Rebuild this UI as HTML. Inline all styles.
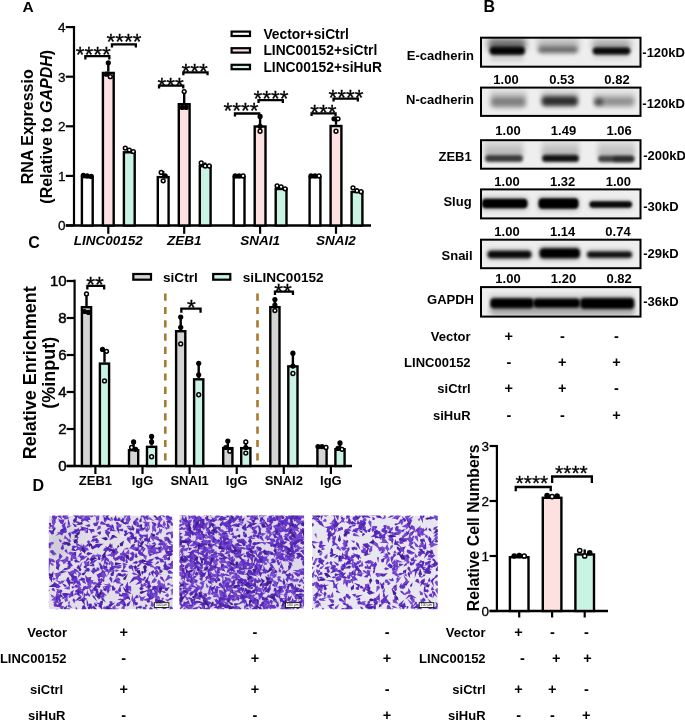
<!DOCTYPE html>
<html><head><meta charset="utf-8"><style>
html,body{margin:0;padding:0;background:#fff;}
body{width:685px;height:721px;overflow:hidden;}
svg{display:block;font-family:"Liberation Sans", sans-serif;will-change:transform;}
</style></head><body>
<svg width="685" height="721" viewBox="0 0 685 721">
<defs><linearGradient id="hzg" x1="0" y1="0" x2="0" y2="1"><stop offset="0" stop-color="#000" stop-opacity="0.25"/><stop offset="1" stop-color="#000" stop-opacity="1"/></linearGradient><clipPath id="cb0"><rect x="480" y="36.70" width="161.5" height="31.00"/></clipPath><filter id="fb3_0" x="-30%" y="-150%" width="160%" height="400%"><feGaussianBlur stdDeviation="3.0"/></filter><filter id="fb1_8" x="-30%" y="-150%" width="160%" height="400%"><feGaussianBlur stdDeviation="1.8"/></filter><filter id="fb2_5" x="-30%" y="-150%" width="160%" height="400%"><feGaussianBlur stdDeviation="2.5"/></filter><filter id="fb2_0" x="-30%" y="-150%" width="160%" height="400%"><feGaussianBlur stdDeviation="2.0"/></filter><filter id="fb1_7" x="-30%" y="-150%" width="160%" height="400%"><feGaussianBlur stdDeviation="1.7"/></filter><clipPath id="cb1"><rect x="480" y="86.60" width="161.5" height="30.30"/></clipPath><filter id="fb2_8" x="-30%" y="-150%" width="160%" height="400%"><feGaussianBlur stdDeviation="2.8"/></filter><filter id="fb2_6" x="-30%" y="-150%" width="160%" height="400%"><feGaussianBlur stdDeviation="2.6"/></filter><filter id="fb2_3" x="-30%" y="-150%" width="160%" height="400%"><feGaussianBlur stdDeviation="2.3"/></filter><clipPath id="cb2"><rect x="480" y="139.20" width="161.5" height="30.50"/></clipPath><clipPath id="cb3"><rect x="480" y="188.40" width="161.5" height="31.00"/></clipPath><filter id="fb1_3" x="-30%" y="-150%" width="160%" height="400%"><feGaussianBlur stdDeviation="1.3"/></filter><clipPath id="cb4"><rect x="480" y="238.70" width="161.5" height="30.50"/></clipPath><filter id="fb1_6" x="-30%" y="-150%" width="160%" height="400%"><feGaussianBlur stdDeviation="1.6"/></filter><clipPath id="cb5"><rect x="480" y="286.10" width="161.5" height="31.50"/></clipPath><filter id="fb1_5" x="-30%" y="-150%" width="160%" height="400%"><feGaussianBlur stdDeviation="1.5"/></filter><filter id="mblur" x="-5%" y="-5%" width="110%" height="110%"><feGaussianBlur stdDeviation="0.55"/></filter><filter id="mblur2" x="-20%" y="-20%" width="140%" height="140%"><feGaussianBlur stdDeviation="4"/></filter><clipPath id="cm0"><rect x="48.8" y="515.5" width="124.1" height="93.7"/></clipPath><clipPath id="cm1"><rect x="179.4" y="515.5" width="124.7" height="93.7"/></clipPath><clipPath id="cm2"><rect x="312.1" y="515.5" width="125.7" height="93.7"/></clipPath></defs>
<text x="22.40" y="12.00" font-size="15.5" font-weight="bold" font-style="normal" text-anchor="start" >A</text>
<line x1="74.00" y1="26.00" x2="74.00" y2="225.50" stroke="#000" stroke-width="2.2" />
<line x1="65.80" y1="225.50" x2="74.00" y2="225.50" stroke="#000" stroke-width="2.2" />
<text x="65.60" y="230.30" font-size="13.5" font-weight="normal" font-style="normal" text-anchor="end" stroke="#000" stroke-width="0.3">0</text>
<line x1="65.80" y1="175.90" x2="74.00" y2="175.90" stroke="#000" stroke-width="2.2" />
<text x="65.60" y="180.70" font-size="13.5" font-weight="normal" font-style="normal" text-anchor="end" stroke="#000" stroke-width="0.3">1</text>
<line x1="65.80" y1="126.30" x2="74.00" y2="126.30" stroke="#000" stroke-width="2.2" />
<text x="65.60" y="131.10" font-size="13.5" font-weight="normal" font-style="normal" text-anchor="end" stroke="#000" stroke-width="0.3">2</text>
<line x1="65.80" y1="76.70" x2="74.00" y2="76.70" stroke="#000" stroke-width="2.2" />
<text x="65.60" y="81.50" font-size="13.5" font-weight="normal" font-style="normal" text-anchor="end" stroke="#000" stroke-width="0.3">3</text>
<line x1="65.80" y1="27.10" x2="74.00" y2="27.10" stroke="#000" stroke-width="2.2" />
<text x="65.60" y="31.90" font-size="13.5" font-weight="normal" font-style="normal" text-anchor="end" stroke="#000" stroke-width="0.3">4</text>
<line x1="65.80" y1="225.50" x2="371.00" y2="225.50" stroke="#000" stroke-width="2.5" />
<rect x="81.90" y="177.10" width="10.80" height="48.40" fill="#fff" stroke="#000" stroke-width="2.4"/>
<line x1="87.30" y1="175.90" x2="87.30" y2="174.91" stroke="#000" stroke-width="2.4" />
<circle cx="87.30" cy="175.90" r="2.6" fill="#000"/>
<circle cx="83.30" cy="175.40" r="2.6" fill="#000"/>
<circle cx="91.30" cy="176.40" r="2.6" fill="#000"/>
<rect x="102.90" y="72.94" width="10.80" height="152.56" fill="#fde0e0" stroke="#000" stroke-width="2.4"/>
<line x1="108.30" y1="71.74" x2="108.30" y2="62.81" stroke="#000" stroke-width="2.4" />
<circle cx="108.30" cy="62.81" r="2.6" fill="#000"/>
<circle cx="110.30" cy="76.70" r="1.90" fill="#fff" stroke="#000" stroke-width="1.5"/>
<circle cx="106.30" cy="74.22" r="2.6" fill="#000"/>
<rect x="123.90" y="152.30" width="10.80" height="73.20" fill="#c9f4e3" stroke="#000" stroke-width="2.4"/>
<line x1="129.30" y1="151.10" x2="129.30" y2="148.62" stroke="#000" stroke-width="2.4" />
<circle cx="129.30" cy="150.11" r="1.90" fill="#fff" stroke="#000" stroke-width="1.5"/>
<circle cx="125.30" cy="148.12" r="1.90" fill="#fff" stroke="#000" stroke-width="1.5"/>
<circle cx="133.30" cy="151.60" r="1.90" fill="#fff" stroke="#000" stroke-width="1.5"/>
<line x1="108.30" y1="225.50" x2="108.30" y2="233.80" stroke="#000" stroke-width="2.2" />
<rect x="157.80" y="177.10" width="10.80" height="48.40" fill="#fff" stroke="#000" stroke-width="2.4"/>
<line x1="163.20" y1="175.90" x2="163.20" y2="170.94" stroke="#000" stroke-width="2.4" />
<circle cx="161.20" cy="172.43" r="1.90" fill="#fff" stroke="#000" stroke-width="1.5"/>
<circle cx="163.20" cy="180.86" r="1.90" fill="#fff" stroke="#000" stroke-width="1.5"/>
<circle cx="165.20" cy="175.90" r="2.6" fill="#000"/>
<rect x="178.80" y="104.19" width="10.80" height="121.31" fill="#fde0e0" stroke="#000" stroke-width="2.4"/>
<line x1="184.20" y1="102.99" x2="184.20" y2="91.58" stroke="#000" stroke-width="2.4" />
<circle cx="184.20" cy="91.58" r="1.90" fill="#fff" stroke="#000" stroke-width="1.5"/>
<circle cx="182.20" cy="107.45" r="2.6" fill="#000"/>
<circle cx="186.20" cy="107.45" r="2.6" fill="#000"/>
<rect x="199.80" y="166.19" width="10.80" height="59.31" fill="#c9f4e3" stroke="#000" stroke-width="2.4"/>
<line x1="205.20" y1="164.99" x2="205.20" y2="162.51" stroke="#000" stroke-width="2.4" />
<circle cx="201.20" cy="163.00" r="1.90" fill="#fff" stroke="#000" stroke-width="1.5"/>
<circle cx="205.20" cy="165.98" r="1.90" fill="#fff" stroke="#000" stroke-width="1.5"/>
<circle cx="209.20" cy="165.98" r="1.90" fill="#fff" stroke="#000" stroke-width="1.5"/>
<line x1="184.20" y1="225.50" x2="184.20" y2="233.80" stroke="#000" stroke-width="2.2" />
<rect x="233.70" y="177.10" width="10.80" height="48.40" fill="#fff" stroke="#000" stroke-width="2.4"/>
<circle cx="235.10" cy="175.90" r="2.6" fill="#000"/>
<circle cx="239.10" cy="175.90" r="2.6" fill="#000"/>
<circle cx="243.10" cy="175.90" r="1.90" fill="#fff" stroke="#000" stroke-width="1.5"/>
<rect x="254.70" y="126.51" width="10.80" height="98.99" fill="#fde0e0" stroke="#000" stroke-width="2.4"/>
<line x1="260.10" y1="125.31" x2="260.10" y2="116.38" stroke="#000" stroke-width="2.4" />
<circle cx="260.10" cy="116.38" r="2.6" fill="#000"/>
<circle cx="260.10" cy="126.30" r="2.6" fill="#000"/>
<circle cx="260.10" cy="131.26" r="1.90" fill="#fff" stroke="#000" stroke-width="1.5"/>
<rect x="275.70" y="189.00" width="10.80" height="36.50" fill="#c9f4e3" stroke="#000" stroke-width="2.4"/>
<line x1="281.10" y1="187.80" x2="281.10" y2="185.82" stroke="#000" stroke-width="2.4" />
<circle cx="277.10" cy="185.82" r="1.90" fill="#fff" stroke="#000" stroke-width="1.5"/>
<circle cx="281.10" cy="186.81" r="1.90" fill="#fff" stroke="#000" stroke-width="1.5"/>
<circle cx="285.10" cy="188.80" r="1.90" fill="#fff" stroke="#000" stroke-width="1.5"/>
<line x1="260.10" y1="225.50" x2="260.10" y2="233.80" stroke="#000" stroke-width="2.2" />
<rect x="309.60" y="177.10" width="10.80" height="48.40" fill="#fff" stroke="#000" stroke-width="2.4"/>
<circle cx="311.00" cy="175.90" r="2.6" fill="#000"/>
<circle cx="315.00" cy="175.90" r="2.6" fill="#000"/>
<circle cx="319.00" cy="175.90" r="1.90" fill="#fff" stroke="#000" stroke-width="1.5"/>
<rect x="330.60" y="126.01" width="10.80" height="99.49" fill="#fde0e0" stroke="#000" stroke-width="2.4"/>
<line x1="336.00" y1="124.81" x2="336.00" y2="116.38" stroke="#000" stroke-width="2.4" />
<circle cx="334.00" cy="118.86" r="2.6" fill="#000"/>
<circle cx="338.00" cy="118.86" r="1.90" fill="#fff" stroke="#000" stroke-width="1.5"/>
<circle cx="336.00" cy="131.26" r="1.90" fill="#fff" stroke="#000" stroke-width="1.5"/>
<rect x="351.60" y="191.98" width="10.80" height="33.52" fill="#c9f4e3" stroke="#000" stroke-width="2.4"/>
<line x1="357.00" y1="190.78" x2="357.00" y2="188.30" stroke="#000" stroke-width="2.4" />
<circle cx="353.00" cy="187.80" r="1.90" fill="#fff" stroke="#000" stroke-width="1.5"/>
<circle cx="357.00" cy="190.78" r="1.90" fill="#fff" stroke="#000" stroke-width="1.5"/>
<circle cx="361.00" cy="191.77" r="1.90" fill="#fff" stroke="#000" stroke-width="1.5"/>
<line x1="336.00" y1="225.50" x2="336.00" y2="233.80" stroke="#000" stroke-width="2.2" />
<text x="108.30" y="245.00" font-size="13.5" font-weight="bold" font-style="italic" text-anchor="middle" >LINC00152</text>
<text x="184.20" y="245.00" font-size="13.5" font-weight="bold" font-style="italic" text-anchor="middle" >ZEB1</text>
<text x="260.10" y="245.00" font-size="13.5" font-weight="bold" font-style="italic" text-anchor="middle" >SNAI1</text>
<text x="336.00" y="245.00" font-size="13.5" font-weight="bold" font-style="italic" text-anchor="middle" >SNAI2</text>
<text transform="translate(33.0,126.8) rotate(-90)" font-size="16" font-weight="bold" text-anchor="middle">RNA Expressio</text>
<text transform="translate(52.2,126.8) rotate(-90)" font-size="16" font-weight="bold" text-anchor="middle">(Relative to <tspan font-style="italic">GAPDH</tspan>)</text>
<rect x="231.6" y="31.60" width="18.4" height="4.4" fill="#fff" stroke="#000" stroke-width="2.2"/>
<text x="263.40" y="38.70" font-size="13.8" font-weight="bold" font-style="normal" text-anchor="start" >Vector+siCtrl</text>
<rect x="231.6" y="48.20" width="18.4" height="4.4" fill="#fde0e0" stroke="#000" stroke-width="2.2"/>
<text x="263.40" y="55.30" font-size="13.8" font-weight="bold" font-style="normal" text-anchor="start" >LINC00152+siCtrl</text>
<rect x="231.6" y="64.80" width="18.4" height="4.4" fill="#c9f4e3" stroke="#000" stroke-width="2.2"/>
<text x="263.40" y="71.90" font-size="13.8" font-weight="bold" font-style="normal" text-anchor="start" >LINC00152+siHuR</text>
<path d="M85.35,59.40 V56.10 H109.35 V59.40" fill="none" stroke="#000" stroke-width="2.3" stroke-linejoin="miter"/>
<text x="75.85" y="61.82" font-size="22.5" font-weight="normal" font-style="normal" text-anchor="start" stroke="#000" stroke-width="0.3">****</text>
<path d="M111.95,47.50 V44.30 H135.85 V47.50" fill="none" stroke="#000" stroke-width="2.3" stroke-linejoin="miter"/>
<text x="106.55" y="49.32" font-size="22.5" font-weight="normal" font-style="normal" text-anchor="start" stroke="#000" stroke-width="0.3">****</text>
<path d="M159.05,88.40 V85.60 H183.25 V88.40" fill="none" stroke="#000" stroke-width="2.3" stroke-linejoin="miter"/>
<text x="157.45" y="92.72" font-size="22.5" font-weight="normal" font-style="normal" text-anchor="start" stroke="#000" stroke-width="0.3">***</text>
<path d="M183.35,75.20 V72.40 H207.55 V75.20" fill="none" stroke="#000" stroke-width="2.3" stroke-linejoin="miter"/>
<text x="181.55" y="78.82" font-size="22.5" font-weight="normal" font-style="normal" text-anchor="start" stroke="#000" stroke-width="0.3">***</text>
<path d="M234.95,116.40 V113.50 H259.15 V116.40" fill="none" stroke="#000" stroke-width="2.3" stroke-linejoin="miter"/>
<text x="223.55" y="118.32" font-size="22.5" font-weight="normal" font-style="normal" text-anchor="start" stroke="#000" stroke-width="0.3">****</text>
<path d="M258.55,103.00 V100.20 H282.85 V103.00" fill="none" stroke="#000" stroke-width="2.3" stroke-linejoin="miter"/>
<text x="253.45" y="106.03" font-size="22.5" font-weight="normal" font-style="normal" text-anchor="start" stroke="#000" stroke-width="0.3">****</text>
<path d="M311.55,115.90 V113.40 H335.55 V115.90" fill="none" stroke="#000" stroke-width="2.3" stroke-linejoin="miter"/>
<text x="310.35" y="120.03" font-size="22.5" font-weight="normal" font-style="normal" text-anchor="start" stroke="#000" stroke-width="0.3">***</text>
<path d="M333.55,101.60 V98.70 H357.85 V101.60" fill="none" stroke="#000" stroke-width="2.3" stroke-linejoin="miter"/>
<text x="328.45" y="105.43" font-size="22.5" font-weight="normal" font-style="normal" text-anchor="start" stroke="#000" stroke-width="0.3">****</text>
<text x="483.60" y="11.90" font-size="16" font-weight="bold" font-style="normal" text-anchor="start" >B</text>
<g clip-path="url(#cb0)">
<rect x="480" y="36.70" width="161.5" height="31.00" fill="#eeeeee"/>
<rect x="488.00" y="38.50" width="38.00" height="12.00" rx="4.00" fill="#000" opacity="0.550" filter="url(#fb3_0)"/>
<rect x="489.50" y="46.55" width="35.50" height="8.50" rx="4.00" fill="#000" opacity="0.970" filter="url(#fb1_8)"/>
<rect x="490.00" y="55.00" width="34.00" height="5.00" rx="2.50" fill="#000" opacity="0.180" filter="url(#fb2_5)"/>
<rect x="537.00" y="38.50" width="42.00" height="11.00" rx="4.00" fill="#000" opacity="0.220" filter="url(#fb3_0)"/>
<rect x="538.00" y="46.40" width="40.00" height="6.80" rx="3.40" fill="#000" opacity="0.500" filter="url(#fb2_0)"/>
<rect x="592.00" y="40.00" width="39.00" height="10.00" rx="4.00" fill="#000" opacity="0.300" filter="url(#fb3_0)"/>
<rect x="592.50" y="47.30" width="38.00" height="7.40" rx="3.70" fill="#000" opacity="0.950" filter="url(#fb1_7)"/>
<rect x="593.00" y="54.50" width="37.00" height="4.00" rx="2.00" fill="#000" opacity="0.140" filter="url(#fb2_5)"/>
</g>
<rect x="481" y="37.70" width="159.5" height="29.00" fill="none" stroke="#000" stroke-width="2"/>
<text x="474.00" y="60.20" font-size="13" font-weight="bold" font-style="normal" text-anchor="end" >E-cadherin</text>
<text x="642.30" y="57.20" font-size="13" font-weight="bold" font-style="normal" text-anchor="start" >-120kD</text>
<g clip-path="url(#cb1)">
<rect x="480" y="86.60" width="161.5" height="30.30" fill="#eeeeee"/>
<rect x="490.00" y="90.50" width="37.00" height="9.00" rx="4.00" fill="#000" opacity="0.140" filter="url(#fb2_8)"/>
<rect x="490.50" y="97.30" width="35.50" height="10.00" rx="4.00" fill="#000" opacity="0.460" filter="url(#fb2_6)"/>
<rect x="541.00" y="90.50" width="38.00" height="9.00" rx="4.00" fill="#000" opacity="0.150" filter="url(#fb2_8)"/>
<rect x="541.50" y="96.30" width="36.50" height="10.00" rx="4.00" fill="#000" opacity="0.800" filter="url(#fb2_3)"/>
<rect x="593.00" y="91.50" width="43.00" height="9.00" rx="4.00" fill="#000" opacity="0.100" filter="url(#fb2_8)"/>
<rect x="594.50" y="97.50" width="40.00" height="9.00" rx="4.00" fill="#000" opacity="0.380" filter="url(#fb2_5)"/>
<rect x="594.00" y="98.50" width="9.00" height="7.00" rx="3.50" fill="#000" opacity="0.500" filter="url(#fb2_0)"/>
</g>
<rect x="481" y="87.60" width="159.5" height="28.30" fill="none" stroke="#000" stroke-width="2"/>
<text x="474.00" y="103.90" font-size="13" font-weight="bold" font-style="normal" text-anchor="end" >N-cadherin</text>
<text x="642.30" y="108.40" font-size="13" font-weight="bold" font-style="normal" text-anchor="start" >-120kD</text>
<g clip-path="url(#cb2)">
<rect x="480" y="139.20" width="161.5" height="30.50" fill="#eeeeee"/>
<rect x="484.70" y="141.00" width="38.50" height="15.00" fill="url(#hzg)" opacity="0.280" filter="url(#fb2_5)"/>
<rect x="485.00" y="154.90" width="38.00" height="7.00" rx="3.50" fill="#000" opacity="0.740" filter="url(#fb1_8)"/>
<rect x="541.80" y="141.00" width="37.20" height="15.00" fill="url(#hzg)" opacity="0.280" filter="url(#fb2_5)"/>
<rect x="542.00" y="154.70" width="37.00" height="7.40" rx="3.70" fill="#000" opacity="0.920" filter="url(#fb1_8)"/>
<rect x="597.60" y="141.00" width="37.30" height="15.00" fill="url(#hzg)" opacity="0.250" filter="url(#fb2_5)"/>
<rect x="598.00" y="155.40" width="36.50" height="6.80" rx="3.40" fill="#000" opacity="0.720" filter="url(#fb1_8)"/>
<rect x="613.00" y="156.30" width="21.00" height="6.00" rx="3.00" fill="#000" opacity="0.350" filter="url(#fb1_8)"/>
</g>
<rect x="481" y="140.20" width="159.5" height="28.50" fill="none" stroke="#000" stroke-width="2"/>
<text x="471.70" y="160.60" font-size="13" font-weight="bold" font-style="normal" text-anchor="end" >ZEB1</text>
<text x="643.20" y="159.90" font-size="13" font-weight="bold" font-style="normal" text-anchor="start" >-200kD</text>
<g clip-path="url(#cb3)">
<rect x="480" y="188.40" width="161.5" height="31.00" fill="#eeeeee"/>
<rect x="481.00" y="197.00" width="47.00" height="13.00" rx="4.00" fill="#000" opacity="0.250" filter="url(#fb2_5)"/>
<rect x="482.00" y="198.65" width="45.50" height="9.50" rx="4.00" fill="#000" opacity="1.000" filter="url(#fb1_3)"/>
<rect x="538.00" y="196.50" width="41.00" height="14.00" rx="4.00" fill="#000" opacity="0.250" filter="url(#fb2_5)"/>
<rect x="538.50" y="198.15" width="40.00" height="10.50" rx="4.00" fill="#000" opacity="1.000" filter="url(#fb1_3)"/>
<rect x="589.00" y="200.00" width="43.40" height="9.00" rx="4.00" fill="#000" opacity="0.200" filter="url(#fb2_5)"/>
<rect x="589.50" y="201.15" width="42.50" height="6.50" rx="3.25" fill="#000" opacity="0.950" filter="url(#fb1_3)"/>
</g>
<rect x="481" y="189.40" width="159.5" height="29.00" fill="none" stroke="#000" stroke-width="2"/>
<text x="471.60" y="206.20" font-size="13" font-weight="bold" font-style="normal" text-anchor="end" >Slug</text>
<text x="643.20" y="210.60" font-size="13" font-weight="bold" font-style="normal" text-anchor="start" >-30kD</text>
<g clip-path="url(#cb4)">
<rect x="480" y="238.70" width="161.5" height="30.50" fill="#eeeeee"/>
<rect x="487.00" y="249.00" width="44.80" height="11.00" rx="4.00" fill="#000" opacity="0.220" filter="url(#fb2_5)"/>
<rect x="487.50" y="250.80" width="44.00" height="7.40" rx="3.70" fill="#000" opacity="0.950" filter="url(#fb1_6)"/>
<rect x="539.30" y="246.30" width="40.90" height="14.00" rx="4.00" fill="#000" opacity="0.250" filter="url(#fb2_5)"/>
<rect x="539.50" y="248.30" width="40.50" height="10.00" rx="4.00" fill="#000" opacity="1.000" filter="url(#fb1_6)"/>
<rect x="586.40" y="249.60" width="46.00" height="10.00" rx="4.00" fill="#000" opacity="0.200" filter="url(#fb2_5)"/>
<rect x="587.00" y="251.40" width="45.00" height="6.40" rx="3.20" fill="#000" opacity="0.920" filter="url(#fb1_6)"/>
</g>
<rect x="481" y="239.70" width="159.5" height="28.50" fill="none" stroke="#000" stroke-width="2"/>
<text x="472.60" y="259.90" font-size="13" font-weight="bold" font-style="normal" text-anchor="end" >Snail</text>
<text x="643.20" y="257.60" font-size="13" font-weight="bold" font-style="normal" text-anchor="start" >-29kD</text>
<g clip-path="url(#cb5)">
<rect x="480" y="286.10" width="161.5" height="31.50" fill="#eeeeee"/>
<rect x="489.60" y="306.00" width="145.20" height="9.00" rx="4.00" fill="#000" opacity="0.300" filter="url(#fb2_6)"/>
<rect x="489.60" y="294.00" width="145.20" height="6.00" rx="3.00" fill="#000" opacity="0.120" filter="url(#fb2_5)"/>
<rect x="490.00" y="298.00" width="44.00" height="10.40" rx="4.00" fill="#000" opacity="1.000" filter="url(#fb1_5)"/>
<rect x="533.00" y="298.30" width="47.50" height="9.80" rx="4.00" fill="#000" opacity="1.000" filter="url(#fb1_5)"/>
<rect x="580.00" y="297.70" width="54.50" height="11.40" rx="4.00" fill="#000" opacity="1.000" filter="url(#fb1_5)"/>
</g>
<rect x="481" y="287.10" width="159.5" height="29.50" fill="none" stroke="#000" stroke-width="2"/>
<text x="474.00" y="304.40" font-size="13" font-weight="bold" font-style="normal" text-anchor="end" >GAPDH</text>
<text x="643.20" y="305.60" font-size="13" font-weight="bold" font-style="normal" text-anchor="start" >-36kD</text>
<text x="506.00" y="83.90" font-size="13" font-weight="bold" font-style="normal" text-anchor="middle" >1.00</text>
<text x="561.90" y="83.90" font-size="13" font-weight="bold" font-style="normal" text-anchor="middle" >0.53</text>
<text x="617.00" y="83.90" font-size="13" font-weight="bold" font-style="normal" text-anchor="middle" >0.82</text>
<text x="508.00" y="134.50" font-size="13" font-weight="bold" font-style="normal" text-anchor="middle" >1.00</text>
<text x="563.50" y="134.50" font-size="13" font-weight="bold" font-style="normal" text-anchor="middle" >1.49</text>
<text x="619.10" y="134.50" font-size="13" font-weight="bold" font-style="normal" text-anchor="middle" >1.06</text>
<text x="507.00" y="185.90" font-size="13" font-weight="bold" font-style="normal" text-anchor="middle" >1.00</text>
<text x="562.70" y="185.90" font-size="13" font-weight="bold" font-style="normal" text-anchor="middle" >1.32</text>
<text x="618.40" y="185.90" font-size="13" font-weight="bold" font-style="normal" text-anchor="middle" >1.00</text>
<text x="507.00" y="235.50" font-size="13" font-weight="bold" font-style="normal" text-anchor="middle" >1.00</text>
<text x="562.70" y="235.50" font-size="13" font-weight="bold" font-style="normal" text-anchor="middle" >1.14</text>
<text x="618.00" y="235.50" font-size="13" font-weight="bold" font-style="normal" text-anchor="middle" >0.74</text>
<text x="508.00" y="282.80" font-size="13" font-weight="bold" font-style="normal" text-anchor="middle" >1.00</text>
<text x="563.50" y="282.80" font-size="13" font-weight="bold" font-style="normal" text-anchor="middle" >1.20</text>
<text x="619.10" y="282.80" font-size="13" font-weight="bold" font-style="normal" text-anchor="middle" >0.82</text>
<text x="470.60" y="341.00" font-size="13" font-weight="bold" font-style="normal" text-anchor="end" >Vector</text>
<text x="508.80" y="341.00" font-size="14.5" font-weight="bold" font-style="normal" text-anchor="middle" >+</text>
<text x="562.30" y="341.00" font-size="14.5" font-weight="bold" font-style="normal" text-anchor="middle" >-</text>
<text x="616.50" y="341.00" font-size="14.5" font-weight="bold" font-style="normal" text-anchor="middle" >-</text>
<text x="470.60" y="367.40" font-size="13" font-weight="bold" font-style="normal" text-anchor="end" >LINC00152</text>
<text x="508.80" y="367.40" font-size="14.5" font-weight="bold" font-style="normal" text-anchor="middle" >-</text>
<text x="562.30" y="367.40" font-size="14.5" font-weight="bold" font-style="normal" text-anchor="middle" >+</text>
<text x="616.50" y="367.40" font-size="14.5" font-weight="bold" font-style="normal" text-anchor="middle" >+</text>
<text x="470.60" y="392.80" font-size="13" font-weight="bold" font-style="normal" text-anchor="end" >siCtrl</text>
<text x="508.80" y="392.80" font-size="14.5" font-weight="bold" font-style="normal" text-anchor="middle" >+</text>
<text x="562.30" y="392.80" font-size="14.5" font-weight="bold" font-style="normal" text-anchor="middle" >+</text>
<text x="616.50" y="392.80" font-size="14.5" font-weight="bold" font-style="normal" text-anchor="middle" >-</text>
<text x="470.60" y="420.40" font-size="13" font-weight="bold" font-style="normal" text-anchor="end" >siHuR</text>
<text x="508.80" y="420.40" font-size="14.5" font-weight="bold" font-style="normal" text-anchor="middle" >-</text>
<text x="562.30" y="420.40" font-size="14.5" font-weight="bold" font-style="normal" text-anchor="middle" >-</text>
<text x="616.50" y="420.40" font-size="14.5" font-weight="bold" font-style="normal" text-anchor="middle" >+</text>
<text x="28.20" y="248.00" font-size="16" font-weight="bold" font-style="normal" text-anchor="start" >C</text>
<line x1="74.60" y1="279.60" x2="74.60" y2="466.00" stroke="#000" stroke-width="2.2" />
<line x1="66.60" y1="466.00" x2="74.60" y2="466.00" stroke="#000" stroke-width="2.2" />
<text x="66.60" y="471.40" font-size="15" font-weight="normal" font-style="normal" text-anchor="end" stroke="#000" stroke-width="0.45">0</text>
<line x1="66.60" y1="429.00" x2="74.60" y2="429.00" stroke="#000" stroke-width="2.2" />
<text x="66.60" y="434.40" font-size="15" font-weight="normal" font-style="normal" text-anchor="end" stroke="#000" stroke-width="0.45">2</text>
<line x1="66.60" y1="392.00" x2="74.60" y2="392.00" stroke="#000" stroke-width="2.2" />
<text x="66.60" y="397.40" font-size="15" font-weight="normal" font-style="normal" text-anchor="end" stroke="#000" stroke-width="0.45">4</text>
<line x1="66.60" y1="355.00" x2="74.60" y2="355.00" stroke="#000" stroke-width="2.2" />
<text x="66.60" y="360.40" font-size="15" font-weight="normal" font-style="normal" text-anchor="end" stroke="#000" stroke-width="0.45">6</text>
<line x1="66.60" y1="318.00" x2="74.60" y2="318.00" stroke="#000" stroke-width="2.2" />
<text x="66.60" y="323.40" font-size="15" font-weight="normal" font-style="normal" text-anchor="end" stroke="#000" stroke-width="0.45">8</text>
<line x1="66.60" y1="281.00" x2="74.60" y2="281.00" stroke="#000" stroke-width="2.2" />
<text x="66.60" y="286.40" font-size="15" font-weight="normal" font-style="normal" text-anchor="end" stroke="#000" stroke-width="0.45">10</text>
<line x1="66.60" y1="466.00" x2="352.00" y2="466.00" stroke="#000" stroke-width="2.5" />
<rect x="81.90" y="307.18" width="9.20" height="158.82" fill="#d4d4d4" stroke="#000" stroke-width="2.4"/>
<line x1="86.50" y1="305.98" x2="86.50" y2="293.95" stroke="#000" stroke-width="2.4" />
<circle cx="86.50" cy="293.95" r="1.90" fill="#fff" stroke="#000" stroke-width="1.5"/>
<circle cx="88.50" cy="312.45" r="2.6" fill="#000"/>
<circle cx="84.50" cy="311.52" r="2.6" fill="#000"/>
<rect x="99.90" y="363.60" width="9.20" height="102.40" fill="#c9f4e3" stroke="#000" stroke-width="2.4"/>
<line x1="104.50" y1="362.40" x2="104.50" y2="349.45" stroke="#000" stroke-width="2.4" />
<circle cx="102.50" cy="349.45" r="2.6" fill="#000"/>
<circle cx="106.50" cy="351.30" r="1.90" fill="#fff" stroke="#000" stroke-width="1.5"/>
<circle cx="104.50" cy="380.90" r="1.90" fill="#fff" stroke="#000" stroke-width="1.5"/>
<line x1="95.40" y1="466.00" x2="95.40" y2="474.00" stroke="#000" stroke-width="2.2" />
<rect x="129.00" y="450.18" width="9.20" height="15.82" fill="#d4d4d4" stroke="#000" stroke-width="2.4"/>
<line x1="133.60" y1="448.98" x2="133.60" y2="441.95" stroke="#000" stroke-width="2.4" />
<circle cx="133.60" cy="441.95" r="2.6" fill="#000"/>
<circle cx="135.60" cy="449.35" r="2.6" fill="#000"/>
<circle cx="131.60" cy="447.50" r="1.90" fill="#fff" stroke="#000" stroke-width="1.5"/>
<rect x="147.00" y="446.85" width="9.20" height="19.15" fill="#c9f4e3" stroke="#000" stroke-width="2.4"/>
<line x1="151.60" y1="445.65" x2="151.60" y2="436.40" stroke="#000" stroke-width="2.4" />
<circle cx="151.60" cy="436.40" r="2.6" fill="#000"/>
<circle cx="151.60" cy="441.95" r="2.6" fill="#000"/>
<circle cx="151.60" cy="456.75" r="1.90" fill="#fff" stroke="#000" stroke-width="1.5"/>
<line x1="142.50" y1="466.00" x2="142.50" y2="474.00" stroke="#000" stroke-width="2.2" />
<rect x="176.10" y="331.22" width="9.20" height="134.78" fill="#d4d4d4" stroke="#000" stroke-width="2.4"/>
<line x1="180.70" y1="330.02" x2="180.70" y2="317.07" stroke="#000" stroke-width="2.4" />
<circle cx="180.70" cy="317.07" r="2.6" fill="#000"/>
<circle cx="180.70" cy="327.25" r="2.6" fill="#000"/>
<circle cx="180.70" cy="343.90" r="1.90" fill="#fff" stroke="#000" stroke-width="1.5"/>
<rect x="194.10" y="379.32" width="9.20" height="86.68" fill="#c9f4e3" stroke="#000" stroke-width="2.4"/>
<line x1="198.70" y1="378.12" x2="198.70" y2="363.32" stroke="#000" stroke-width="2.4" />
<circle cx="198.70" cy="363.32" r="2.6" fill="#000"/>
<circle cx="198.70" cy="374.80" r="2.6" fill="#000"/>
<circle cx="198.70" cy="394.77" r="1.90" fill="#fff" stroke="#000" stroke-width="1.5"/>
<line x1="189.60" y1="466.00" x2="189.60" y2="474.00" stroke="#000" stroke-width="2.2" />
<rect x="223.20" y="448.14" width="9.20" height="17.86" fill="#d4d4d4" stroke="#000" stroke-width="2.4"/>
<line x1="227.80" y1="446.94" x2="227.80" y2="441.02" stroke="#000" stroke-width="2.4" />
<circle cx="227.80" cy="441.02" r="2.6" fill="#000"/>
<circle cx="225.80" cy="447.50" r="2.6" fill="#000"/>
<circle cx="229.80" cy="451.20" r="1.90" fill="#fff" stroke="#000" stroke-width="1.5"/>
<rect x="241.20" y="448.14" width="9.20" height="17.86" fill="#c9f4e3" stroke="#000" stroke-width="2.4"/>
<line x1="245.80" y1="446.94" x2="245.80" y2="441.95" stroke="#000" stroke-width="2.4" />
<circle cx="245.80" cy="441.95" r="1.90" fill="#fff" stroke="#000" stroke-width="1.5"/>
<circle cx="245.80" cy="447.50" r="2.6" fill="#000"/>
<circle cx="245.80" cy="453.05" r="1.90" fill="#fff" stroke="#000" stroke-width="1.5"/>
<line x1="236.70" y1="466.00" x2="236.70" y2="474.00" stroke="#000" stroke-width="2.2" />
<rect x="270.30" y="307.18" width="9.20" height="158.82" fill="#d4d4d4" stroke="#000" stroke-width="2.4"/>
<line x1="274.90" y1="305.98" x2="274.90" y2="299.50" stroke="#000" stroke-width="2.4" />
<circle cx="274.90" cy="299.50" r="2.6" fill="#000"/>
<circle cx="274.90" cy="310.60" r="1.90" fill="#fff" stroke="#000" stroke-width="1.5"/>
<circle cx="274.90" cy="305.05" r="2.6" fill="#000"/>
<rect x="288.30" y="366.38" width="9.20" height="99.62" fill="#c9f4e3" stroke="#000" stroke-width="2.4"/>
<line x1="292.90" y1="365.18" x2="292.90" y2="353.15" stroke="#000" stroke-width="2.4" />
<circle cx="292.90" cy="353.15" r="2.6" fill="#000"/>
<circle cx="292.90" cy="366.10" r="2.6" fill="#000"/>
<circle cx="292.90" cy="373.50" r="1.90" fill="#fff" stroke="#000" stroke-width="1.5"/>
<line x1="283.80" y1="466.00" x2="283.80" y2="474.00" stroke="#000" stroke-width="2.2" />
<rect x="317.40" y="447.59" width="9.20" height="18.41" fill="#d4d4d4" stroke="#000" stroke-width="2.4"/>
<circle cx="318.00" cy="446.57" r="2.6" fill="#000"/>
<circle cx="322.00" cy="446.57" r="2.6" fill="#000"/>
<circle cx="326.00" cy="447.50" r="1.90" fill="#fff" stroke="#000" stroke-width="1.5"/>
<rect x="335.40" y="449.25" width="9.20" height="16.75" fill="#c9f4e3" stroke="#000" stroke-width="2.4"/>
<line x1="340.00" y1="448.06" x2="340.00" y2="441.95" stroke="#000" stroke-width="2.4" />
<circle cx="340.00" cy="442.88" r="2.6" fill="#000"/>
<circle cx="338.00" cy="448.43" r="2.6" fill="#000"/>
<circle cx="342.00" cy="449.35" r="1.90" fill="#fff" stroke="#000" stroke-width="1.5"/>
<line x1="330.90" y1="466.00" x2="330.90" y2="474.00" stroke="#000" stroke-width="2.2" />
<text x="95.40" y="484.80" font-size="13" font-weight="bold" font-style="normal" text-anchor="middle" >ZEB1</text>
<text x="142.50" y="484.80" font-size="13" font-weight="bold" font-style="normal" text-anchor="middle" >IgG</text>
<text x="189.60" y="484.80" font-size="13" font-weight="bold" font-style="normal" text-anchor="middle" >SNAI1</text>
<text x="236.70" y="484.80" font-size="13" font-weight="bold" font-style="normal" text-anchor="middle" >IgG</text>
<text x="283.80" y="484.80" font-size="13" font-weight="bold" font-style="normal" text-anchor="middle" >SNAI2</text>
<text x="330.90" y="484.80" font-size="13" font-weight="bold" font-style="normal" text-anchor="middle" >IgG</text>
<text transform="translate(35.6,372.8) rotate(-90)" font-size="18" font-weight="bold" text-anchor="middle">Relative Enrichment</text>
<text transform="translate(54.6,372.8) rotate(-90)" font-size="18" font-weight="bold" text-anchor="middle">(%input)</text>
<line x1="165.3" y1="293.6" x2="165.3" y2="466" stroke="#a87a2e" stroke-width="2.6" stroke-dasharray="7.2,6.1"/>
<line x1="257.5" y1="293.6" x2="257.5" y2="466" stroke="#a87a2e" stroke-width="2.6" stroke-dasharray="7.2,6.1"/>
<rect x="133.3" y="274.0" width="17.7" height="5.7" fill="#d4d4d4" stroke="#000" stroke-width="2.2"/>
<text x="163.00" y="281.60" font-size="13.6" font-weight="bold" font-style="normal" text-anchor="start" >siCtrl</text>
<rect x="213.2" y="274.0" width="17.1" height="5.7" fill="#c9f4e3" stroke="#000" stroke-width="2.2"/>
<text x="242.80" y="281.60" font-size="13.6" font-weight="bold" font-style="normal" text-anchor="start" >siLINC00152</text>
<path d="M87.35,289.50 V285.80 H104.15 V289.50" fill="none" stroke="#000" stroke-width="2.3" stroke-linejoin="miter"/>
<text x="86.25" y="292.32" font-size="22.5" font-weight="normal" font-style="normal" text-anchor="start" stroke="#000" stroke-width="0.3">**</text>
<path d="M181.35,312.80 V308.70 H200.55 V312.80" fill="none" stroke="#000" stroke-width="2.3" stroke-linejoin="miter"/>
<text x="186.95" y="314.82" font-size="22.5" font-weight="normal" font-style="normal" text-anchor="start" stroke="#000" stroke-width="0.3">*</text>
<path d="M274.95,295.00 V291.60 H292.95 V295.00" fill="none" stroke="#000" stroke-width="2.3" stroke-linejoin="miter"/>
<text x="274.35" y="298.82" font-size="22.5" font-weight="normal" font-style="normal" text-anchor="start" stroke="#000" stroke-width="0.3">**</text>
<text x="32.40" y="490.60" font-size="16" font-weight="bold" font-style="normal" text-anchor="start" >D</text>
<g clip-path="url(#cm0)">
<rect x="48.8" y="515.5" width="124.1" height="93.7" fill="#e2dfe9"/>
<circle cx="58" cy="545" r="13" fill="#b8b8c0" opacity="0.45" filter="url(#mblur2)"/>
<circle cx="75" cy="532" r="8" fill="#c4c4cc" opacity="0.35" filter="url(#mblur2)"/>
<g filter="url(#mblur)">
<path d="M104.2,560.8L108.0,562.5L107.9,564.8L105.7,564.7ZM168.3,577.1L172.1,576.8L172.3,577.9L171.7,578.8ZM73.3,515.0L78.3,513.7L79.7,515.8L77.8,517.5ZM135.1,553.2L133.1,560.2L130.0,561.3L129.6,557.9ZM161.5,511.9L155.1,514.2L153.3,512.9L154.8,511.2ZM130.5,589.5L127.4,591.6L125.8,590.6L126.8,588.9ZM73.1,520.7L79.2,521.8L80.4,523.6L78.4,524.1ZM88.7,544.9L86.9,541.5L88.5,540.3L90.2,541.4ZM124.5,557.2L122.2,554.1L124.2,552.7L126.3,553.8ZM162.2,574.3L155.5,574.8L154.3,573.5L155.7,572.4ZM155.7,586.9L160.6,583.2L163.6,583.8L161.8,586.3ZM91.8,576.8L88.6,580.9L85.8,580.4L86.7,577.7ZM78.8,531.2L81.8,527.9L83.6,528.3L83.0,530.1ZM103.3,514.7L106.0,520.7L105.5,523.0L103.9,521.3ZM150.7,510.8L149.3,515.6L148.0,515.9L147.5,514.6ZM71.1,557.3L73.3,560.0L72.0,560.9L70.4,560.7ZM55.0,603.3L58.6,604.9L58.8,607.1L56.5,607.0ZM175.2,563.2L174.1,567.8L171.9,567.4L170.9,565.4ZM62.3,522.8L66.2,527.5L65.5,530.8L62.7,529.0ZM168.6,564.7L172.5,563.2L173.7,564.8L172.4,566.4ZM166.8,564.2L172.9,562.3L175.2,563.8L173.0,565.5ZM167.1,536.6L167.0,540.5L165.0,541.4L164.3,539.3ZM88.1,526.1L88.0,532.9L86.8,533.3L85.7,532.5ZM78.3,583.3L73.7,581.9L73.4,579.5L75.8,579.2ZM129.5,595.1L125.7,600.0L123.5,599.2L123.5,596.9ZM165.3,528.7L159.7,526.3L158.4,523.8L161.2,524.2ZM169.8,519.4L173.6,524.3L172.6,525.8L170.8,525.5ZM62.2,519.6L57.8,516.5L58.6,514.9L60.4,514.6ZM102.2,590.5L106.0,587.0L108.1,587.7L107.3,589.8ZM133.6,598.9L136.7,594.7L138.3,595.8L138.7,597.7ZM52.0,574.9L47.7,575.0L47.5,573.4L48.6,572.3ZM115.4,608.7L121.2,611.4L122.6,613.7L119.9,613.2ZM98.4,561.9L102.0,564.9L101.8,566.8L99.9,566.4ZM140.9,544.8L137.8,542.0L137.8,540.1L139.5,540.9ZM167.7,589.7L160.6,588.4L158.7,585.2L162.4,584.8ZM137.5,532.4L143.4,535.7L143.2,538.1L140.8,538.4ZM131.1,585.9L128.6,589.7L126.0,588.9L126.5,586.2ZM170.0,547.1L174.5,542.7L176.7,543.9L176.3,546.3ZM153.2,554.4L149.7,556.4L148.7,554.6L149.5,552.8ZM150.2,528.2L147.0,532.2L145.7,531.1L145.2,529.4ZM70.6,539.0L68.0,533.5L69.5,532.3L71.3,532.9ZM154.3,550.6L149.3,552.2L147.4,551.0L149.1,549.6ZM43.2,556.4L49.1,558.9L48.7,560.8L46.9,561.7ZM95.0,602.5L101.4,603.0L102.9,604.7L100.7,605.4ZM151.3,544.1L154.3,542.1L155.9,543.2L154.9,544.7ZM137.1,519.5L136.6,524.7L134.0,525.3L133.0,522.8ZM71.6,577.6L71.4,572.7L73.2,572.2L74.4,573.7ZM87.6,592.2L90.2,595.0L89.8,596.7L88.2,596.0ZM99.7,598.4L96.8,596.1L97.6,595.1L98.9,594.8ZM55.7,600.1L56.9,605.3L54.9,607.3L53.5,604.9ZM150.9,593.0L148.9,596.6L146.9,595.8L146.8,593.6ZM179.1,562.2L173.6,565.5L171.1,565.0L172.8,563.2ZM174.2,596.9L173.2,593.0L175.4,591.8L176.9,593.9ZM124.1,554.8L125.6,560.4L123.7,562.5L122.1,560.2ZM83.0,514.8L89.5,517.1L90.6,520.1L87.4,520.1ZM62.9,591.5L57.8,593.5L56.8,591.5L57.8,589.4ZM156.3,553.0L150.8,553.0L148.6,551.5L151.2,550.9ZM109.2,538.3L105.0,532.7L106.0,529.3L108.8,531.4ZM143.5,528.6L136.9,526.7L136.6,524.8L138.3,524.1ZM61.6,611.7L56.2,611.8L55.0,609.8L57.1,608.7ZM142.4,563.3L148.9,562.4L151.7,564.5L148.5,565.9ZM117.2,599.6L120.9,598.5L121.9,599.5L120.9,600.5ZM74.7,590.6L81.5,590.8L83.7,593.1L80.6,594.0ZM174.4,531.9L173.0,526.0L173.9,523.2L175.1,525.9ZM119.8,603.5L121.9,598.9L124.6,599.1L124.5,601.8ZM91.7,533.9L89.7,530.5L90.6,529.2L92.1,529.9ZM50.7,550.2L54.1,551.1L53.7,552.3L52.7,553.0ZM100.2,561.9L102.4,567.5L101.4,569.8L99.8,567.9ZM165.9,601.1L170.4,597.7L172.1,598.1L171.4,599.7ZM92.8,547.2L95.6,543.9L97.2,544.1L96.9,545.8ZM121.3,583.8L116.5,583.3L116.0,581.6L117.6,580.7ZM166.1,544.6L172.1,548.2L172.4,551.1L169.5,550.7ZM54.3,525.5L50.3,527.5L49.4,526.2L49.9,524.8ZM73.5,581.9L74.9,578.7L76.4,579.6L76.9,581.2ZM134.7,566.3L129.9,569.2L128.4,567.5L129.2,565.4ZM165.8,542.7L160.6,545.7L157.8,544.5L159.8,542.2ZM126.6,557.6L128.0,562.2L126.7,563.6L125.4,562.2ZM82.1,546.5L77.0,545.6L76.9,544.4L77.9,543.5ZM105.7,577.1L98.7,577.1L96.9,574.4L99.9,573.1ZM172.4,524.8L175.4,522.8L176.4,524.3L175.8,526.0ZM150.3,592.3L151.5,597.0L149.6,599.1L148.2,596.7ZM59.3,530.4L65.9,528.6L66.9,529.8L66.1,531.1ZM49.0,573.5L46.9,568.2L48.0,566.5L49.5,567.8ZM84.4,520.2L78.0,518.3L77.7,516.6L79.2,515.9ZM149.5,580.7L150.7,587.1L148.4,589.9L146.9,586.6ZM172.8,553.1L168.5,554.5L167.5,552.3L169.1,550.5ZM154.4,546.8L151.4,550.4L149.9,549.8L149.9,548.2ZM87.2,581.9L91.2,586.7L90.2,588.2L88.3,588.0ZM93.2,586.3L86.8,589.4L85.3,588.2L86.1,586.5ZM135.6,534.5L136.2,528.5L138.5,528.5L139.9,530.3ZM159.5,571.4L157.7,576.5L155.7,577.6L155.8,575.3ZM129.4,552.8L133.7,553.1L134.0,555.1L132.2,556.1ZM160.2,593.8L154.9,589.5L155.5,587.2L157.9,587.4ZM151.4,521.6L156.2,523.3L156.4,526.1L153.6,526.2ZM176.1,538.2L172.3,532.7L173.2,529.9L175.7,531.5ZM44.1,543.6L49.3,545.9L50.2,548.2L47.7,548.0ZM65.3,580.6L62.3,582.9L60.8,582.3L61.5,580.8ZM69.5,616.3L70.4,610.2L72.2,609.4L73.0,611.3ZM77.7,601.0L83.4,597.5L86.8,598.4L84.4,600.9ZM86.2,584.3L82.4,582.3L82.2,579.9L84.5,580.3ZM158.9,572.9L154.9,572.8L155.2,570.7L157.0,569.4ZM145.3,580.0L138.5,581.1L136.5,578.7L139.1,577.0ZM101.6,597.1L95.5,596.6L94.9,594.1L97.2,592.8ZM127.7,581.4L128.5,587.8L126.5,588.3L124.9,587.2ZM165.6,517.7L160.7,515.6L160.1,513.0L162.7,513.1ZM62.7,524.8L60.8,520.6L62.6,519.5L64.5,520.6ZM77.3,560.0L72.3,558.6L71.8,555.7L74.6,555.5ZM176.5,563.8L171.6,566.9L169.8,565.4L170.7,563.1ZM61.0,593.2L67.0,593.1L67.3,594.4L66.5,595.4ZM80.3,611.5L85.3,607.4L86.5,607.9L86.4,609.2ZM110.8,606.2L109.2,601.8L111.1,600.9L112.8,602.0ZM115.9,555.0L116.0,551.3L117.7,550.9L118.6,552.4ZM90.4,570.2L94.9,571.1L94.7,573.0L93.1,573.9ZM112.6,590.5L111.8,586.9L113.2,585.6L114.3,587.2ZM162.4,552.1L156.9,553.8L154.3,552.9L156.6,551.6ZM117.7,602.3L119.6,605.5L117.6,606.5L115.6,605.5ZM146.8,556.8L139.7,555.5L138.1,552.4L141.6,551.9ZM141.9,553.8L142.9,549.0L144.7,547.8L144.9,549.9ZM92.0,587.6L97.7,589.6L98.0,591.1L96.5,591.7ZM85.4,580.5L89.9,580.7L89.8,582.7L88.3,584.0ZM103.4,565.7L104.4,559.7L106.4,557.6L106.5,560.5ZM140.3,541.6L138.8,538.3L140.4,537.7L142.0,538.4ZM59.4,560.6L63.7,559.6L65.5,561.0L63.5,562.2ZM148.0,533.0L147.8,539.8L146.1,540.7L145.0,539.2ZM143.7,563.7L149.0,563.4L149.9,564.8L148.5,565.8ZM44.8,558.2L50.2,560.7L51.2,563.7L48.1,563.2ZM116.2,607.4L113.3,610.2L112.5,608.4L112.3,606.4ZM155.3,577.0L155.1,582.6L153.3,582.4L151.7,581.3ZM90.9,582.8L87.4,580.1L88.9,578.7L90.9,578.3ZM107.9,594.0L106.4,589.8L108.2,588.7L109.9,590.1ZM144.4,544.1L148.9,545.5L149.7,547.6L147.5,547.7ZM155.5,511.9L152.2,515.2L151.0,514.6L151.1,513.3ZM108.0,551.1L103.3,551.1L103.6,549.0L105.1,547.5ZM112.5,524.2L112.4,529.7L110.4,531.8L109.8,529.0ZM98.7,520.7L96.0,517.5L97.7,516.7L99.5,516.6ZM153.8,562.7L148.8,563.4L147.9,562.1L149.1,561.0ZM81.0,573.9L74.7,571.1L73.4,568.6L76.2,569.0ZM109.0,548.4L114.0,549.5L115.0,551.4L112.9,551.8ZM56.6,566.7L55.6,560.8L58.0,559.7L59.7,561.6ZM151.3,597.6L149.8,591.4L151.0,588.4L152.4,591.3ZM142.4,599.9L149.0,597.8L150.7,599.5L149.2,601.2ZM73.6,582.1L74.5,576.2L76.4,575.7L77.4,577.4ZM112.5,558.0L116.6,558.9L116.7,560.4L115.5,561.1ZM52.2,514.4L57.0,517.1L56.3,519.4L53.9,519.7ZM107.4,525.1L100.3,524.6L100.3,522.5L101.7,520.9ZM139.0,575.5L133.1,574.6L132.0,573.0L133.9,572.5ZM113.4,548.2L113.0,554.8L111.1,556.9L110.5,554.1ZM111.7,612.7L116.3,608.8L118.8,608.5L117.3,610.6ZM81.4,586.1L76.4,583.5L76.6,580.5L79.5,580.8ZM165.2,582.7L160.3,578.7L160.1,576.2L162.6,576.9ZM115.0,605.7L116.1,612.5L114.6,613.2L113.3,612.4ZM92.2,542.8L95.1,538.4L97.2,537.9L96.6,539.9ZM78.1,527.4L80.2,530.7L78.4,531.5L76.5,530.9ZM161.1,530.2L157.9,535.2L156.2,534.9L156.0,533.2ZM74.4,603.8L72.4,600.0L73.6,598.3L75.2,599.7ZM84.9,562.5L87.2,557.5L88.9,557.7L89.4,559.3ZM83.2,517.0L78.2,514.5L77.3,512.0L79.9,512.5ZM43.2,525.5L48.8,526.6L50.8,528.6L48.0,528.7ZM147.5,569.7L145.4,573.1L143.4,572.7L143.6,570.7ZM146.0,523.1L143.1,517.6L144.0,516.7L145.3,516.9ZM167.4,520.7L165.6,516.1L167.5,514.3L169.4,516.1ZM108.6,605.9L112.3,608.7L110.7,610.1L108.7,610.6ZM136.0,605.7L138.5,610.8L137.5,612.6L135.7,611.4ZM112.6,550.5L109.4,551.9L108.5,550.9L109.2,549.8ZM147.6,589.0L143.3,584.2L143.9,583.1L145.3,583.0ZM157.7,548.8L161.5,549.3L161.6,551.7L159.2,552.4ZM58.6,538.8L61.8,540.8L61.2,542.0L59.9,542.3ZM112.1,552.8L115.1,548.2L117.3,548.4L117.2,550.6ZM166.8,521.0L169.7,526.2L169.1,529.2L167.0,527.0ZM171.1,599.4L176.0,594.6L178.5,594.3L177.4,596.5ZM144.6,516.5L148.8,518.1L148.5,519.6L147.1,520.2ZM158.7,614.4L155.4,610.8L156.3,608.4L158.7,609.5ZM155.9,609.1L156.2,604.5L158.2,603.5L158.9,605.6ZM96.9,524.3L93.5,524.9L93.2,523.6L93.9,522.4ZM88.1,555.5L83.3,559.7L81.1,559.3L81.9,557.2ZM113.6,527.8L106.9,526.9L105.4,524.3L108.3,523.6ZM107.3,577.2L102.0,572.8L101.4,569.8L104.2,571.1ZM78.4,564.4L79.9,568.3L78.1,569.0L76.3,568.0ZM58.0,517.9L63.0,521.9L62.7,524.0L60.6,523.8ZM96.4,574.0L100.3,576.9L99.8,578.6L98.1,578.6ZM152.7,588.1L157.7,592.2L157.4,594.0L155.5,594.0ZM87.6,548.3L85.8,551.9L84.4,550.9L83.6,549.3ZM91.1,563.2L90.4,558.7L92.1,557.4L93.3,559.3ZM150.1,597.4L147.2,594.8L147.2,592.8L149.0,593.7ZM132.4,556.9L131.1,553.0L132.7,551.6L134.1,553.1ZM170.3,531.5L168.0,534.7L165.8,534.7L166.5,532.7ZM63.2,543.0L64.0,548.9L62.0,550.0L60.5,548.3ZM104.5,553.7L105.5,547.7L108.0,546.9L108.7,549.4ZM46.7,542.1L51.0,543.5L51.9,545.5L49.7,545.4ZM67.9,518.0L70.1,523.8L69.3,526.5L67.7,524.2ZM73.8,589.7L72.8,594.1L70.7,594.7L70.3,592.5ZM121.4,597.1L122.1,592.7L124.0,593.0L125.1,594.6ZM96.5,571.1L96.6,567.5L98.6,567.6L99.6,569.3ZM84.4,518.3L80.0,518.6L79.0,517.3L80.4,516.4ZM52.8,559.1L50.4,562.4L49.2,560.7L48.8,558.7ZM88.2,511.7L87.6,516.0L85.9,515.3L84.6,514.0ZM103.1,586.3L108.3,585.8L109.9,587.4L107.9,588.4ZM157.7,591.9L157.5,595.8L155.2,596.1L154.4,593.9ZM135.6,546.4L138.1,549.4L136.4,551.1L134.2,550.0ZM117.7,527.2L115.7,522.8L116.9,521.8L118.3,522.4ZM69.8,514.3L76.2,512.5L78.3,513.7L76.4,515.2ZM70.8,568.2L65.7,570.3L63.9,569.5L65.2,568.1ZM82.4,597.3L77.4,595.0L75.9,592.6L78.6,593.3ZM143.0,561.7L139.0,566.5L136.3,567.4L137.6,564.9ZM106.3,514.0L104.1,516.9L102.3,516.1L102.7,514.1ZM135.3,585.1L139.6,580.5L142.1,581.0L141.3,583.3ZM173.4,542.6L169.3,543.0L168.3,541.7L169.7,540.8ZM161.2,514.6L160.7,519.0L158.4,519.4L157.7,517.2ZM169.4,568.0L164.4,568.0L164.4,565.8L166.1,564.3ZM58.0,569.8L56.5,564.8L58.6,562.9L60.3,565.1ZM77.8,534.2L73.4,533.3L73.0,531.1L75.2,530.6ZM155.4,594.7L157.6,601.3L156.9,604.7L155.3,601.7ZM65.8,521.7L64.8,527.5L62.8,527.3L61.5,525.8ZM78.9,546.5L73.0,548.5L71.7,547.1L72.8,545.5ZM154.3,556.9L158.1,556.6L158.1,558.7L156.5,560.0ZM47.6,529.5L54.0,531.3L54.0,533.7L51.8,534.7ZM74.5,531.0L73.7,534.6L72.0,533.7L70.9,532.0ZM133.8,607.1L132.5,600.2L134.2,597.9L135.7,600.4ZM121.1,608.8L124.0,604.1L126.2,603.9L125.9,606.1ZM170.8,545.6L167.2,541.6L167.7,539.1L169.9,540.3ZM119.4,575.8L124.5,573.3L126.7,574.1L125.1,575.9ZM51.9,600.0L57.8,595.9L60.7,597.0L59.1,599.7ZM160.0,519.9L160.3,525.1L158.3,526.3L157.2,524.2ZM174.2,573.5L168.6,573.8L167.4,571.4L169.7,570.1ZM85.8,516.0L80.6,517.2L80.1,515.2L81.1,513.4ZM104.2,529.8L110.2,531.9L110.1,533.4L108.8,534.1ZM72.9,585.5L74.1,579.3L77.4,577.7L77.7,581.4ZM177.5,570.8L176.3,576.2L173.6,577.1L173.3,574.3ZM109.1,590.7L107.0,585.5L107.9,584.5L109.2,585.1ZM140.5,535.0L146.9,534.4L147.6,536.2L146.4,537.6ZM66.5,563.2L71.7,563.5L72.6,565.8L70.3,566.7ZM127.5,552.9L125.4,557.1L123.6,556.4L123.1,554.4ZM68.0,554.0L64.5,551.0L65.1,549.4L66.8,549.6ZM48.9,584.4L47.6,589.2L45.4,589.7L45.1,587.5ZM128.8,537.2L132.6,533.7L134.1,535.4L133.9,537.6ZM174.4,545.7L170.2,549.2L169.0,547.8L168.9,545.9ZM144.4,563.4L138.6,562.6L138.1,561.3L139.3,560.5ZM69.6,538.4L71.1,541.7L69.5,542.1L67.9,541.6ZM103.7,576.6L104.5,581.0L103.3,582.1L102.3,580.8ZM112.6,582.6L115.7,578.6L118.1,579.1L117.6,581.4ZM110.5,560.4L110.6,564.4L109.1,565.1L108.2,563.7ZM127.1,598.2L123.7,595.6L125.1,593.7L127.4,593.9ZM65.5,536.6L68.6,539.0L68.6,540.7L66.9,540.2ZM89.6,522.8L84.0,520.0L83.4,517.2L86.3,517.6ZM149.3,571.7L151.0,574.9L149.7,575.5L148.3,575.2ZM75.8,586.5L72.5,588.8L71.7,587.6L71.7,586.2ZM51.6,586.2L57.9,584.5L61.0,586.4L57.9,588.1ZM123.0,570.7L123.2,565.2L125.0,564.9L126.2,566.3ZM89.6,590.7L96.2,588.5L98.8,589.1L96.6,590.6ZM76.8,574.8L72.8,572.1L72.8,569.9L75.0,570.3ZM127.6,592.5L123.8,595.7L121.8,595.1L122.7,593.2ZM102.6,513.8L106.1,512.8L107.1,514.0L105.9,515.1ZM63.2,610.8L64.1,607.5L65.6,607.9L66.3,609.3ZM81.1,512.3L77.3,515.7L74.7,515.6L76.2,513.5ZM149.8,542.7L151.5,548.7L150.2,550.1L148.8,548.8ZM133.8,572.5L130.1,566.8L130.6,564.5L132.6,565.8ZM136.1,577.9L138.2,574.2L140.4,574.6L140.2,576.9ZM107.0,595.8L100.5,595.0L100.5,592.7L102.3,591.2ZM56.9,580.5L56.4,573.5L58.4,573.0L60.0,574.2ZM78.3,566.6L80.7,569.5L80.4,571.4L78.7,570.4ZM62.4,527.0L67.1,531.3L66.1,532.7L64.4,533.0ZM119.5,586.2L121.8,583.3L123.2,584.1L123.2,585.6ZM55.3,591.6L51.6,590.2L52.1,588.3L54.0,587.9ZM80.1,561.4L81.2,555.6L83.6,555.5L84.7,557.6ZM110.5,572.5L105.6,571.6L105.4,569.4L107.4,568.5ZM84.0,550.6L82.5,545.4L83.5,544.3L84.6,545.2ZM65.2,527.6L64.3,532.9L61.5,533.9L61.0,531.0ZM51.2,547.9L48.0,546.6L48.0,544.7L50.0,544.7ZM59.7,553.0L62.6,556.5L60.9,558.5L58.6,557.5ZM153.1,554.7L153.5,550.7L154.9,550.9L156.0,551.8ZM137.7,540.5L139.8,546.5L139.1,549.0L137.7,546.9ZM98.4,535.4L93.9,538.3L91.8,537.6L93.0,535.7ZM81.9,591.9L83.3,586.5L85.9,585.8L86.3,588.5ZM42.2,533.8L46.2,530.9L48.5,532.5L47.0,534.8ZM89.1,588.0L93.8,592.0L92.8,593.4L91.1,593.9ZM50.7,527.7L48.4,523.6L49.7,522.8L51.3,523.0ZM144.2,580.6L149.8,581.1L149.4,583.1L148.1,584.7ZM44.4,610.7L46.2,604.5L47.7,603.7L48.0,605.4ZM86.6,598.0L88.6,604.2L88.2,607.5L86.6,604.6ZM124.4,548.7L123.8,555.3L122.2,555.4L120.9,554.3ZM81.6,588.6L75.3,587.6L74.6,585.3L76.8,584.5ZM107.4,564.4L106.6,569.3L104.4,570.1L103.8,567.8ZM101.4,583.6L100.1,579.6L101.6,577.8L103.0,579.7ZM154.5,564.9L157.5,561.3L159.2,561.5L158.8,563.1ZM169.9,565.3L173.9,563.9L174.7,565.8L173.5,567.4ZM99.1,582.8L97.6,579.5L99.1,578.4L100.7,579.5ZM148.3,611.6L143.1,609.2L142.5,606.7L145.1,606.9ZM100.5,569.8L94.4,572.5L93.5,571.0L93.9,569.3ZM165.7,563.1L159.9,561.3L159.4,558.9L161.8,558.4ZM65.1,519.4L59.9,522.1L58.4,521.2L59.2,519.7ZM104.6,611.9L105.9,607.7L107.8,608.1L108.5,609.9ZM167.8,558.7L163.3,557.8L163.4,555.2L165.8,554.6ZM100.6,598.6L101.8,594.2L103.6,595.4L104.9,597.1ZM154.1,609.1L156.3,604.4L159.1,603.9L158.7,606.8ZM101.2,580.7L100.9,584.7L98.3,585.0L97.6,582.5ZM144.2,518.7L146.4,514.7L148.4,515.0L148.5,517.0ZM148.9,610.6L144.5,612.0L143.1,610.3L144.7,608.8ZM128.8,571.6L121.8,572.2L121.0,570.8L122.1,569.6ZM155.8,517.6L161.6,517.4L162.5,519.8L160.3,521.2ZM128.2,523.5L127.6,518.5L129.6,516.7L130.8,519.2ZM111.4,565.7L118.3,565.5L119.5,567.5L117.6,568.7ZM83.8,557.3L80.1,558.1L79.2,556.5L80.6,555.4ZM59.4,597.0L61.1,600.5L60.0,601.9L58.6,600.8ZM117.5,512.1L116.4,515.7L114.2,514.9L113.8,512.6ZM67.3,569.5L67.6,565.4L70.0,565.5L71.0,567.6ZM166.5,610.8L169.7,608.4L171.1,609.9L170.4,611.8ZM61.5,599.6L65.3,594.7L67.9,595.1L67.4,597.6ZM86.5,550.8L83.1,551.7L82.4,550.4L83.3,549.3ZM56.1,597.9L57.3,593.7L58.8,594.5L59.9,595.8ZM75.1,591.4L78.8,587.6L81.5,587.5L80.1,589.9ZM147.2,524.9L143.9,530.3L142.1,530.8L142.3,529.0ZM49.2,570.1L46.5,563.8L48.1,562.8L49.9,563.3ZM118.9,556.6L118.6,560.3L117.0,560.2L116.1,558.9ZM65.8,607.6L59.7,607.6L58.0,605.7L60.4,604.9ZM113.3,547.4L116.4,553.6L114.7,556.0L112.3,554.2ZM84.3,547.3L87.5,543.7L88.6,544.6L88.9,546.1ZM112.9,521.1L110.3,518.5L111.0,517.3L112.4,517.5ZM151.4,548.3L157.5,547.2L158.1,548.4L157.5,549.5ZM74.7,582.2L70.9,579.9L71.8,578.0L73.9,577.8ZM115.8,530.0L122.7,528.5L123.4,530.0L122.7,531.5ZM59.4,571.1L60.8,574.9L59.7,576.3L58.5,575.0ZM117.6,521.7L121.5,525.9L120.8,527.3L119.2,527.2ZM60.6,604.3L58.4,600.4L59.2,598.8L60.7,599.7ZM113.9,558.6L119.5,555.6L122.9,556.5L120.3,558.9ZM130.3,600.5L127.1,598.0L127.9,596.7L129.6,596.5ZM170.7,610.5L169.6,606.8L171.3,606.4L172.7,607.2ZM132.6,576.9L137.0,576.2L137.8,578.7L135.7,580.1ZM55.3,535.8L60.7,531.4L63.1,531.4L61.8,533.4ZM115.7,520.9L118.9,517.3L120.6,518.9L120.5,521.1ZM172.8,580.7L175.5,582.8L175.2,584.8L173.4,584.1ZM55.6,522.4L52.4,516.1L53.7,515.1L55.3,515.3ZM157.1,528.2L157.8,524.5L160.0,524.7L160.6,526.7ZM130.5,543.9L126.6,539.6L127.7,536.8L130.4,538.1ZM177.6,559.1L172.7,563.6L170.8,563.2L171.4,561.3ZM137.9,554.2L138.3,550.1L140.5,549.5L141.2,551.7ZM156.1,547.6L152.4,549.3L150.6,548.3L152.0,546.9ZM104.9,562.7L104.5,558.5L105.9,557.5L106.8,558.9ZM134.1,520.9L137.0,517.5L138.2,518.6L138.5,520.2ZM55.5,523.3L51.8,517.4L52.6,514.7L54.9,516.4ZM82.8,596.2L81.6,592.0L82.5,589.9L83.7,591.9ZM139.3,564.8L139.5,560.1L141.4,559.4L142.4,561.2ZM99.2,520.9L97.1,526.0L94.0,526.3L94.2,523.2ZM168.6,546.0L167.3,551.0L165.0,550.7L164.1,548.5ZM84.9,574.7L88.9,578.8L87.7,580.0L86.1,580.3ZM123.4,593.7L127.4,593.3L128.9,594.8L126.9,595.7ZM87.4,529.1L94.0,529.1L94.7,530.9L93.2,532.2ZM73.8,541.4L77.3,541.4L77.6,542.7L76.6,543.5ZM154.7,558.3L150.6,562.6L147.3,562.3L148.9,559.4ZM152.6,564.8L146.5,563.5L145.8,561.3L148.0,560.6ZM105.1,606.9L108.8,609.7L107.9,611.4L106.1,611.5ZM116.2,581.5L117.8,577.2L119.5,578.5L120.6,580.3ZM53.6,581.6L59.5,585.2L59.3,588.2L56.3,587.9ZM105.9,602.6L101.6,599.8L101.4,597.8L103.5,598.1ZM45.1,612.2L44.9,607.9L46.9,606.8L47.8,608.9ZM59.1,603.5L55.2,601.9L55.7,599.8L57.8,599.5ZM115.7,561.8L112.1,555.8L112.0,552.6L114.2,555.0ZM69.7,561.9L72.9,565.4L72.2,566.4L71.1,566.4ZM50.2,561.4L54.4,560.2L54.9,561.4L54.5,562.6ZM169.3,564.7L167.5,569.8L165.8,570.6L165.7,568.7ZM122.3,567.1L118.3,568.8L117.7,567.6L118.0,566.3ZM150.5,548.9L156.0,551.6L155.4,554.0L153.0,554.5ZM104.0,513.2L98.7,516.1L96.4,514.5L98.0,512.2ZM165.9,521.6L169.1,519.7L170.3,521.4L169.3,523.2ZM144.8,590.6L150.3,588.9L152.2,590.4L150.4,592.0ZM98.3,558.9L93.0,563.7L89.3,564.0L91.5,561.0ZM142.1,521.5L147.5,523.1L148.8,525.1L146.5,525.0ZM158.6,589.6L153.3,588.8L151.6,586.6L154.4,586.3ZM141.2,512.6L143.3,516.2L142.1,517.1L140.7,516.7ZM62.4,559.4L67.8,559.6L68.4,561.1L67.1,562.1ZM60.4,595.4L58.9,590.2L60.6,589.5L62.3,590.3ZM93.2,574.5L92.1,569.1L94.2,567.2L95.8,569.6ZM82.7,507.3L83.8,514.3L82.1,516.5L80.7,514.1ZM124.2,561.7L119.8,560.0L119.7,557.1L122.6,557.3ZM84.9,525.7L89.1,524.1L90.5,525.5L89.2,527.1ZM42.1,598.2L48.1,599.8L48.9,602.8L45.9,603.1ZM171.5,539.1L170.9,534.6L172.7,532.8L173.7,535.2ZM54.9,597.8L56.5,594.0L58.5,593.1L58.2,595.2ZM77.2,557.6L79.7,553.2L82.0,552.2L81.3,554.7ZM110.8,564.4L115.1,566.7L114.3,568.9L111.9,569.2ZM129.5,520.1L127.4,516.5L128.7,515.6L130.2,516.0ZM56.7,599.2L58.2,595.1L60.2,595.8L60.8,597.7ZM163.1,558.8L162.4,562.6L160.6,562.5L159.8,560.8ZM152.3,533.1L152.4,526.8L154.4,525.3L155.4,527.6ZM150.2,521.9L146.8,526.8L144.5,526.4L144.7,524.1ZM58.5,515.4L55.4,518.6L54.4,518.0L54.2,516.9ZM166.6,515.7L172.1,517.3L171.7,519.5L169.7,520.6ZM167.4,543.2L164.3,547.4L162.6,545.9L162.3,543.7ZM104.6,555.5L109.0,559.5L109.5,562.2L107.1,560.9ZM56.8,532.3L62.9,532.1L63.2,534.1L61.9,535.6ZM52.8,617.1L52.6,610.6L54.0,609.9L55.1,611.0ZM152.2,524.8L156.2,529.8L156.2,531.9L154.4,530.8ZM69.8,517.7L65.8,519.4L63.6,518.7L65.5,517.3ZM112.0,583.1L109.1,579.1L110.1,576.5L112.4,578.2ZM120.4,585.3L121.2,591.4L119.2,592.3L117.6,590.8ZM124.4,560.5L119.7,557.5L120.6,555.7L122.6,555.2ZM87.2,518.8L82.2,522.1L80.9,521.1L81.2,519.5ZM160.0,545.9L162.4,542.0L164.9,541.5L164.2,544.0Z" fill="#6230c4"/>
<path d="M155.8,573.3L151.6,573.3L151.8,571.4L153.1,570.1ZM69.4,514.7L63.4,518.0L62.4,516.4L62.6,514.5ZM142.1,511.5L144.9,515.9L144.1,517.6L142.5,516.7ZM53.5,570.9L53.2,576.7L50.6,578.6L50.0,575.5ZM170.0,555.8L170.0,560.1L167.8,560.6L166.7,558.6ZM168.7,516.8L170.7,521.8L169.6,523.7L168.1,522.1ZM109.2,540.5L111.8,535.8L113.8,535.9L113.9,537.9ZM102.3,584.8L97.7,586.0L96.8,584.4L98.0,583.0ZM129.1,549.0L132.1,544.4L135.2,543.9L134.2,546.8ZM153.4,577.1L150.4,572.2L151.6,571.2L153.2,571.4ZM128.4,585.5L127.9,590.4L126.2,590.9L125.5,589.4ZM133.6,543.5L135.2,538.9L137.0,539.7L137.9,541.4ZM75.2,551.0L77.7,547.0L79.2,547.6L79.6,549.2ZM156.5,538.8L161.8,539.5L163.4,541.9L160.5,542.4ZM111.9,585.5L115.8,588.4L114.6,590.5L112.2,590.4ZM70.3,560.2L71.8,553.4L73.1,553.0L73.8,554.2ZM137.2,536.4L132.1,539.7L129.8,539.0L131.1,537.1ZM92.8,553.2L88.3,555.4L86.2,553.9L87.9,551.9ZM127.9,516.6L123.3,515.2L123.6,513.2L125.5,512.5ZM97.5,555.4L92.5,560.3L90.1,560.5L91.2,558.4ZM45.2,531.1L49.1,531.4L49.0,532.9L47.9,533.9ZM119.8,521.9L122.7,517.7L124.1,518.7L124.6,520.2ZM178.4,533.6L174.1,534.3L174.2,532.3L175.3,530.6ZM139.1,528.8L139.7,533.2L137.8,533.7L136.4,532.3ZM159.1,568.2L163.0,570.9L161.6,572.7L159.5,572.9ZM78.5,596.1L76.6,591.9L78.4,591.0L80.3,591.8ZM93.9,602.6L97.5,604.7L96.8,606.4L95.0,606.6ZM80.8,562.2L75.3,562.6L73.9,560.7L76.0,559.6ZM61.3,542.9L65.8,542.0L66.4,543.8L65.3,545.3ZM99.8,542.1L96.4,543.3L95.0,542.3L96.3,541.2ZM100.0,615.1L103.9,609.9L105.3,610.3L105.6,611.7ZM90.5,541.9L92.7,538.5L94.9,538.4L94.3,540.5ZM47.1,547.2L47.0,543.2L49.3,542.9L50.5,545.0ZM78.5,542.1L74.4,542.6L73.2,541.3L74.7,540.5ZM152.0,614.4L148.9,609.3L150.4,606.8L152.8,608.4ZM134.5,539.4L130.7,536.7L131.1,534.6L133.1,535.0ZM80.3,530.1L75.4,533.1L74.2,531.2L74.6,529.1ZM97.4,552.7L100.7,558.7L99.7,560.3L98.0,559.5ZM76.4,551.3L71.5,550.6L71.8,548.6L73.3,547.4ZM63.5,601.4L60.8,606.0L57.9,606.2L58.6,603.3ZM109.9,544.8L108.3,549.5L107.2,549.4L106.5,548.4ZM87.5,589.6L88.1,595.2L87.0,595.7L86.0,595.0ZM110.7,514.0L107.3,517.5L105.4,516.5L105.8,514.4ZM114.2,571.1L109.8,570.1L109.6,567.3L112.4,566.9ZM98.6,548.6L97.0,545.3L99.0,544.4L100.7,545.6ZM92.0,609.9L88.0,605.1L89.6,603.6L91.8,603.7ZM155.8,604.5L155.0,599.1L157.2,598.9L159.0,600.1ZM80.8,612.3L82.6,605.5L84.8,605.3L85.8,607.4ZM136.0,552.2L137.8,556.9L136.2,558.1L134.6,557.0ZM130.6,531.5L125.3,536.2L124.0,535.5L124.0,534.1ZM153.0,591.5L154.4,597.0L152.4,599.0L150.8,596.7ZM135.9,607.4L141.2,605.6L142.0,607.2L141.3,608.8ZM67.2,605.1L66.3,610.0L63.9,611.3L63.7,608.7ZM53.3,527.4L52.9,521.5L54.4,519.6L55.3,521.9ZM132.1,563.2L136.3,560.7L138.0,562.0L136.9,563.8ZM151.0,602.0L147.6,602.7L146.6,601.1L148.1,600.1ZM108.4,567.2L102.9,568.3L102.1,566.5L103.3,564.9ZM89.0,610.9L87.6,607.3L89.4,605.9L91.0,607.5ZM108.8,611.2L105.4,608.2L106.6,606.1L108.9,606.6ZM69.6,567.4L67.6,561.5L69.1,560.4L70.8,561.3ZM57.7,596.0L56.9,600.1L54.9,600.3L54.3,598.4ZM123.6,530.4L127.3,530.4L126.9,532.5L125.2,533.7ZM168.9,534.3L171.6,531.5L172.6,532.1L172.6,533.3ZM156.6,543.7L153.5,548.8L151.0,548.7L151.1,546.1ZM79.1,590.3L83.8,588.6L84.9,589.4L84.1,590.6ZM54.7,556.2L50.3,552.3L50.4,550.4L52.2,550.9ZM52.1,582.8L48.5,577.0L50.2,575.8L52.1,575.9ZM68.8,572.9L75.1,575.9L74.8,578.4L72.4,578.9ZM131.7,594.0L127.8,593.2L126.9,591.5L128.9,591.2ZM59.1,570.5L56.0,568.4L56.2,566.1L58.4,566.8ZM132.0,524.4L134.6,528.7L133.5,530.7L131.5,529.4ZM45.4,572.5L45.0,565.9L46.3,563.4L47.1,566.1ZM163.6,551.0L158.9,548.7L157.8,546.7L160.1,547.1ZM151.4,541.7L145.3,541.2L143.5,538.5L146.7,537.9ZM77.8,580.2L81.8,578.0L83.2,579.2L82.3,580.8ZM80.7,590.2L76.9,592.1L74.7,591.5L76.4,590.0ZM48.6,587.1L54.1,583.0L57.1,584.2L55.5,587.0ZM134.2,601.8L137.9,602.4L137.6,604.7L135.4,605.4ZM89.9,542.0L93.2,546.7L93.4,549.6L91.3,547.6ZM149.8,609.2L153.1,610.5L152.8,612.7L150.6,612.7ZM94.5,515.9L96.7,511.5L98.7,512.6L99.3,514.8ZM67.1,571.4L61.1,573.6L59.9,572.4L60.8,570.9ZM115.8,515.5L117.2,520.0L115.1,521.3L113.4,519.5ZM174.4,555.5L172.0,550.2L173.0,548.8L174.5,549.7ZM146.3,611.2L142.7,611.3L142.0,609.9L143.4,609.1ZM97.9,610.5L91.9,608.0L92.4,606.3L93.8,605.4ZM156.9,549.3L160.5,546.3L162.4,546.8L161.5,548.6ZM96.0,587.2L98.7,592.0L97.7,594.8L95.6,592.7ZM41.2,525.9L47.1,523.3L48.2,524.8L47.6,526.6ZM158.6,600.5L162.0,604.9L162.2,607.8L160.1,605.9ZM61.2,571.3L64.9,567.9L67.3,567.8L66.0,569.8ZM107.3,520.9L104.0,519.3L104.1,517.2L106.2,517.4ZM155.6,565.9L160.2,566.4L160.5,568.8L158.2,569.7ZM71.3,514.1L76.4,513.6L77.2,515.9L75.3,517.3ZM72.3,539.8L76.3,539.3L76.7,540.5L75.9,541.5ZM114.1,612.2L109.4,612.8L108.0,611.5L109.6,610.6ZM122.6,586.8L127.8,590.2L127.8,592.7L125.3,592.4ZM111.2,526.7L108.6,530.5L107.3,530.0L107.0,528.7ZM80.1,526.0L84.8,527.7L84.7,529.4L83.0,530.0ZM75.8,606.3L78.1,610.3L77.1,611.7L75.6,610.9ZM74.7,601.4L79.1,596.4L81.7,596.4L80.8,598.8ZM116.7,531.2L111.0,531.1L110.5,529.9L111.4,528.9ZM102.6,585.9L106.1,589.2L106.3,591.6L104.1,590.4ZM90.9,565.0L86.2,566.7L85.0,564.8L86.3,563.0ZM61.8,583.3L66.3,584.9L66.6,586.6L64.8,587.0ZM135.6,570.5L133.8,567.0L135.6,565.8L137.3,567.0ZM101.0,558.8L103.9,555.0L106.0,556.0L105.7,558.3ZM147.1,545.5L148.0,539.0L150.0,536.4L150.1,539.7ZM80.4,577.3L84.5,578.3L85.2,579.9L83.5,580.2ZM102.3,609.9L98.3,605.9L99.6,604.1L101.8,604.3ZM124.2,598.4L127.9,596.1L129.1,597.4L128.5,599.0ZM161.7,608.6L164.4,603.9L166.0,603.7L166.1,605.3ZM141.5,516.3L141.7,521.5L140.0,522.7L139.1,520.9ZM163.0,612.9L168.6,610.4L169.8,611.9L169.1,613.7ZM134.7,534.6L129.7,534.5L129.4,532.7L130.8,531.5ZM166.9,552.1L172.6,549.9L173.9,550.7L173.0,552.0ZM138.5,594.3L142.5,598.6L143.1,601.5L140.7,599.7ZM164.2,555.9L170.3,552.8L173.3,553.9L171.1,556.1ZM101.3,594.7L100.2,598.6L98.3,599.6L98.3,597.5ZM144.1,588.0L141.1,590.5L139.2,588.9L140.4,586.7ZM65.6,581.5L67.2,577.6L69.2,577.3L69.1,579.3ZM87.0,595.5L83.5,595.9L83.7,594.4L84.4,593.1ZM104.9,546.1L110.2,548.6L110.3,550.3L108.6,550.7ZM66.6,527.9L62.4,531.8L59.6,531.7L61.0,529.3ZM166.0,560.4L166.3,566.7L164.3,568.5L163.2,566.1ZM76.1,557.2L72.4,553.5L74.0,552.0L76.1,551.9ZM148.0,595.4L152.3,597.0L152.3,599.2L150.1,599.5ZM121.9,598.6L125.7,603.3L125.0,606.5L122.3,604.7ZM130.9,600.4L128.9,605.7L126.7,606.4L126.6,604.1ZM161.1,606.3L165.9,607.1L166.3,608.4L165.1,609.1ZM148.5,588.9L147.5,585.2L149.9,584.6L151.4,586.4ZM112.4,521.5L106.6,519.2L106.0,517.2L108.1,517.0ZM122.5,523.7L127.3,520.9L128.2,522.4L128.0,524.1ZM162.1,542.3L156.9,540.0L157.1,538.7L158.4,538.0ZM166.7,579.6L167.8,575.2L169.2,575.0L169.7,576.3ZM172.0,544.5L175.8,550.5L174.9,552.9L172.7,551.6ZM99.3,541.6L95.0,541.1L95.5,539.3L96.9,538.1ZM169.6,590.1L175.7,589.2L176.1,590.5L175.5,591.7ZM132.5,549.2L137.6,547.2L139.3,549.3L137.6,551.3ZM83.6,571.5L87.9,567.6L89.8,569.0L89.4,571.4ZM77.4,514.9L76.5,521.8L73.8,523.0L72.9,520.2ZM88.9,528.3L82.8,530.7L80.0,529.4L82.4,527.5ZM127.0,527.8L131.3,528.2L132.4,530.2L130.2,530.6ZM72.0,523.1L76.3,525.0L76.6,526.8L74.8,526.9ZM114.6,569.6L113.5,575.7L111.1,576.3L110.3,574.0ZM89.5,565.8L93.4,563.5L94.4,564.8L94.0,566.4ZM87.2,569.3L83.7,567.6L84.0,565.8L85.9,565.6ZM143.0,581.0L143.7,576.9L145.3,576.6L146.0,578.1ZM142.5,591.6L140.5,585.3L141.4,583.1L142.8,585.0ZM45.7,542.7L49.6,544.9L48.5,546.4L46.7,547.1ZM123.2,600.1L119.8,605.3L117.0,605.7L117.8,603.0ZM134.8,542.5L133.9,537.8L135.7,536.7L137.0,538.3ZM171.6,542.2L166.0,539.4L166.2,537.4L168.2,536.9ZM98.0,607.3L100.3,601.3L103.0,600.3L102.9,603.2ZM94.0,606.8L97.3,612.6L96.0,614.8L93.8,613.5ZM94.7,586.7L99.6,584.4L100.4,586.2L99.9,588.1ZM139.1,567.7L137.2,571.2L134.8,571.3L135.3,569.0ZM103.7,543.8L98.1,547.6L94.7,546.5L96.9,543.8ZM43.0,566.9L46.9,564.6L49.2,565.4L47.5,567.2ZM102.1,608.0L103.3,612.0L101.4,613.3L99.9,611.6ZM89.6,560.4L88.2,565.8L86.1,565.4L85.1,563.6ZM165.6,568.2L170.3,566.3L171.1,567.7L170.5,569.1ZM161.9,569.1L167.5,567.4L169.4,569.0L167.5,570.6ZM65.7,593.0L72.0,594.0L73.5,596.2L70.9,596.6ZM146.9,528.7L141.4,530.1L138.6,528.9L141.3,527.6ZM162.3,559.6L156.5,559.2L156.0,557.7L157.2,556.8ZM136.7,526.7L133.1,523.0L133.7,520.7L135.9,521.6ZM128.9,583.7L132.6,578.1L135.4,577.1L134.5,580.0ZM69.8,594.0L64.5,596.5L61.9,595.1L64.0,593.1ZM98.3,546.6L92.2,549.5L90.8,547.6L91.6,545.4ZM69.8,587.2L66.7,581.3L68.2,578.6L70.6,580.6ZM150.7,590.7L154.0,585.7L156.7,586.3L156.5,589.1ZM44.1,591.7L47.7,589.0L49.7,590.1L48.6,592.0ZM165.0,550.6L168.7,551.1L168.6,553.7L166.1,554.2ZM115.4,602.5L110.5,607.1L108.3,606.6L108.9,604.3ZM96.9,532.7L100.6,531.1L101.0,533.2L100.0,535.1ZM171.4,590.6L174.4,593.7L174.6,595.8L172.7,594.7ZM98.3,574.6L103.4,570.6L105.7,571.4L104.6,573.6ZM157.0,596.1L153.4,594.0L153.7,593.0L154.8,592.6ZM174.8,528.7L174.4,535.7L171.8,538.5L171.2,534.8ZM79.2,547.1L84.7,549.6L85.3,552.0L82.8,551.9ZM169.7,586.9L167.0,591.2L164.9,590.6L164.8,588.3ZM70.6,590.7L73.6,594.0L73.4,596.0L71.6,595.0ZM67.5,571.4L71.8,572.4L71.7,574.6L69.6,575.3ZM96.8,583.1L96.6,590.3L94.4,590.5L92.8,589.0ZM97.5,601.9L92.7,597.1L92.5,595.1L94.4,595.9ZM114.9,531.8L111.5,526.2L111.7,523.9L113.4,525.4ZM149.1,575.6L147.4,582.4L145.3,583.3L144.8,581.1ZM119.4,534.4L116.4,528.2L116.8,525.5L118.7,527.5ZM106.0,566.7L102.0,569.9L100.6,568.2L100.9,566.0Z" fill="#5226b2"/>
<path d="M106.6,612.2L102.6,608.1L104.1,606.6L106.2,606.5ZM153.8,542.1L149.9,537.1L150.9,533.7L153.8,535.8ZM103.0,583.7L110.0,584.6L112.3,586.4L109.3,586.7ZM160.1,550.3L164.8,545.3L168.1,545.7L166.8,548.7ZM166.6,541.4L163.7,537.8L165.1,536.7L167.0,536.8ZM87.2,584.9L90.4,580.0L93.3,580.1L92.6,582.9ZM104.7,563.5L103.8,568.5L102.7,568.7L101.9,567.8ZM158.7,566.1L156.1,570.3L154.3,569.2L153.8,567.2ZM150.0,529.6L147.3,524.5L147.6,522.1L149.3,523.8ZM129.1,548.9L129.4,554.3L127.1,554.5L125.4,552.9ZM164.4,526.4L168.3,527.7L167.6,529.1L166.3,530.0ZM115.1,578.9L116.9,574.1L119.0,573.1L118.9,575.4ZM157.9,516.3L161.4,520.5L160.4,522.1L158.6,521.7ZM161.7,558.3L164.4,554.7L166.8,554.5L166.0,556.8ZM154.9,521.4L149.0,519.3L147.5,517.2L150.1,517.4ZM57.0,580.7L55.1,574.8L56.8,573.7L58.5,574.7ZM63.9,588.6L68.9,586.0L70.1,587.8L69.4,589.8ZM165.8,552.2L163.0,545.8L164.4,544.8L166.0,545.2ZM82.7,561.2L80.9,567.1L78.9,569.1L79.1,566.3ZM62.0,555.9L59.0,562.3L56.8,562.4L56.4,560.2ZM99.3,583.6L93.9,584.7L91.4,583.1L94.1,581.7ZM164.5,581.4L167.5,576.2L170.1,576.2L169.9,578.8ZM93.6,554.9L100.3,554.4L101.8,556.2L99.9,557.5ZM132.3,593.7L133.7,599.9L132.5,601.9L131.2,600.0ZM147.7,525.6L148.6,529.8L146.9,531.3L145.7,529.4ZM56.1,591.1L58.7,594.5L58.2,596.6L56.5,595.4ZM56.9,554.3L52.6,555.3L52.0,553.0L53.7,551.3ZM122.7,520.4L124.9,515.1L127.0,513.9L126.7,516.3ZM81.3,542.9L82.0,549.8L80.4,552.2L79.2,549.5ZM113.9,571.4L109.4,572.1L108.6,570.7L109.7,569.5ZM140.1,528.1L135.7,523.7L135.6,520.6L138.3,522.1ZM147.8,554.6L148.2,550.2L150.2,550.2L151.3,551.8ZM152.6,592.4L157.2,594.4L157.5,597.1L154.8,596.9ZM96.5,522.9L95.8,517.0L97.9,514.7L99.1,517.6ZM142.9,531.5L139.0,530.8L138.8,529.4L140.1,528.7ZM89.4,564.0L85.3,565.8L84.3,563.6L85.6,561.7ZM50.5,561.5L46.8,564.3L45.6,563.0L45.9,561.3ZM175.4,531.0L172.7,526.9L174.0,525.0L176.0,526.1ZM51.0,600.2L54.3,597.2L56.1,598.7L55.4,600.9ZM120.8,601.1L119.6,606.0L117.9,605.7L116.9,604.3ZM149.4,548.7L154.5,548.9L156.0,551.3L153.2,552.0ZM140.2,568.0L136.3,570.5L134.3,569.9L135.6,568.2ZM56.0,588.6L60.0,589.9L59.4,591.4L58.0,592.3ZM153.4,596.8L158.9,596.1L160.3,598.3L158.1,599.7ZM59.5,602.1L54.3,603.6L53.1,602.5L54.2,601.3ZM56.5,578.6L53.4,580.6L52.1,579.1L53.1,577.4ZM122.3,524.6L118.8,527.9L116.2,527.0L117.5,524.6ZM159.4,527.4L161.4,531.4L160.2,533.1L158.7,531.8ZM49.3,542.4L53.2,541.7L53.9,543.5L52.4,544.8ZM113.1,610.0L113.6,605.9L115.2,604.8L115.6,606.7ZM127.4,596.4L123.9,599.0L123.3,597.0L123.3,594.9ZM78.0,577.9L78.5,572.7L80.5,572.4L81.6,574.1ZM124.9,552.0L121.4,555.7L119.9,554.9L120.0,553.3ZM105.8,555.6L112.3,553.3L113.9,554.7L112.7,556.4ZM112.3,543.5L112.8,547.9L110.4,549.1L109.2,546.6ZM147.2,611.8L143.2,612.2L142.4,609.9L144.5,608.8ZM52.7,524.1L55.1,527.9L53.4,529.1L51.5,528.4ZM107.2,576.5L108.4,569.6L109.9,568.9L110.6,570.4ZM90.3,558.0L93.1,554.2L94.8,555.2L94.9,557.1ZM171.5,595.4L171.4,589.4L173.7,587.8L174.8,590.4ZM119.2,570.4L116.1,572.1L114.8,570.8L115.8,569.3ZM150.6,583.7L154.5,578.9L156.9,578.9L156.3,581.3ZM145.8,596.1L142.6,601.0L140.0,600.4L140.2,597.7ZM51.7,518.6L55.5,522.3L54.3,524.4L52.0,523.8ZM110.8,560.6L113.8,563.2L113.1,565.6L110.8,564.6ZM146.0,560.5L143.0,556.5L144.9,555.7L146.9,555.6ZM159.3,590.5L164.5,590.9L166.5,592.7L163.8,593.1ZM66.2,607.9L70.2,608.6L70.2,610.7L68.2,611.5ZM85.0,518.9L86.2,514.1L89.2,513.8L89.4,516.7ZM101.2,561.9L101.6,557.4L104.2,556.7L104.9,559.2ZM156.8,555.1L152.2,550.3L152.9,547.2L155.9,548.5ZM49.3,552.3L51.7,549.9L53.5,550.1L52.7,551.8ZM142.7,539.1L142.9,543.8L141.2,544.2L140.0,543.0ZM161.9,601.4L161.5,597.9L163.0,597.4L164.0,598.6ZM158.5,582.9L163.6,583.9L164.1,586.0L162.1,586.7ZM47.1,557.7L53.7,559.2L54.2,560.7L52.8,561.4ZM110.3,591.2L108.3,584.9L108.9,582.2L110.3,584.6ZM132.4,610.4L126.1,612.6L124.2,610.9L125.9,609.0ZM160.1,583.8L159.7,587.9L157.2,588.4L156.7,585.9ZM66.5,556.5L65.8,563.1L63.5,564.2L62.5,561.8ZM164.7,582.5L165.7,588.0L164.3,588.9L163.1,587.8ZM61.1,513.1L61.5,517.3L60.3,517.7L59.3,516.9ZM120.9,583.2L116.2,580.4L116.1,578.5L118.0,578.6ZM119.3,603.7L123.1,601.8L123.8,603.1L123.5,604.6ZM143.4,521.3L148.5,522.0L149.0,523.5L147.6,524.3ZM101.1,593.6L99.6,590.0L101.1,589.3L102.7,590.1ZM162.5,606.4L165.7,608.2L164.3,609.4L162.6,610.1ZM149.9,598.5L152.8,594.2L154.6,594.0L154.3,595.8ZM121.1,608.3L123.9,605.6L124.9,607.5L124.7,609.6ZM65.0,535.1L66.8,538.1L65.3,539.1L63.7,538.4ZM152.2,545.0L150.2,549.8L147.4,549.6L147.3,546.8ZM98.7,598.2L94.7,595.2L95.7,593.8L97.3,593.4ZM103.2,580.5L101.9,574.9L104.3,572.7L106.0,575.4ZM86.6,513.7L92.4,513.8L93.7,516.4L91.0,517.6ZM76.7,569.1L72.3,573.6L68.9,573.9L70.6,571.0ZM167.6,547.7L164.1,546.9L163.5,545.2L165.2,545.0ZM71.9,525.6L67.6,528.2L66.8,527.1L66.9,525.7ZM50.4,594.1L54.0,595.9L53.4,597.2L52.1,597.8ZM133.5,527.5L128.0,527.8L126.2,526.2L128.4,525.4ZM53.2,573.7L58.7,572.4L61.4,574.1L58.6,575.5ZM151.6,600.5L154.4,605.1L152.7,607.1L150.5,605.8ZM116.9,610.9L111.5,612.0L109.5,609.8L112.1,608.2ZM143.4,546.4L142.7,550.4L140.9,550.5L140.2,548.9ZM169.8,607.8L173.9,607.9L174.7,609.2L173.3,609.9ZM81.6,592.2L77.1,587.0L77.3,583.8L80.0,585.6ZM90.4,595.4L91.1,589.9L93.3,588.4L93.7,591.0ZM173.6,519.9L167.7,520.4L165.2,518.8L168.0,517.9ZM75.3,553.0L70.3,555.1L67.9,553.4L70.1,551.4ZM169.8,585.8L173.2,584.2L173.7,585.6L173.4,587.0ZM61.7,517.2L67.3,515.9L68.6,517.5L67.1,519.0ZM160.0,588.7L157.1,582.4L158.5,579.6L160.8,581.8ZM163.9,520.0L166.1,524.5L164.4,526.9L162.4,524.8ZM155.8,532.7L151.9,528.0L152.7,524.9L155.4,526.6ZM56.8,585.3L61.7,580.5L63.5,581.2L63.2,583.1ZM73.7,595.6L75.2,592.5L77.2,592.6L77.1,594.6ZM130.0,548.3L134.7,546.7L136.3,548.5L134.6,550.2ZM131.0,592.3L128.0,588.1L129.2,585.8L131.4,587.2ZM154.1,519.3L159.8,517.2L162.4,519.1L159.9,521.1ZM162.8,539.8L165.0,544.7L163.9,546.0L162.4,545.2ZM151.5,538.6L156.5,536.0L159.1,537.6L157.0,539.9ZM127.9,564.4L123.7,565.5L122.2,564.0L123.8,562.7ZM96.5,530.5L98.1,525.9L100.8,525.7L100.9,528.4ZM160.5,534.4L160.4,529.5L161.7,528.7L162.5,529.9ZM144.8,608.7L145.2,604.6L146.7,604.6L147.7,605.8ZM156.1,568.3L150.3,566.9L149.6,564.9L151.6,564.4ZM49.2,561.9L53.3,563.8L53.7,565.8L51.6,565.6ZM53.1,596.0L56.3,597.4L55.6,598.8L54.2,599.3ZM43.4,564.0L47.7,563.1L47.6,565.3L46.5,567.1ZM128.2,520.0L127.1,513.5L129.4,510.8L130.9,514.0ZM168.0,532.1L172.9,531.9L173.3,534.2L171.4,535.6ZM171.3,584.6L167.6,585.5L167.2,584.0L168.0,582.6ZM85.5,533.4L83.3,527.9L84.6,527.1L86.1,527.5ZM177.1,568.0L170.6,569.1L169.6,567.1L171.0,565.5ZM67.8,562.1L65.2,558.2L66.7,556.1L68.8,557.5ZM128.0,525.3L125.5,519.2L127.4,516.8L129.6,518.9ZM85.6,593.5L84.9,598.1L83.2,599.4L82.9,597.3ZM71.5,591.8L71.1,597.2L69.2,598.1L68.3,596.2ZM164.5,595.3L167.8,593.2L169.1,595.3L167.8,597.4ZM77.5,548.4L75.3,541.9L76.3,539.1L77.9,541.5ZM144.1,517.8L140.8,515.1L141.3,513.8L142.7,513.8ZM120.7,593.9L115.5,593.4L114.8,591.2L116.9,590.3ZM59.9,605.5L63.5,606.9L62.8,609.3L60.4,609.4ZM55.0,580.1L60.3,581.3L60.9,582.7L59.4,583.2ZM67.5,596.8L67.9,601.1L65.3,602.0L64.2,599.6ZM165.2,599.1L168.5,599.7L168.8,601.1L167.4,601.7ZM170.3,543.3L174.4,545.9L174.4,548.1L172.2,547.7ZM113.7,549.4L117.9,551.2L117.2,553.5L114.8,553.9ZM44.1,546.2L46.4,543.3L47.4,544.0L47.7,545.1ZM84.0,551.5L77.9,549.7L77.1,548.0L79.0,547.6ZM165.3,556.2L167.2,559.6L165.2,560.2L163.2,559.5ZM147.9,584.0L143.1,587.0L140.9,586.4L142.3,584.6ZM115.5,607.9L119.3,610.7L118.5,613.4L115.8,612.6ZM106.1,569.9L103.2,574.6L101.9,574.4L101.6,573.1ZM160.4,592.2L156.3,592.2L155.5,590.1L157.5,589.2ZM77.6,558.4L71.7,557.9L70.5,555.6L73.0,554.6ZM69.1,600.3L70.1,603.6L69.0,604.0L67.9,603.5ZM92.1,582.7L90.0,588.7L88.0,587.9L86.7,586.2ZM145.9,590.3L149.8,590.5L149.9,592.5L148.1,593.5ZM81.6,545.7L87.9,547.9L88.9,550.5L86.2,550.6ZM72.4,608.1L67.5,606.9L67.7,605.2L69.2,604.1ZM114.2,568.4L119.3,564.8L121.9,565.1L120.4,567.1ZM82.1,546.6L78.8,549.6L77.6,548.4L77.7,546.7ZM173.1,534.2L173.6,530.8L175.3,530.0L175.6,531.9ZM123.3,549.2L127.2,547.4L128.7,548.3L127.6,549.6ZM86.3,566.9L83.5,562.1L84.7,560.9L86.4,561.3Z" fill="#7646cc"/>
<path d="M78.6,537.2L76.3,543.0L74.3,543.4L73.9,541.3ZM141.7,528.4L139.5,525.3L140.7,524.3L142.3,524.6ZM50.8,533.4L53.4,528.7L55.8,527.6L55.1,530.1ZM124.2,577.0L118.7,575.8L117.9,573.5L120.3,572.9ZM124.1,540.6L122.7,545.9L120.1,546.3L119.6,543.6ZM107.2,605.3L110.1,610.0L108.3,611.8L106.1,610.7ZM101.2,537.9L106.2,537.0L108.2,539.2L105.5,540.6ZM101.9,590.3L100.3,596.7L97.2,598.3L97.1,594.8ZM124.7,596.2L119.4,596.2L118.8,595.0L119.8,594.1ZM77.9,565.0L81.5,569.5L80.9,570.7L79.6,570.4ZM117.8,538.0L113.0,537.2L111.6,535.1L114.1,534.9ZM130.0,560.7L125.2,557.5L126.0,555.1L128.5,555.1ZM145.7,539.4L142.1,545.5L140.4,545.3L140.0,543.6ZM142.0,575.2L141.2,571.6L142.8,571.0L144.0,572.2ZM97.5,558.0L92.2,560.7L89.2,559.5L91.6,557.4ZM147.2,561.3L142.4,563.1L141.0,561.0L142.6,559.0ZM64.1,598.6L59.5,595.9L59.4,594.3L61.0,594.2ZM108.9,548.6L115.1,550.6L115.9,552.7L113.7,553.0ZM67.4,583.1L72.2,581.6L73.9,582.6L72.4,583.8ZM74.0,538.7L77.2,532.4L80.3,530.8L79.4,534.2ZM144.9,573.4L143.0,566.7L145.0,564.6L147.0,566.7ZM121.9,563.5L115.5,565.5L114.7,563.9L115.3,562.3ZM117.0,548.6L117.6,545.4L118.8,545.3L119.4,546.4ZM150.4,532.7L155.3,534.4L155.2,536.5L153.2,537.1ZM85.0,605.8L81.5,600.7L82.6,599.7L84.1,599.7ZM85.3,554.2L81.3,549.4L81.8,546.1L84.6,548.0ZM105.9,550.6L105.4,556.9L102.9,558.4L102.0,555.6ZM95.9,516.7L91.1,514.3L91.2,511.2L94.2,511.6ZM128.0,573.6L125.5,579.8L123.7,580.1L123.2,578.3ZM151.0,565.8L146.4,565.1L146.3,564.0L147.1,563.2ZM89.2,547.3L88.4,543.3L90.4,543.6L92.2,544.5ZM78.6,537.7L74.9,537.4L74.5,535.2L76.6,534.6ZM86.6,571.8L83.9,575.3L81.7,575.1L82.4,573.0ZM146.5,549.5L140.1,547.1L138.6,545.0L141.1,545.2ZM181.3,595.3L174.2,595.3L173.4,593.4L175.0,592.0ZM159.9,594.8L158.7,588.1L160.8,586.8L162.6,588.6ZM147.4,590.7L141.5,594.1L139.4,593.2L140.6,591.2ZM49.2,564.5L48.1,570.0L46.1,569.6L44.8,568.0ZM75.6,525.2L81.4,521.8L82.8,522.9L82.3,524.6ZM63.3,541.5L69.8,542.5L70.9,545.3L68.0,546.1ZM141.3,576.6L136.6,572.2L137.5,569.9L140.0,570.3ZM126.7,525.2L121.4,522.3L120.6,519.9L123.0,520.4ZM44.8,575.3L50.7,573.7L53.2,574.6L50.9,575.9ZM74.0,612.0L68.9,612.6L68.3,611.1L69.3,609.9ZM165.7,601.7L159.0,603.4L156.9,601.2L159.2,599.2ZM135.4,564.5L136.2,568.3L134.9,568.7L133.6,567.9ZM158.4,520.4L153.6,516.2L152.9,513.3L155.5,514.7ZM110.1,542.9L111.7,546.4L110.1,547.2L108.6,546.4Z" fill="#421f90"/>
</g>
</g>
<rect x="154.3" y="602.7" width="14.6" height="4.8" fill="#fff" stroke="#111" stroke-width="0.9"/>
<text x="161.6" y="606.3" font-size="3.4" text-anchor="middle" fill="#222">100 µm</text>
<g clip-path="url(#cm1)">
<rect x="179.4" y="515.5" width="124.7" height="93.7" fill="#dcd7e9"/>
<g filter="url(#mblur)">
<path d="M217.5,603.2L222.9,602.0L224.8,604.4L222.2,606.1ZM284.5,586.1L279.5,588.1L277.5,587.4L279.2,586.1ZM192.5,547.9L196.2,546.2L196.9,547.3L196.5,548.5ZM199.4,536.7L195.3,533.9L195.9,532.5L197.4,532.2ZM234.0,600.0L232.1,596.0L233.3,593.9L235.0,595.7ZM230.8,557.5L227.2,556.0L228.0,554.4L229.8,553.7ZM255.6,529.8L257.4,533.6L255.4,534.4L253.5,533.5ZM296.1,559.2L291.0,556.4L290.1,553.7L292.9,554.3ZM204.7,563.6L201.4,566.9L199.4,566.1L200.1,564.2ZM278.0,534.2L281.6,536.0L281.1,537.3L279.8,537.8ZM191.9,558.4L197.6,558.3L198.1,560.0L196.8,561.2ZM265.7,608.9L263.2,605.3L264.2,603.5L266.0,604.5ZM243.5,536.8L242.9,532.1L244.3,531.6L245.4,532.5ZM300.0,519.9L297.3,522.0L295.6,521.4L296.5,519.8ZM295.9,515.4L301.3,518.3L300.8,520.5L298.7,520.9ZM228.1,536.5L225.3,542.8L222.1,544.0L222.5,540.6ZM203.1,540.5L201.6,534.7L203.6,533.9L205.4,535.0ZM215.7,585.3L214.2,589.4L212.1,589.7L211.9,587.6ZM193.7,522.2L193.7,516.5L195.4,514.3L196.0,517.0ZM261.4,557.4L264.9,561.3L264.2,563.2L262.3,562.5ZM193.6,559.4L190.4,565.2L188.7,565.6L188.6,563.8ZM182.1,607.8L183.8,601.6L186.0,602.0L187.2,603.8ZM218.4,544.3L221.3,539.9L223.2,541.3L223.6,543.5ZM253.4,511.1L256.5,515.5L255.4,516.6L253.8,516.4ZM251.3,532.6L255.6,529.8L257.4,531.2L256.4,533.2ZM185.4,574.7L191.2,576.7L191.3,578.1L190.1,578.7ZM180.9,555.7L183.2,561.7L181.2,563.5L179.1,561.9ZM271.1,521.2L275.6,518.8L277.0,519.6L276.2,521.1ZM238.3,603.9L241.5,601.1L242.8,601.8L242.5,603.3ZM286.3,562.0L280.8,559.0L280.8,556.8L283.0,556.6ZM220.6,547.7L224.8,546.7L225.8,548.1L224.7,549.3ZM282.1,545.1L287.5,546.3L288.3,549.3L285.1,549.6ZM292.9,532.3L288.3,535.0L286.8,534.4L287.6,533.0ZM285.8,557.6L290.7,554.6L292.1,555.7L291.5,557.4ZM306.0,536.5L305.5,540.1L304.2,540.3L303.5,539.1ZM207.1,579.9L201.4,583.8L199.4,583.6L200.5,581.9ZM247.7,570.0L242.2,567.6L242.6,565.4L244.8,564.7ZM200.1,551.4L204.4,549.5L206.3,551.2L204.6,553.0ZM211.2,597.2L205.8,600.7L202.7,600.4L204.8,598.1ZM174.9,576.0L177.7,572.1L179.8,573.2L179.6,575.6ZM275.6,570.1L270.2,565.9L269.5,563.1L272.2,564.2ZM284.2,559.1L279.5,555.1L280.8,553.4L282.8,553.1ZM195.9,595.4L195.5,590.8L196.7,590.0L197.7,591.2ZM265.7,559.7L260.7,558.3L261.0,556.2L262.8,555.3ZM184.3,540.9L191.0,540.2L193.6,541.5L190.8,542.5ZM288.7,585.7L288.8,591.9L286.6,592.1L285.0,590.6ZM197.0,612.6L192.4,611.2L190.9,609.2L193.3,609.4ZM244.2,581.4L243.3,586.4L241.3,586.2L240.2,584.7ZM216.0,565.1L212.2,571.1L209.8,570.9L209.8,568.5ZM274.9,528.3L281.2,529.2L282.3,531.9L279.5,532.7ZM208.6,524.6L213.7,523.4L214.5,524.4L213.8,525.5ZM277.0,613.0L281.3,609.4L284.1,609.3L282.4,611.5ZM224.3,539.3L224.7,535.2L227.2,534.6L227.7,537.1ZM189.2,611.1L183.1,611.8L181.4,610.3L183.4,609.1ZM275.9,530.6L280.5,533.6L280.4,536.1L277.9,535.6ZM295.4,595.5L293.3,592.9L294.1,591.2L295.8,592.2ZM224.9,532.1L225.1,536.3L223.2,536.3L221.8,534.9ZM219.6,512.8L226.5,512.2L228.5,514.1L226.0,515.4ZM243.7,575.0L247.3,572.4L248.1,573.4L248.1,574.6ZM248.8,597.2L242.1,599.7L238.8,598.2L241.8,596.0ZM232.4,589.9L229.9,595.7L227.6,597.6L228.2,594.7ZM236.3,558.7L234.5,555.1L235.8,554.5L237.2,554.8ZM220.9,549.7L222.6,543.3L225.7,541.6L225.6,545.1ZM295.0,526.3L291.3,531.8L288.1,533.1L289.5,530.0ZM278.5,535.8L274.9,534.1L275.6,532.3L277.5,531.9ZM300.9,574.0L304.8,572.0L306.1,573.7L305.0,575.7ZM221.0,558.2L225.0,558.1L225.4,559.3L224.5,560.2ZM193.8,561.5L189.4,561.9L189.1,559.9L190.5,558.5ZM204.3,608.3L209.4,606.9L210.0,609.1L208.9,611.0ZM305.1,598.1L304.2,594.2L306.2,594.5L308.0,595.5ZM235.5,614.7L234.0,608.3L235.0,606.0L236.3,608.2ZM188.6,561.1L182.7,562.8L180.1,560.7L182.8,558.9ZM252.4,583.1L255.9,583.8L255.6,585.2L254.5,586.0ZM229.1,522.8L232.0,527.1L230.2,528.1L228.1,527.9ZM287.1,512.9L281.1,513.7L280.0,512.3L281.3,511.1ZM259.2,517.3L264.7,519.8L265.2,521.4L263.5,521.5ZM227.6,541.4L231.7,546.8L231.4,550.1L228.8,548.1ZM297.6,527.6L291.8,527.2L291.1,525.3L292.9,524.3ZM251.9,604.4L254.8,599.8L256.5,600.4L256.8,602.1ZM236.2,560.0L231.2,561.7L230.5,560.6L231.0,559.3ZM184.4,530.9L188.1,531.6L188.2,533.7L186.1,534.3ZM256.4,593.5L254.5,587.4L256.2,586.2L258.0,587.3ZM198.4,524.9L194.5,528.4L192.4,527.2L193.2,524.9ZM234.0,603.5L237.9,606.5L237.4,607.9L235.8,608.1ZM197.7,560.5L202.4,565.0L203.1,568.1L200.4,566.4ZM208.6,593.6L209.3,586.7L211.2,584.7L211.7,587.3ZM228.4,522.3L224.6,526.0L222.2,524.8L223.1,522.2ZM237.9,570.2L241.4,572.0L240.9,574.4L238.5,574.1ZM238.1,571.9L241.8,571.1L242.8,572.8L241.2,574.0ZM201.0,597.3L204.6,596.0L205.9,598.1L204.0,599.7ZM182.2,554.9L180.0,551.1L181.5,549.5L183.4,550.7ZM281.7,574.2L282.8,570.3L285.0,570.5L285.5,572.7ZM214.3,552.9L212.0,550.1L213.1,549.2L214.5,549.3ZM230.1,563.0L231.3,557.0L233.1,556.0L233.7,558.0ZM288.9,513.3L282.1,514.3L281.3,512.3L282.6,510.6ZM188.1,609.6L183.8,611.0L183.1,609.4L183.9,607.9ZM297.4,588.7L294.6,593.9L292.5,594.4L292.7,592.3ZM216.9,608.2L219.2,604.8L221.1,606.2L221.0,608.6ZM214.2,566.0L213.2,569.3L211.2,569.1L210.9,567.1ZM290.5,519.3L286.2,517.8L285.1,515.9L287.2,516.0ZM219.6,560.1L216.3,562.1L215.7,559.9L216.5,557.9ZM308.4,543.6L306.0,548.3L303.5,548.4L303.7,545.9ZM297.2,598.6L295.4,605.0L292.2,606.4L292.1,602.8ZM222.6,596.2L223.8,590.0L226.2,589.2L227.0,591.6ZM256.6,551.2L256.6,547.2L257.8,546.9L258.6,547.7ZM221.3,582.7L225.8,579.1L227.3,579.8L226.9,581.4ZM310.5,541.0L305.5,538.5L305.4,537.1L306.8,536.8ZM196.7,615.8L190.8,612.4L190.3,609.9L192.8,610.1ZM295.1,517.6L291.2,517.1L290.3,515.2L292.3,514.7ZM305.1,544.1L306.3,548.2L305.2,549.4L304.0,548.2ZM299.8,516.4L301.6,511.4L303.4,511.7L304.1,513.3ZM305.4,556.9L305.3,563.2L302.8,564.9L301.9,562.1ZM210.9,564.9L206.5,563.5L207.4,561.6L209.3,560.6ZM211.1,520.1L206.5,521.3L206.0,519.4L207.0,517.7ZM253.2,509.6L257.6,513.6L256.9,516.3L254.2,515.5ZM215.1,592.2L214.3,588.3L216.1,588.2L217.7,589.1ZM183.5,546.6L183.5,550.8L181.5,551.0L180.4,549.3ZM254.2,607.1L249.6,606.1L249.5,604.2L251.3,603.4ZM200.3,600.8L197.7,595.3L199.2,593.8L201.0,594.7ZM287.7,560.8L292.2,562.9L292.2,564.4L290.7,564.8ZM300.7,537.5L298.7,543.0L296.9,542.7L296.0,541.1ZM201.0,531.5L197.2,526.3L198.3,523.5L200.8,525.1ZM230.4,525.4L236.6,523.3L239.5,525.0L236.7,526.9ZM216.9,583.4L213.5,579.7L214.3,578.2L216.1,578.4ZM199.7,521.2L202.1,518.3L203.1,519.5L203.5,521.1ZM231.5,572.7L229.0,567.5L230.9,565.5L233.1,567.1ZM194.5,598.9L196.2,604.3L194.5,605.2L192.8,604.3ZM198.3,594.7L200.1,591.2L202.4,591.7L202.1,594.0ZM227.3,542.5L230.3,547.7L229.2,548.8L227.6,548.5ZM284.0,559.0L285.7,554.5L287.5,554.4L287.9,556.2ZM252.9,524.7L251.3,527.9L249.8,527.4L249.6,525.9ZM300.8,524.1L304.6,521.9L305.5,523.4L305.1,525.2ZM193.2,593.7L196.2,587.1L199.9,586.0L199.3,589.8ZM253.2,602.3L256.6,601.8L257.4,603.4L255.9,604.4ZM182.7,514.3L185.2,510.6L186.8,512.1L187.2,514.2ZM237.9,536.1L233.4,538.4L231.9,537.1L232.9,535.5ZM182.8,588.1L182.4,582.3L184.6,582.1L186.4,583.5ZM185.2,606.3L180.2,605.7L180.2,604.3L181.2,603.3ZM174.4,536.6L179.8,535.0L182.0,537.1L179.5,539.0ZM188.8,547.4L186.5,543.8L187.6,542.4L189.3,543.1ZM239.3,609.4L239.3,612.9L237.7,613.8L237.1,612.1ZM288.8,550.4L295.2,551.0L295.7,553.3L293.7,554.4ZM214.1,559.8L213.6,552.9L216.1,550.4L217.3,553.7ZM199.6,600.3L197.2,596.4L198.9,594.2L201.0,595.9ZM239.7,572.0L244.5,571.1L244.6,573.2L243.6,575.0ZM277.7,608.9L277.3,613.0L275.4,612.4L274.2,610.9ZM218.1,542.2L213.1,546.3L210.3,546.7L212.1,544.5ZM229.3,588.8L234.2,586.2L235.6,586.8L234.8,588.2ZM228.1,589.1L226.0,583.1L227.7,580.9L229.6,583.0ZM234.6,521.3L233.7,517.8L235.6,517.2L237.0,518.5ZM285.7,555.5L291.4,558.3L292.6,561.4L289.4,560.7ZM294.5,532.8L288.8,533.7L287.8,531.3L289.7,529.6ZM181.6,564.4L179.3,570.0L176.6,571.1L176.8,568.2ZM258.3,597.0L261.5,593.9L263.5,594.0L262.6,595.8ZM250.7,564.0L254.2,562.4L254.8,564.4L253.8,566.3ZM198.8,555.9L196.5,550.7L197.4,549.1L198.8,550.2ZM233.9,511.3L237.9,516.6L238.0,519.0L236.0,517.6ZM208.3,520.3L211.2,524.5L210.7,527.0L208.7,525.4ZM181.8,527.2L178.5,531.7L177.1,530.9L176.7,529.3ZM213.6,588.5L210.1,588.7L210.2,587.3L211.0,586.1ZM296.7,542.5L295.7,547.6L294.0,547.6L293.0,546.2ZM213.8,550.9L215.9,554.1L214.7,555.5L213.0,554.6ZM280.7,535.8L282.5,540.7L281.6,542.0L280.4,541.0ZM296.8,532.6L291.7,536.8L289.4,537.0L290.7,535.0ZM275.1,543.7L277.8,537.6L280.4,535.6L279.6,538.8ZM294.4,553.0L290.5,548.9L291.2,546.9L293.4,547.4ZM302.6,536.3L305.1,531.6L307.8,531.1L307.3,533.8ZM175.6,547.0L178.7,542.0L181.9,542.1L181.2,545.3ZM242.9,560.6L249.5,562.7L251.0,566.2L247.2,566.1ZM199.5,606.5L194.9,611.6L191.4,611.3L192.8,608.1ZM176.6,517.9L179.1,521.9L178.0,523.4L176.3,522.6ZM228.9,577.4L230.9,580.3L229.6,581.1L228.0,580.8ZM279.8,593.8L280.6,597.3L279.2,598.5L278.1,597.0ZM180.0,592.8L176.0,594.5L175.4,592.6L176.1,590.8ZM221.5,588.1L216.3,588.3L215.6,587.1L216.7,586.1ZM229.7,534.4L233.3,532.6L233.8,534.0L233.6,535.4ZM228.7,517.1L234.3,517.8L235.8,520.1L233.1,520.5ZM268.9,593.8L267.2,599.4L265.2,601.1L265.4,598.4ZM250.9,529.1L249.5,523.9L251.1,522.7L252.6,524.0ZM224.5,576.6L227.7,578.2L227.5,580.2L225.6,580.0ZM247.1,613.8L246.2,608.5L247.7,607.6L248.9,608.8ZM302.8,594.7L306.7,593.1L307.7,595.3L306.2,597.2ZM292.1,514.6L297.3,514.6L297.9,517.1L295.7,518.4ZM213.5,539.8L208.2,538.1L207.7,535.9L209.9,535.5ZM184.6,567.1L184.7,572.7L182.5,574.4L181.6,571.8ZM203.4,543.4L206.9,549.8L205.2,551.7L202.9,550.7ZM272.9,555.6L275.4,551.6L277.0,552.0L277.1,553.6ZM286.9,512.7L290.9,516.4L291.0,518.8L288.7,517.8ZM258.8,600.7L258.5,595.3L260.8,593.5L261.9,596.3ZM300.4,595.3L299.6,599.0L297.4,598.4L296.7,596.1ZM287.1,529.7L293.1,531.6L293.5,533.0L292.2,533.5ZM243.6,582.6L237.8,584.4L236.7,582.5L237.8,580.6ZM222.1,576.2L216.4,576.6L216.2,574.8L217.2,573.3ZM229.3,518.8L234.7,520.6L234.8,522.3L233.2,523.0ZM302.6,577.2L301.0,581.8L299.1,582.9L299.3,580.7ZM206.3,608.8L204.5,613.7L201.7,613.6L201.5,610.9ZM261.4,594.4L255.7,594.5L254.9,593.0L256.3,591.9ZM199.9,559.7L202.9,557.8L204.2,558.5L203.4,559.8ZM203.0,576.7L202.3,581.0L200.2,580.3L199.1,578.6ZM299.0,570.1L304.5,571.2L306.5,573.4L303.6,573.4ZM198.2,522.5L194.6,528.4L192.8,528.5L192.7,526.7ZM263.0,564.0L261.2,569.5L259.0,569.2L258.1,567.1ZM220.0,603.1L220.2,607.7L218.5,608.8L217.5,607.0ZM193.6,595.2L190.3,593.9L190.8,592.7L192.1,592.0ZM181.0,540.4L186.0,539.4L188.0,541.5L185.5,542.9ZM233.2,608.4L237.0,608.8L237.1,610.7L235.4,611.5ZM292.0,549.3L289.3,543.4L290.7,540.9L292.8,542.9ZM195.9,552.1L201.8,552.6L203.4,554.4L201.1,554.9ZM227.8,587.1L223.7,583.3L224.3,581.8L225.9,581.9ZM272.6,515.7L270.5,519.4L268.7,518.3L268.4,516.2ZM247.3,567.5L243.1,567.7L243.4,565.9L244.5,564.4ZM257.3,554.2L261.1,555.8L260.4,557.9L258.3,558.2ZM217.6,616.6L217.0,609.5L218.7,606.9L219.7,609.8ZM187.5,552.3L192.1,551.6L192.3,553.1L191.7,554.4ZM272.0,604.9L269.4,601.6L270.8,599.6L272.9,600.9ZM179.6,546.4L184.4,545.1L185.0,546.2L184.4,547.4ZM216.6,571.2L218.9,567.6L220.4,568.7L220.8,570.5ZM306.2,557.3L302.0,553.0L301.6,549.9L304.2,551.6ZM188.3,589.4L188.5,593.4L186.5,593.9L185.4,592.1ZM286.5,541.3L284.5,534.7L285.8,533.2L287.3,534.4ZM290.7,541.5L294.4,541.7L294.2,543.8L292.4,544.8ZM212.9,585.1L208.3,582.7L207.5,580.4L210.0,580.8ZM260.7,571.6L255.3,574.3L253.6,572.9L254.7,570.9ZM240.5,559.8L245.4,563.3L245.8,565.9L243.2,565.2ZM259.9,564.4L254.9,559.6L254.3,556.4L257.2,558.1ZM288.7,521.0L286.9,526.1L285.2,526.9L285.1,525.1ZM240.9,579.0L235.9,580.7L235.0,579.2L235.7,577.7ZM284.3,591.6L278.9,592.6L276.9,590.6L279.3,589.1ZM227.1,598.5L231.3,595.7L232.8,597.4L232.0,599.6ZM201.6,520.4L195.6,521.5L193.6,520.6L195.6,519.5ZM193.1,512.4L195.8,517.5L194.1,518.8L192.1,518.2ZM179.8,540.4L180.7,536.8L182.4,536.1L182.6,537.9ZM278.1,601.1L279.1,606.0L277.2,607.6L275.8,605.5ZM189.7,584.0L186.0,585.8L184.6,584.5L185.7,582.9ZM187.7,591.3L183.8,594.5L181.1,593.2L182.7,590.6ZM182.4,514.9L184.2,519.5L183.0,521.1L181.5,519.7ZM282.1,559.6L278.0,557.7L278.5,555.1L281.2,555.1ZM256.0,606.1L252.5,601.5L253.8,598.9L256.4,600.4ZM281.4,551.1L277.9,556.0L275.7,555.8L275.9,553.5ZM231.5,576.5L226.0,575.7L224.1,573.9L226.6,573.7ZM200.3,573.5L200.3,569.8L201.9,569.7L203.0,570.9ZM294.5,593.0L295.7,588.0L297.5,587.0L297.8,589.1ZM208.2,606.4L203.4,601.0L204.5,598.4L207.2,599.2ZM274.5,520.8L272.2,517.8L273.7,517.0L275.4,517.1ZM297.1,525.6L300.9,520.8L304.1,520.4L302.7,523.3ZM294.1,596.5L298.4,595.3L299.4,596.9L298.2,598.4ZM279.8,531.9L283.0,528.9L284.9,529.7L284.2,531.6ZM305.8,569.1L301.7,574.9L299.6,574.5L299.5,572.4ZM286.3,554.4L280.6,555.3L278.2,553.9L280.8,552.8ZM258.9,549.9L255.9,547.8L257.0,546.5L258.7,546.3ZM225.5,586.8L227.9,582.6L229.8,582.0L229.4,584.0ZM251.3,576.6L251.4,580.6L249.9,581.0L248.9,579.8ZM262.4,508.7L263.9,514.8L261.9,515.8L260.0,514.5ZM223.3,543.6L223.1,549.1L221.6,550.7L221.0,548.6ZM218.9,526.6L215.5,530.4L212.8,529.6L213.8,526.9ZM257.4,513.1L261.3,513.0L261.5,515.4L259.5,516.4ZM283.2,547.8L282.0,551.7L280.4,550.6L279.2,548.9ZM192.7,567.9L187.6,565.8L188.1,564.4L189.3,563.5ZM206.1,531.5L206.2,527.4L207.9,527.6L209.1,528.8ZM260.0,569.2L267.1,569.5L268.9,572.1L265.9,573.1ZM202.7,518.7L202.4,525.1L200.3,525.7L199.1,523.9ZM177.9,573.0L183.3,575.8L183.3,577.4L181.7,577.7ZM298.4,513.4L302.5,516.8L301.9,518.8L299.9,518.5ZM267.8,604.6L274.5,605.1L276.5,607.9L273.1,608.7ZM225.1,557.4L219.6,553.6L219.8,552.4L221.0,552.1ZM219.6,550.0L220.4,545.3L222.1,544.1L222.4,546.1ZM245.9,520.6L251.4,522.3L251.8,523.7L250.4,524.2ZM191.0,571.8L192.3,577.0L191.3,578.7L190.2,577.1ZM197.3,529.0L195.8,524.5L197.1,523.2L198.5,524.4ZM261.8,552.5L264.3,549.6L265.7,549.9L265.5,551.3ZM254.0,585.5L248.6,587.4L247.6,585.4L248.6,583.4ZM192.3,532.6L196.6,532.1L197.9,534.4L195.5,535.5ZM204.5,527.4L199.8,522.3L200.1,520.1L202.2,520.9ZM234.9,572.7L237.8,577.3L236.9,579.0L235.1,578.2ZM278.0,564.4L276.4,560.9L277.7,559.2L279.2,560.7ZM231.4,585.3L233.2,579.5L235.1,579.2L235.7,580.9ZM189.6,525.1L185.6,522.5L186.0,519.8L188.7,520.4ZM280.5,603.1L280.0,598.3L281.7,597.7L282.9,598.9ZM292.0,573.0L294.1,577.1L293.0,578.6L291.5,577.5ZM278.8,589.8L280.6,586.3L282.0,586.5L282.3,587.9ZM185.6,567.7L181.5,571.5L179.5,570.0L180.0,567.7ZM265.2,542.4L270.7,541.8L272.7,543.2L270.4,544.2ZM290.6,542.5L293.6,537.2L295.9,537.5L296.1,539.8ZM264.0,610.5L261.8,605.1L263.9,604.4L266.0,605.0ZM307.0,535.8L305.0,532.0L306.5,531.3L308.2,531.6ZM248.3,550.7L251.7,545.8L255.1,545.7L254.1,548.9ZM303.2,598.4L297.6,598.7L295.5,597.1L298.0,596.3ZM232.4,544.6L237.9,547.8L238.0,550.9L234.9,550.5ZM192.0,524.2L187.4,526.5L186.1,525.3L186.9,523.7ZM192.2,530.0L187.6,535.5L184.1,535.8L185.6,532.7ZM252.2,539.4L251.0,546.3L248.4,548.7L248.2,545.1ZM309.2,522.6L305.6,524.4L303.9,522.9L305.4,521.2ZM310.3,588.2L306.0,588.6L304.7,586.6L306.8,585.6ZM221.6,515.3L222.4,520.5L220.7,521.3L219.3,520.1ZM201.5,531.6L203.2,537.3L201.8,538.1L200.4,537.4ZM248.0,606.5L243.9,600.8L244.4,599.1L246.1,599.8ZM202.2,548.4L199.6,543.7L201.4,542.4L203.4,543.2ZM225.0,584.6L229.1,589.6L228.6,590.7L227.4,590.6ZM246.1,611.2L241.5,612.9L240.0,611.4L241.4,609.9ZM268.3,521.6L273.5,516.9L276.1,517.9L275.3,520.6ZM233.9,535.9L237.0,537.3L236.7,538.7L235.3,538.9ZM205.4,580.9L206.2,576.3L208.1,576.1L208.9,577.8ZM276.9,545.4L271.0,546.0L269.5,543.8L271.8,542.3ZM256.4,589.4L252.1,593.6L250.0,593.6L250.9,591.7ZM220.7,567.2L218.0,569.8L217.1,568.5L217.0,566.9ZM246.5,600.6L242.2,600.5L242.2,599.3L242.9,598.3ZM272.0,533.3L275.9,533.7L275.6,535.7L273.9,536.7ZM223.4,554.4L228.6,550.7L230.0,551.6L229.7,553.3ZM214.8,561.9L209.3,558.3L207.8,555.2L210.9,556.6ZM189.6,519.8L187.3,513.3L187.9,510.6L189.4,512.9ZM220.9,542.2L219.4,537.5L221.0,536.1L222.6,537.5ZM307.6,548.9L301.9,552.1L299.7,551.8L301.2,550.1ZM238.6,568.9L241.4,563.5L243.6,562.5L243.2,564.8ZM224.3,586.4L218.9,585.0L218.9,583.3L220.4,582.4ZM181.9,545.6L179.0,541.2L180.2,540.3L181.8,540.3ZM175.3,542.5L179.6,545.6L180.4,547.9L178.1,547.0ZM186.0,527.9L185.4,523.9L187.5,523.0L188.7,524.9ZM281.3,526.9L275.5,527.0L274.6,525.6L275.9,524.7ZM212.9,560.9L210.7,566.3L209.2,565.9L208.4,564.6ZM265.1,526.6L270.4,530.2L271.0,533.6L267.8,532.5ZM189.8,524.6L188.5,521.3L190.0,520.2L191.5,521.4ZM250.0,510.2L254.2,514.3L253.5,517.2L250.8,516.0ZM298.1,541.4L291.5,540.8L289.0,539.1L292.0,538.8ZM248.8,561.5L249.0,565.8L247.2,565.9L245.9,564.7ZM302.6,534.1L306.7,535.6L306.6,537.1L305.1,537.7ZM256.7,555.1L261.7,557.4L261.5,559.0L259.9,559.5ZM260.2,575.8L256.8,571.3L258.1,568.8L260.6,570.2ZM202.3,556.8L202.8,551.0L204.4,549.5L204.9,551.6ZM249.9,613.5L249.3,609.7L251.3,608.9L252.4,610.6ZM222.3,578.7L225.0,582.9L223.9,584.2L222.3,583.8ZM254.0,597.9L257.9,599.0L258.3,600.9L256.3,601.2ZM248.7,598.9L245.3,595.7L246.1,593.1L248.5,594.2ZM297.2,534.4L300.3,532.1L302.2,533.3L301.0,535.2ZM291.2,613.3L293.3,609.2L295.6,609.8L295.7,612.2ZM219.7,598.3L221.1,602.5L219.7,603.3L218.3,602.6ZM235.4,557.6L233.8,562.8L231.6,563.4L231.3,561.3ZM222.4,598.5L222.0,595.0L224.0,594.5L225.1,596.2ZM256.0,576.0L249.2,575.0L248.7,573.2L250.3,572.1ZM233.2,572.0L230.7,575.4L229.1,573.9L229.0,571.7ZM234.3,544.9L229.7,546.8L229.1,545.5L229.4,544.0ZM197.4,523.9L198.5,529.6L196.4,531.8L194.9,529.1ZM270.2,589.4L268.1,592.4L267.2,591.8L266.8,590.7ZM190.9,538.4L187.4,535.5L188.4,533.0L190.9,533.9ZM267.5,538.0L274.2,538.8L275.8,541.7L272.6,542.5ZM227.7,547.4L227.1,542.6L228.7,540.9L229.7,543.0ZM283.8,604.9L289.5,608.9L291.1,612.0L287.9,610.5ZM245.9,525.7L246.8,530.6L245.0,530.8L243.4,530.0ZM264.2,541.7L259.3,538.2L259.4,535.5L262.0,536.1ZM200.9,536.0L197.6,534.5L198.2,532.8L199.9,532.6ZM198.0,565.2L191.6,567.7L190.1,566.1L191.2,564.2ZM190.3,579.2L193.0,581.9L191.8,583.5L189.9,583.0ZM227.2,596.1L220.7,594.9L219.5,592.1L222.5,591.5ZM229.2,534.7L227.3,528.2L229.2,526.4L231.2,528.2ZM240.4,612.2L236.7,611.8L236.6,610.1L238.0,609.3ZM204.8,557.2L208.0,561.6L206.5,563.9L204.1,562.6ZM226.1,517.1L221.9,520.3L219.1,518.9L220.9,516.4ZM295.1,614.9L293.7,610.1L295.2,609.4L296.7,610.2ZM220.6,600.7L226.3,597.6L228.9,598.1L227.1,600.0ZM199.3,556.0L203.2,558.6L202.5,560.7L200.3,560.5ZM273.8,563.6L271.0,559.5L272.3,558.5L274.0,558.6ZM212.6,562.1L211.8,555.4L213.8,552.9L215.1,555.8ZM266.0,592.8L260.7,595.6L259.8,594.1L260.0,592.4ZM209.2,594.4L214.3,591.5L215.9,592.1L215.0,593.5ZM207.3,601.0L210.9,602.1L211.0,604.1L208.9,604.4ZM259.1,599.8L258.7,605.1L255.9,606.4L255.2,603.4ZM282.8,606.0L282.6,610.0L281.0,610.6L280.2,609.1ZM261.6,529.9L257.6,527.1L257.9,525.7L259.3,525.5ZM186.8,528.2L192.6,531.1L192.8,533.9L190.0,533.8ZM243.3,580.4L246.5,584.3L246.2,586.4L244.4,585.3ZM192.6,520.3L198.4,516.3L201.8,517.0L199.6,519.7ZM261.5,569.8L258.3,565.4L258.7,563.5L260.5,564.5ZM243.9,572.4L237.1,572.4L236.6,570.7L237.8,569.4ZM257.7,577.5L261.1,580.5L260.6,582.4L258.6,581.9ZM202.1,545.5L200.6,548.9L199.2,548.7L198.9,547.3ZM185.2,565.3L188.3,563.3L189.5,564.8L188.7,566.5ZM228.3,539.1L232.4,541.1L231.8,542.3L230.7,543.0ZM181.8,539.6L185.5,541.0L186.5,543.0L184.4,542.7ZM214.3,549.7L209.2,553.3L206.9,552.4L208.1,550.2ZM279.2,555.0L278.5,558.9L276.7,558.9L276.0,557.3ZM301.4,509.5L301.7,515.6L300.2,516.1L299.0,515.1ZM183.2,545.9L176.9,544.8L176.1,541.9L178.9,541.2ZM213.6,595.5L210.8,589.4L211.8,588.3L213.1,588.8ZM248.3,556.3L244.0,557.2L243.6,555.9L244.2,554.7ZM212.8,551.7L209.9,547.8L210.6,546.3L212.2,546.9ZM203.4,525.9L202.1,519.5L203.5,518.6L204.8,519.5ZM258.3,539.4L257.7,533.4L259.0,532.2L260.1,533.6ZM246.1,568.5L250.9,566.4L252.5,567.7L251.2,569.4ZM184.6,523.5L179.5,526.9L177.9,526.2L178.6,524.6ZM300.2,553.2L304.4,557.2L303.6,558.8L301.8,558.8ZM202.6,532.7L196.5,530.5L196.0,528.7L197.8,528.3ZM263.0,585.9L267.5,582.9L268.8,584.1L268.4,585.9ZM177.6,531.1L181.5,526.8L183.0,527.5L183.1,529.1ZM180.4,562.9L184.6,565.6L184.0,566.9L182.7,567.3ZM265.5,606.3L265.8,612.8L264.1,614.3L263.0,612.3ZM302.5,548.5L297.3,549.2L297.1,547.5L297.9,545.9ZM245.6,548.4L249.6,547.6L250.6,549.4L248.9,550.7ZM278.6,531.3L281.2,526.9L284.1,526.7L283.4,529.4ZM230.3,547.1L223.7,546.6L223.6,544.5L225.1,543.1ZM227.8,529.9L232.5,527.4L233.2,529.3L232.9,531.2ZM190.7,555.2L192.7,550.1L195.0,549.4L195.1,551.8ZM281.0,521.7L280.7,525.4L278.7,525.3L277.7,523.5ZM227.3,517.1L224.4,519.5L222.4,518.7L223.5,516.9ZM210.7,517.3L216.3,518.7L216.9,520.6L214.9,521.2ZM249.3,556.9L249.1,561.2L247.5,562.6L247.0,560.6ZM247.5,543.5L241.6,541.9L240.3,538.7L243.8,538.7ZM292.6,525.0L288.7,524.8L288.1,523.3L289.6,522.6ZM191.9,590.1L188.5,591.5L186.7,590.2L188.4,588.9ZM273.9,551.4L274.8,544.9L276.9,542.3L277.0,545.6ZM214.6,570.4L209.3,567.4L210.2,565.3L212.4,564.7ZM214.1,565.6L210.1,571.4L207.1,572.0L208.0,569.1ZM257.2,608.1L254.2,611.9L251.6,610.9L252.4,608.2ZM266.6,610.6L260.8,612.2L258.7,610.2L261.0,608.3ZM213.2,566.4L214.0,561.3L215.7,559.8L216.0,562.0ZM270.9,604.4L264.9,602.8L263.3,600.3L266.3,600.2ZM229.0,519.5L228.7,524.2L226.7,523.8L225.2,522.3ZM266.1,599.7L270.1,601.9L269.2,604.1L266.8,604.2ZM303.2,599.7L304.3,593.1L306.5,593.3L308.0,595.0ZM270.6,585.4L270.9,580.0L272.2,579.4L273.0,580.6ZM291.2,530.4L288.0,536.6L285.5,537.7L286.0,535.0ZM283.5,539.4L285.3,543.4L283.9,545.0L282.2,543.6ZM270.6,610.4L268.8,607.0L270.3,605.7L271.9,606.7ZM291.9,551.6L293.6,555.1L292.1,556.5L290.4,555.2ZM240.8,569.2L244.8,566.3L247.3,566.3L245.6,568.2ZM306.0,559.3L301.1,560.5L300.5,559.1L301.2,557.8ZM180.4,580.1L183.3,575.0L186.3,574.6L185.8,577.6ZM274.5,531.5L275.7,524.5L278.1,524.5L279.5,526.3ZM281.8,563.7L283.6,568.0L282.9,569.9L281.6,568.4ZM289.2,592.2L286.3,594.6L285.2,593.3L285.5,591.5ZM252.5,552.3L254.3,555.9L252.9,556.7L251.3,556.1ZM274.8,594.2L274.8,590.1L277.0,590.0L278.2,591.9ZM304.4,520.8L303.8,513.7L305.9,511.0L307.1,514.2ZM239.5,593.2L243.4,595.0L243.4,596.3L242.1,596.7ZM176.0,539.1L181.3,539.9L181.0,541.8L179.5,543.1ZM183.6,600.3L180.0,604.5L177.2,604.9L178.5,602.4ZM280.8,529.1L286.7,528.9L288.6,531.4L285.6,532.5ZM292.7,515.3L289.8,517.9L287.8,517.6L288.8,515.9ZM257.4,576.8L252.6,574.7L252.4,572.7L254.4,572.5ZM253.0,564.1L249.8,558.0L251.1,556.2L253.2,557.2ZM290.2,526.1L286.6,523.6L286.6,521.7L288.4,522.1ZM219.8,573.1L217.9,578.6L216.4,578.9L215.9,577.4ZM270.3,585.5L269.3,580.3L270.5,579.5L271.7,580.4ZM302.1,555.6L298.2,558.9L296.0,558.1L297.0,556.0ZM232.6,565.8L229.4,571.9L226.7,572.9L227.2,570.1ZM197.7,568.8L202.0,566.8L202.8,568.0L202.4,569.3ZM221.4,513.6L218.0,517.9L215.1,517.3L216.0,514.4ZM276.9,545.2L271.3,547.0L269.8,545.7L271.1,544.1ZM230.3,519.9L229.9,527.1L227.7,527.4L226.1,525.8ZM309.6,532.4L303.5,533.1L301.9,530.9L304.2,529.5ZM177.8,525.9L180.9,528.8L179.4,530.0L177.5,530.2ZM288.9,604.1L293.1,603.8L293.8,605.2L292.6,606.1ZM301.5,522.7L297.7,523.6L296.2,522.1L298.0,521.0ZM207.7,517.4L204.9,514.7L205.8,513.5L207.4,513.5ZM246.2,576.1L250.7,579.3L250.6,581.4L248.5,581.1ZM183.0,582.8L177.4,584.5L175.0,583.4L177.2,581.9ZM232.9,570.0L227.5,565.9L227.3,563.6L229.5,564.1ZM246.1,608.5L248.3,611.8L246.7,613.1L244.8,612.3ZM229.0,569.0L225.0,567.8L224.4,565.5L226.7,565.5ZM195.1,529.0L199.7,528.4L200.6,530.7L198.6,532.1ZM277.9,536.4L282.0,535.1L282.0,537.0L281.4,538.8ZM180.7,569.6L186.1,572.7L186.0,574.7L184.1,574.9ZM295.8,604.9L289.8,605.1L288.0,602.8L290.8,601.7ZM200.3,572.4L196.6,568.5L197.8,565.9L200.5,567.1ZM180.2,569.6L179.3,565.7L181.2,564.5L182.5,566.4ZM244.9,604.3L241.7,601.3L242.6,598.9L245.0,599.9ZM217.5,597.0L213.7,597.3L212.7,596.0L214.2,595.1ZM192.9,588.0L189.7,590.0L187.9,588.9L189.2,587.2ZM246.1,568.4L243.2,574.8L241.7,575.0L241.3,573.5ZM207.1,560.4L205.2,553.9L206.5,550.8L208.2,553.7ZM196.4,530.0L197.4,534.7L196.0,536.4L194.8,534.6ZM193.8,600.2L188.8,599.3L187.8,597.6L189.8,597.2ZM281.8,556.3L281.9,560.5L280.1,560.1L278.5,559.0ZM271.6,516.6L273.3,522.3L271.1,524.7L269.3,522.1ZM292.4,532.7L293.3,536.8L291.5,538.2L290.2,536.3ZM216.7,530.0L221.7,534.3L222.5,537.0L220.0,535.7ZM261.6,588.9L262.9,594.3L261.8,595.4L260.7,594.4ZM178.9,515.8L184.7,514.2L186.1,515.1L184.9,516.3ZM256.2,557.5L259.5,551.5L262.8,550.9L262.2,554.2ZM297.0,592.3L291.2,588.5L290.8,585.6L293.7,586.2ZM302.8,605.7L298.9,606.5L298.4,604.7L299.6,603.3ZM207.9,603.9L201.9,605.6L199.0,604.5L201.7,603.0ZM291.6,550.0L285.6,551.3L283.0,550.3L285.5,549.1ZM197.0,523.0L197.9,527.4L196.1,527.8L194.6,526.9ZM214.0,557.9L210.3,555.9L211.2,553.9L213.5,553.8ZM209.6,536.6L206.7,530.4L207.4,528.1L209.0,529.8ZM258.9,598.6L258.0,593.7L260.0,593.7L261.9,594.6ZM245.4,583.2L249.1,583.9L248.8,585.9L247.0,586.6ZM191.4,559.0L190.5,552.3L192.6,550.2L194.1,552.8ZM232.0,613.8L228.3,613.0L228.2,610.7L230.5,610.4ZM197.4,527.5L193.6,522.5L194.6,520.1L196.9,521.2ZM207.9,556.3L206.3,561.2L204.3,561.8L204.1,559.7ZM202.4,595.8L205.9,593.1L207.0,594.9L206.7,597.0ZM280.0,539.1L282.9,543.2L281.7,545.4L279.6,544.1ZM288.4,560.8L286.4,557.0L288.1,555.3L290.0,556.7ZM198.4,557.0L193.3,557.6L191.8,555.1L194.4,553.8ZM226.3,557.5L231.4,557.3L231.7,559.4L230.1,560.8ZM287.9,534.4L291.5,537.8L291.3,539.5L289.7,539.0ZM260.1,561.4L257.3,563.8L256.2,562.1L256.6,560.0ZM244.7,543.4L238.1,542.8L236.2,539.7L239.7,539.0ZM257.1,584.5L258.5,589.8L257.6,592.2L256.4,590.0ZM268.5,550.1L268.8,555.1L266.7,555.3L265.2,553.9ZM229.6,546.0L227.0,542.4L228.1,540.1L230.2,541.6ZM241.7,593.6L236.9,592.3L236.9,590.0L239.0,589.4ZM220.6,614.9L222.4,608.4L224.0,608.0L224.7,609.5ZM269.8,534.8L269.1,539.7L267.1,540.5L266.4,538.5ZM190.8,526.4L186.6,522.9L186.5,521.1L188.3,521.6ZM251.6,600.4L248.6,598.6L249.1,597.0L250.8,597.0ZM201.9,535.9L201.7,540.1L199.8,539.9L198.6,538.5ZM296.1,589.9L291.7,586.7L291.6,584.7L293.5,585.1ZM257.5,557.6L254.2,551.4L254.9,549.9L256.4,550.7ZM288.3,615.5L287.0,609.1L288.4,608.3L289.8,609.2ZM218.4,586.2L217.9,592.8L215.7,594.3L214.9,591.8ZM188.2,544.9L186.4,538.9L188.3,536.9L190.1,539.0ZM239.8,570.8L237.5,566.6L239.3,564.5L241.4,566.3ZM193.9,548.1L197.1,543.5L200.1,543.0L199.1,545.9ZM248.6,593.8L251.8,591.3L252.8,592.2L252.7,593.5ZM287.0,590.4L292.4,589.5L294.2,591.6L291.8,592.9ZM309.7,571.2L302.9,570.5L300.9,568.8L303.4,568.3ZM228.4,516.7L231.2,513.3L232.6,514.1L232.7,515.8ZM257.0,535.2L254.2,537.7L252.3,536.2L253.4,534.1ZM183.3,541.9L185.8,538.5L187.3,539.4L187.5,541.2ZM306.4,540.3L302.8,544.5L300.3,543.7L301.0,541.2ZM227.9,591.9L224.7,585.8L226.3,582.8L228.8,585.1ZM272.9,571.8L269.5,567.6L270.8,566.4L272.6,566.4ZM227.6,598.2L230.0,594.9L231.6,595.6L231.6,597.4ZM259.4,565.6L255.4,565.9L255.6,564.3L256.5,562.8ZM295.6,584.8L297.2,590.7L295.4,591.6L293.7,590.6ZM226.2,552.9L226.0,547.4L227.5,545.4L228.2,547.8ZM192.8,580.9L187.5,582.1L186.0,579.9L188.1,578.3ZM192.4,610.2L185.8,607.9L185.3,605.6L187.5,605.2ZM252.1,574.4L254.2,569.0L255.8,569.6L256.8,571.0ZM292.0,611.0L287.9,609.8L287.2,608.2L289.0,608.0ZM242.5,585.5L238.3,581.1L238.8,579.5L240.4,579.8ZM280.2,549.3L284.5,550.2L284.3,551.9L282.9,552.8ZM243.8,583.7L249.5,580.5L251.8,581.7L250.3,583.9ZM247.1,587.0L243.7,581.2L244.7,578.5L247.0,580.3ZM298.1,534.9L302.5,536.9L303.3,538.8L301.2,538.6ZM304.2,573.0L306.8,575.2L306.1,576.6L304.6,576.4ZM205.1,532.3L209.7,532.3L210.8,533.7L209.1,534.4ZM292.0,604.8L295.6,603.7L296.1,604.7L295.7,605.8ZM238.0,546.5L244.4,547.4L246.3,549.1L243.8,549.4ZM294.9,595.6L297.5,598.0L296.3,599.1L294.7,599.1ZM214.0,598.9L219.6,601.2L220.2,604.2L217.2,604.1ZM221.9,608.3L217.4,602.9L218.1,600.0L220.7,601.4ZM196.4,529.8L193.2,528.3L192.9,526.4L194.7,526.7ZM299.8,529.0L293.4,528.2L291.8,525.1L295.2,524.5ZM249.9,590.3L250.0,595.1L248.6,596.4L247.9,594.7ZM230.2,531.4L228.5,525.6L229.6,522.8L231.1,525.4ZM190.1,596.5L190.3,591.2L192.3,591.7L194.0,592.9ZM193.3,563.3L192.9,568.4L191.0,570.1L190.4,567.6ZM218.8,590.0L222.5,590.6L222.4,593.0L220.0,593.5ZM185.8,596.6L181.0,599.9L179.5,598.4L180.0,596.3ZM225.9,600.7L230.2,594.9L233.7,594.8L232.6,598.2ZM292.5,557.8L287.9,560.0L285.6,559.1L287.4,557.5ZM233.0,532.7L228.2,530.5L228.6,528.6L230.4,528.1ZM264.8,527.3L270.0,523.5L271.8,524.4L271.2,526.3ZM221.4,523.9L227.3,525.3L228.9,527.2L226.4,527.4ZM290.2,517.1L293.2,523.2L291.6,524.7L289.6,523.9ZM295.8,583.8L296.2,588.8L295.0,589.2L293.9,588.5ZM280.9,524.0L285.6,519.3L288.3,519.8L287.4,522.5ZM291.5,580.7L286.5,577.5L287.0,575.4L289.2,575.3ZM216.1,545.3L213.3,539.8L214.9,538.6L216.9,539.2ZM258.3,583.4L253.0,580.6L254.0,578.7L256.0,577.9ZM287.9,609.0L282.2,606.3L282.0,604.1L284.1,603.9ZM181.8,541.3L188.8,540.8L191.2,542.8L188.3,543.9ZM263.4,565.2L266.8,571.3L265.6,573.9L263.2,572.2ZM203.6,566.9L207.6,568.5L207.5,570.6L205.4,570.8ZM188.7,524.1L189.0,529.7L187.0,531.6L186.1,529.0ZM217.6,605.3L215.0,601.0L216.1,598.5L218.1,600.3ZM238.6,551.0L238.3,555.2L236.2,556.1L235.6,553.9ZM240.2,519.9L237.4,517.1L237.8,515.5L239.4,516.1ZM202.6,556.0L201.1,551.9L202.8,550.0L204.4,552.0ZM302.2,583.5L300.6,580.1L302.0,579.2L303.4,579.9ZM292.6,515.5L299.1,515.8L300.0,517.5L298.4,518.5ZM280.3,512.3L285.5,512.3L285.5,514.2L284.3,515.7ZM202.4,576.9L199.4,573.6L200.9,571.3L203.4,572.6ZM292.3,554.1L295.7,548.5L299.0,548.0L298.2,551.2ZM240.1,554.2L235.9,549.4L236.7,546.0L239.6,547.9ZM202.0,544.9L195.2,544.9L194.7,542.8L196.2,541.3ZM188.4,530.5L193.1,530.7L194.3,533.0L191.8,533.7ZM209.8,607.9L212.2,603.3L214.2,603.3L214.3,605.3ZM238.0,571.2L240.7,567.0L242.7,567.9L242.9,570.2ZM219.4,552.0L223.3,548.9L224.4,550.3L224.4,552.1ZM308.3,594.8L302.5,591.4L302.1,589.8L303.7,589.8ZM282.6,606.1L281.4,612.5L279.4,613.6L278.9,611.4ZM185.5,538.5L190.2,542.5L189.6,544.6L187.4,544.4ZM262.6,556.3L261.1,561.9L258.0,562.9L257.8,559.7ZM217.7,608.4L213.6,605.4L214.7,603.8L216.7,603.4ZM198.4,522.3L193.3,522.7L193.0,521.1L194.0,519.8ZM245.5,513.9L249.6,514.4L249.6,516.8L247.4,517.6ZM192.4,517.3L198.4,516.6L199.5,518.6L197.7,520.0ZM191.5,593.8L194.9,588.4L196.7,589.0L197.2,590.9ZM282.1,521.2L286.4,517.3L288.9,518.2L287.9,520.6ZM271.5,571.0L276.0,574.7L276.7,577.1L274.5,576.0ZM179.4,609.9L181.1,606.0L182.5,606.2L182.9,607.6ZM230.0,530.5L224.3,533.5L222.4,532.9L223.7,531.4ZM212.4,577.2L207.2,579.0L204.9,577.7L207.0,576.1ZM213.2,590.5L214.0,594.0L212.2,595.1L211.0,593.5ZM246.2,572.1L242.5,573.7L240.8,572.7L242.2,571.3ZM234.0,564.0L238.3,563.8L238.2,565.5L237.2,566.9ZM270.4,583.7L270.9,589.5L268.6,591.6L267.5,588.7ZM297.4,529.6L294.7,526.6L295.5,524.4L297.5,525.6ZM282.1,528.2L278.3,529.7L277.1,528.0L278.4,526.4ZM282.3,522.7L281.0,529.0L279.6,529.9L279.1,528.3ZM203.6,541.2L210.5,539.8L211.1,541.6L210.3,543.3ZM197.9,570.0L200.8,573.4L200.4,575.0L198.8,574.4ZM209.8,559.2L203.6,557.4L202.1,554.5L205.4,554.6ZM272.9,595.2L269.2,597.6L267.0,596.8L268.4,595.0ZM305.0,539.1L299.4,541.9L298.4,540.7L298.7,539.1ZM278.0,537.1L278.9,540.9L277.2,541.4L275.7,540.3ZM224.7,562.2L219.4,559.3L218.7,557.3L220.8,557.6ZM188.5,520.3L188.6,516.9L190.2,515.8L190.7,517.7ZM217.9,531.5L214.5,533.2L213.5,531.3L214.7,529.6ZM259.3,563.4L261.8,558.2L264.5,557.1L263.9,560.0ZM205.7,575.6L200.8,577.7L199.4,576.1L200.6,574.2ZM198.2,574.8L194.3,578.8L191.4,579.1L192.9,576.5ZM280.5,520.8L287.3,522.9L286.7,525.0L285.0,526.3ZM252.6,511.7L249.5,516.8L247.7,516.3L247.3,514.4ZM286.1,527.3L283.9,530.9L282.3,529.4L281.9,527.3ZM285.2,530.4L288.1,527.7L289.9,528.0L289.1,529.7ZM202.5,593.2L207.0,593.8L206.9,595.3L205.8,596.2ZM228.0,562.9L234.6,563.9L235.2,565.5L233.7,566.3ZM264.6,592.4L267.1,588.5L268.8,589.4L269.1,591.2ZM208.7,557.4L202.5,556.8L202.3,555.0L203.7,553.8ZM262.7,564.0L263.9,557.2L266.6,556.2L267.4,559.0ZM190.1,605.0L185.8,602.7L187.0,601.1L188.9,600.2ZM289.4,600.7L291.8,605.9L290.1,607.9L288.0,606.2ZM208.6,521.3L206.8,526.1L204.5,527.2L204.7,524.7ZM251.5,521.4L250.1,516.2L251.5,515.0L252.9,516.2ZM303.0,603.5L299.3,603.6L299.3,601.3L301.3,600.2ZM278.6,557.2L281.2,554.0L282.4,554.6L282.5,555.9ZM220.7,532.3L217.2,528.5L218.5,526.7L220.6,527.2ZM217.0,568.7L220.5,572.3L219.0,573.5L217.1,573.7ZM292.6,572.0L299.4,573.4L300.1,575.9L297.6,576.7ZM284.1,548.8L288.8,549.9L288.4,551.8L286.7,552.8ZM250.5,550.7L247.9,554.2L245.8,553.9L246.2,551.8ZM173.8,538.3L178.0,537.7L179.0,539.5L177.3,540.6ZM281.4,560.9L279.3,565.4L277.9,564.8L277.1,563.4ZM293.4,559.3L292.8,555.2L294.0,554.1L294.9,555.4ZM258.6,574.3L264.5,571.0L267.4,571.0L265.3,572.9ZM244.1,591.6L239.1,589.5L240.0,587.4L242.1,586.6ZM197.8,539.4L199.2,535.1L200.6,535.3L201.3,536.6ZM204.5,512.4L209.3,512.8L211.0,514.5L208.6,514.8ZM253.1,582.1L257.7,580.0L260.0,581.4L258.0,583.2ZM225.9,557.8L222.3,563.5L220.3,563.5L220.3,561.5ZM243.7,594.7L247.9,596.0L247.8,597.3L246.6,598.0ZM307.6,534.0L302.3,530.5L302.0,528.1L304.4,528.5ZM182.3,586.3L177.5,582.5L176.9,580.1L179.2,580.9ZM287.6,582.6L285.2,579.0L286.9,577.9L288.9,578.5ZM202.2,596.9L198.3,599.2L196.1,598.7L197.7,597.1ZM207.8,578.9L214.4,577.3L214.8,579.4L214.1,581.5ZM205.1,567.1L207.2,562.3L208.8,562.8L209.6,564.3ZM283.9,582.5L278.4,581.1L276.9,578.8L279.6,578.8ZM276.0,587.5L272.3,585.7L272.3,584.0L274.0,583.9ZM189.5,563.5L187.8,568.4L185.4,568.1L184.9,565.8ZM262.2,590.5L262.1,584.0L264.0,583.1L265.3,584.7ZM248.9,564.1L241.8,563.9L239.4,561.4L242.7,560.6ZM182.3,559.5L188.0,555.7L191.4,555.8L189.0,558.1ZM234.8,522.1L236.6,515.6L239.2,513.7L239.0,516.9ZM217.3,541.5L212.9,543.1L211.3,541.0L213.3,539.2ZM287.2,558.7L283.7,561.4L282.1,559.8L282.9,557.7ZM216.5,575.5L216.7,570.6L218.3,569.3L218.9,571.2ZM213.4,519.6L210.9,523.3L208.9,523.4L209.3,521.4ZM174.2,556.7L179.5,559.8L179.2,561.9L177.1,562.1ZM281.5,546.3L276.0,544.5L275.9,541.8L278.5,541.3ZM246.7,552.5L250.3,553.2L250.5,555.0L248.7,555.6ZM274.3,603.1L271.6,596.6L272.7,593.1L274.9,596.2ZM198.0,605.7L202.3,607.7L202.0,609.1L200.7,609.6ZM233.1,516.1L232.3,521.9L230.3,521.4L228.8,520.1ZM230.3,602.8L227.2,598.8L228.1,597.3L229.7,597.8ZM183.7,552.3L183.1,557.5L181.2,559.4L180.9,556.8ZM282.0,562.6L282.1,567.6L280.7,568.0L279.7,567.0ZM257.5,564.4L256.8,568.6L254.8,568.4L253.9,566.6ZM240.0,563.2L246.4,564.6L246.5,566.6L244.9,567.7ZM214.6,560.0L211.3,556.4L212.9,555.1L214.9,555.1ZM293.3,528.5L296.6,533.4L296.4,536.4L294.2,534.3ZM263.1,513.8L258.0,513.6L257.6,512.2L258.7,511.2ZM271.1,533.1L276.4,529.3L279.4,529.9L277.6,532.3ZM185.4,554.7L182.7,558.4L180.9,558.6L181.3,556.9ZM249.8,598.9L249.6,595.3L251.0,594.1L251.7,595.9ZM301.5,540.7L308.5,541.2L311.2,543.8L307.5,544.4ZM285.4,509.5L282.2,514.5L279.8,515.0L280.3,512.6ZM198.5,588.5L191.8,587.0L189.4,584.6L192.8,584.7ZM275.3,544.2L282.0,545.5L283.2,548.4L280.2,549.0ZM226.6,589.9L231.2,589.0L231.4,590.4L230.9,591.7ZM212.6,540.3L209.1,536.6L209.8,534.4L211.9,535.3ZM246.2,544.9L248.6,548.7L247.8,550.3L246.3,549.4ZM234.6,586.7L241.4,587.4L243.1,590.1L240.0,590.9ZM292.1,595.3L290.6,599.9L288.5,600.2L288.1,598.2ZM233.0,587.6L238.6,583.8L240.5,585.1L239.8,587.3ZM247.0,560.3L241.5,561.3L240.7,559.9L241.7,558.7ZM182.0,553.8L177.0,557.4L175.2,556.9L176.0,555.2ZM226.4,530.1L225.0,524.3L226.2,523.4L227.4,524.2ZM303.1,517.0L301.7,512.5L303.7,512.3L305.7,513.1ZM270.5,560.8L275.4,559.1L275.8,561.1L275.2,563.0ZM263.0,582.9L266.9,582.7L267.6,584.4L266.1,585.3ZM199.0,554.5L194.9,552.1L194.8,549.3L197.4,550.0Z" fill="#6230c4"/>
<path d="M261.4,556.0L262.8,562.0L261.0,562.9L259.2,561.8ZM260.2,543.1L254.3,545.7L251.9,544.0L253.9,541.9ZM246.4,522.8L245.1,529.6L242.8,529.5L241.5,527.6ZM203.0,539.2L202.7,545.9L201.3,548.3L200.7,545.6ZM180.8,543.1L186.4,540.8L187.5,541.7L186.9,543.0ZM274.8,592.4L278.7,595.5L278.3,597.4L276.4,597.1ZM191.0,609.7L185.8,614.1L183.1,613.5L184.3,611.0ZM202.4,563.6L195.8,564.4L193.6,562.9L196.0,561.8ZM234.0,552.7L235.7,547.3L237.6,547.7L238.6,549.4ZM253.3,563.9L259.8,566.4L261.4,569.7L257.7,569.3ZM253.3,553.3L249.4,558.2L247.6,556.9L247.2,554.8ZM174.7,526.0L176.2,521.6L178.2,521.7L178.7,523.6ZM281.1,589.4L280.0,594.0L278.1,595.0L277.9,592.9ZM248.6,582.8L250.0,586.9L247.8,587.7L246.0,586.3ZM275.2,593.4L272.2,597.0L270.2,596.1L270.5,593.8ZM188.5,579.6L187.8,573.8L189.7,572.0L190.9,574.3ZM234.9,595.2L229.6,591.5L230.6,589.5L232.7,589.2ZM279.6,545.1L285.3,541.3L287.2,541.7L286.1,543.3ZM219.5,547.2L224.7,547.0L225.0,548.2L224.3,549.2ZM249.4,554.2L254.7,555.2L255.2,556.8L253.6,557.5ZM213.3,607.6L218.0,606.2L219.1,607.5L218.1,608.8ZM203.4,530.8L202.4,534.5L201.1,534.0L200.2,532.9ZM278.1,537.6L274.4,538.6L273.8,536.5L275.4,534.9ZM254.8,575.7L249.5,572.0L248.4,569.1L251.2,570.3ZM269.6,600.9L264.6,599.5L265.1,598.0L266.3,596.9ZM223.5,601.2L221.5,595.6L223.1,593.7L224.8,595.4ZM206.7,507.9L205.5,514.6L203.8,516.4L203.5,513.9ZM250.0,583.6L251.1,580.3L253.0,580.0L253.0,581.9ZM290.5,541.7L284.2,539.8L284.4,537.6L286.4,536.6ZM210.3,555.2L206.0,550.0L205.7,547.1L208.1,548.9ZM178.9,605.7L179.0,609.7L177.1,609.1L175.5,607.8ZM308.5,583.3L305.7,586.5L304.6,584.9L304.2,583.0ZM256.1,518.9L254.0,522.9L251.9,522.1L251.7,519.9ZM184.6,575.1L181.4,569.1L181.5,566.3L183.4,568.4ZM292.6,592.6L296.8,590.0L298.1,590.8L297.5,592.1ZM240.0,540.6L245.9,543.6L245.4,545.6L243.4,546.2ZM193.1,585.0L190.4,579.0L191.3,577.7L192.8,578.4ZM310.4,531.9L304.1,531.2L302.7,529.4L304.9,528.8ZM288.5,595.4L290.1,600.6L288.5,601.1L287.0,600.6ZM246.6,567.7L243.7,570.3L242.6,569.0L242.8,567.3ZM220.7,533.0L226.9,532.8L227.8,534.0L226.6,534.9ZM278.0,594.1L278.9,587.5L280.1,586.9L280.9,588.1ZM218.1,563.7L213.5,562.3L212.6,559.8L215.3,559.9ZM174.4,555.6L178.4,560.6L177.7,561.6L176.5,561.6ZM283.7,577.7L285.4,583.0L284.1,585.7L282.5,583.1ZM191.3,570.8L195.7,565.7L198.5,565.3L197.3,567.9ZM253.6,568.4L248.5,565.4L249.1,563.2L251.4,562.9ZM197.8,531.7L201.8,530.9L202.8,531.9L201.8,532.9ZM224.5,542.2L221.9,536.7L223.3,535.8L224.9,536.1ZM177.0,530.4L180.2,536.6L179.6,538.1L178.2,537.3ZM299.6,522.7L296.5,527.9L294.5,528.4L294.8,526.3ZM261.0,523.8L260.1,519.7L261.3,518.3L262.3,519.8ZM232.0,570.5L234.6,565.2L236.9,564.9L236.9,567.1ZM199.1,557.1L193.6,559.9L191.0,559.2L192.9,557.3ZM283.3,538.8L282.9,545.0L281.4,546.6L280.7,544.5ZM185.6,524.5L182.0,523.4L182.4,522.0L183.7,521.3ZM230.5,540.8L234.3,546.7L234.6,549.9L232.4,547.6ZM253.5,598.1L247.7,595.1L246.9,593.2L248.9,593.4ZM197.1,524.8L200.6,524.2L200.5,525.9L199.6,527.4ZM248.7,542.4L249.7,536.3L251.7,535.2L252.3,537.4ZM216.4,607.1L222.4,604.0L225.9,604.4L223.1,606.5ZM263.8,542.3L257.7,544.3L256.2,543.4L257.4,542.1ZM301.6,537.8L305.4,535.0L307.1,536.2L306.3,538.1ZM296.2,521.9L294.6,517.3L296.2,516.6L297.8,517.3ZM186.4,522.7L182.8,520.5L183.7,519.2L185.2,518.7ZM221.8,600.7L222.5,605.0L220.4,605.1L218.7,603.9ZM296.3,602.8L301.7,600.0L303.1,601.0L302.4,602.5ZM288.5,571.0L288.0,566.1L290.3,564.4L291.5,567.1ZM286.9,584.5L292.1,582.7L293.7,584.9L291.8,586.9ZM304.6,526.7L301.1,525.2L301.1,523.9L302.4,523.6ZM302.0,516.9L303.9,513.6L306.0,514.1L305.7,516.3ZM196.8,518.2L200.1,516.9L201.4,518.6L199.9,520.0ZM209.1,554.0L212.5,550.7L213.6,551.5L213.6,552.8ZM203.2,545.9L207.1,547.3L207.1,548.8L205.7,549.3ZM198.3,551.5L199.0,545.1L200.5,544.7L201.5,545.9ZM192.3,549.8L192.5,555.9L190.3,557.2L189.1,555.0ZM250.2,537.1L251.7,541.9L249.7,543.0L247.9,541.6ZM179.2,535.6L177.3,532.0L178.9,531.3L180.5,531.7ZM304.5,533.9L305.9,538.5L304.8,539.8L303.5,538.5ZM234.7,584.5L230.4,588.2L227.6,587.7L229.1,585.3ZM255.4,614.0L251.7,611.2L252.0,609.9L253.4,609.9ZM307.8,551.4L303.6,548.3L303.6,546.4L305.5,546.7ZM258.2,516.5L264.0,513.1L266.3,513.9L264.9,515.9ZM283.1,592.5L279.3,590.2L280.1,587.8L282.7,588.0ZM283.0,527.2L280.4,522.5L282.0,520.4L284.1,522.0ZM208.0,524.6L202.6,528.6L199.7,527.6L201.3,524.9ZM260.7,595.5L265.2,597.8L264.9,600.5L262.2,600.3ZM183.1,597.6L178.6,600.9L176.8,599.5L177.6,597.3ZM254.1,552.6L248.3,549.8L248.6,548.5L249.8,547.9ZM277.4,526.2L274.9,528.7L273.9,527.4L273.9,525.7ZM290.4,546.4L294.7,540.6L298.0,540.7L297.1,543.9ZM203.2,547.3L200.7,544.2L202.4,542.5L204.6,543.6ZM288.3,569.5L285.5,574.0L284.2,573.6L283.8,572.3ZM203.2,610.7L201.4,604.0L203.1,601.8L204.8,603.9ZM244.3,608.2L245.9,603.5L248.1,603.9L248.8,606.1ZM204.3,603.0L198.4,603.1L196.3,601.5L198.9,600.7ZM297.4,537.8L299.8,534.6L301.5,535.5L301.5,537.4ZM259.4,569.1L255.3,573.1L252.5,573.3L254.0,570.8ZM245.4,584.8L239.0,582.3L238.1,579.1L241.4,579.3ZM176.7,536.4L175.3,532.8L177.0,532.0L178.6,533.0ZM293.7,527.2L298.3,528.5L297.8,530.0L296.5,531.1ZM186.7,605.6L191.3,604.3L192.6,605.8L191.2,607.2ZM215.9,562.7L217.1,567.9L215.1,568.9L213.4,567.4ZM293.0,551.9L291.1,556.0L288.8,555.7L288.7,553.4ZM297.8,601.2L300.6,595.3L303.0,593.9L302.4,596.6ZM192.9,527.1L194.2,520.5L196.2,520.0L197.1,521.8ZM246.6,575.2L248.0,569.8L250.2,569.7L251.0,571.8ZM242.0,546.2L241.3,553.2L238.1,555.3L237.4,551.6ZM236.1,546.8L236.9,542.9L238.9,543.2L239.7,545.0ZM200.0,544.8L206.5,541.8L207.7,543.5L207.1,545.6ZM256.4,605.3L256.9,600.2L258.2,599.7L258.9,600.9ZM197.0,595.3L194.9,600.4L193.4,600.9L193.2,599.3ZM225.2,553.2L228.3,550.7L230.3,551.7L229.1,553.6ZM191.9,617.9L190.9,611.0L191.9,610.0L192.9,611.1ZM201.5,519.3L205.1,524.4L204.8,527.6L202.4,525.5ZM293.2,529.5L290.3,532.0L288.9,530.2L289.7,528.1ZM206.5,529.4L209.6,525.7L211.0,525.9L210.8,527.4ZM262.9,564.1L259.1,560.0L259.2,557.6L261.3,558.8ZM275.0,513.3L279.7,516.1L279.2,517.8L277.5,518.1ZM219.8,592.1L222.7,594.3L221.8,596.2L219.7,595.8ZM221.1,576.5L223.4,573.3L224.8,574.2L225.0,575.8ZM206.8,539.6L202.2,535.9L201.5,532.8L204.4,534.2ZM302.4,544.5L305.2,541.9L306.5,543.1L306.2,544.8ZM227.4,539.6L223.2,539.2L221.8,537.3L224.2,536.9ZM225.8,511.2L229.2,516.2L228.1,517.4L226.6,517.2ZM193.4,602.0L197.2,600.5L198.3,602.2L197.1,603.8ZM257.5,523.3L253.3,525.5L251.0,524.3L252.8,522.4ZM293.3,519.8L291.8,526.1L289.3,528.2L289.4,524.9ZM269.8,595.5L275.5,592.7L277.3,594.0L276.2,595.9ZM255.6,533.4L251.2,528.6L252.2,526.8L254.2,527.0ZM246.1,532.7L247.2,536.6L245.0,537.7L243.4,535.7ZM186.1,515.5L187.2,521.3L185.1,522.4L183.4,520.7ZM222.7,559.5L226.3,560.9L226.1,562.1L224.9,562.6ZM293.2,565.6L289.0,564.8L288.4,563.4L289.9,562.9ZM265.6,589.3L269.3,588.3L270.0,589.4L269.3,590.4ZM278.5,542.4L275.9,547.1L273.1,546.9L273.4,544.2ZM294.9,598.3L295.6,594.5L298.1,594.2L298.5,596.7ZM197.4,564.7L190.4,565.2L188.4,563.5L190.8,562.4ZM259.5,522.1L260.5,517.6L263.0,517.1L263.4,519.6ZM221.6,604.5L226.1,606.0L227.1,608.1L224.8,608.0ZM269.8,528.6L265.4,524.4L264.6,521.6L267.1,523.2ZM176.0,538.5L175.3,532.9L177.6,530.8L178.9,533.6ZM288.0,589.4L286.5,586.1L288.1,585.0L289.7,586.2ZM208.7,520.4L214.2,518.2L215.6,520.3L214.3,522.3ZM229.6,516.7L231.9,522.7L230.1,524.2L228.1,522.9ZM278.4,604.7L273.3,600.5L273.9,598.6L275.9,598.6ZM184.7,581.3L182.9,576.8L183.9,576.3L185.0,576.5ZM274.5,514.6L280.1,517.9L279.6,520.4L277.0,520.6ZM245.2,553.3L239.5,557.7L235.8,557.6L238.1,554.7ZM309.5,563.1L304.1,566.5L302.7,564.8L303.2,562.6ZM292.4,575.0L288.9,576.7L288.1,574.6L289.3,572.6ZM260.6,577.8L264.9,580.7L263.8,582.4L261.8,582.8ZM265.9,550.7L272.4,551.8L274.6,554.8L271.0,555.0ZM248.7,579.2L252.9,583.9L252.9,586.5L250.6,585.2ZM236.9,595.3L243.8,595.2L246.2,597.5L242.9,598.6ZM301.1,538.1L297.7,542.7L296.5,542.0L296.0,540.6ZM185.2,582.4L184.4,586.2L182.9,586.6L182.5,585.1ZM243.8,592.3L244.9,587.9L246.9,588.6L248.0,590.5ZM241.4,603.4L234.8,605.7L233.9,604.6L234.4,603.3ZM183.5,605.7L185.5,601.9L187.1,603.1L187.7,604.9ZM209.6,608.9L206.1,604.7L207.3,602.7L209.4,603.4ZM247.2,597.0L251.1,594.5L252.7,595.9L251.7,597.8ZM256.9,596.9L254.6,600.7L253.5,600.2L253.1,599.1ZM177.6,586.8L181.9,587.9L181.4,590.2L179.3,590.9ZM193.3,540.9L196.2,543.5L195.4,545.4L193.5,544.8ZM269.8,512.4L274.4,511.4L274.6,513.2L273.9,514.8ZM246.1,580.4L240.6,581.2L239.0,579.2L241.2,577.8ZM209.8,527.9L210.4,534.9L209.1,535.4L207.9,534.6ZM227.9,519.6L222.7,520.1L221.6,518.9L222.9,518.0ZM204.8,614.1L206.8,609.8L208.2,610.4L208.9,611.7ZM213.0,528.8L214.8,534.6L213.3,535.2L211.8,534.7ZM193.8,590.5L191.4,595.3L189.5,595.1L189.2,593.2ZM178.0,590.0L181.3,593.1L179.9,594.3L178.1,594.5ZM303.0,593.5L297.0,597.1L294.4,596.3L296.0,594.1ZM189.7,561.7L184.1,558.1L184.1,556.1L186.1,556.1ZM261.3,536.0L258.3,532.2L259.4,531.1L260.9,531.2ZM264.5,523.6L265.3,527.4L263.9,527.8L262.6,527.0ZM294.8,607.8L291.2,612.5L288.3,612.4L289.2,609.6ZM237.8,571.4L236.8,576.2L235.0,576.7L234.4,574.9ZM234.2,566.3L237.6,564.8L238.6,566.9L237.1,568.7ZM292.2,522.8L289.2,518.8L290.7,517.2L292.8,517.8ZM236.2,572.7L230.4,570.1L230.6,568.1L232.6,567.5ZM257.8,518.7L254.0,513.7L254.7,511.7L256.7,512.5ZM262.9,592.6L264.4,587.3L266.9,585.9L266.9,588.7ZM196.8,511.0L195.3,514.6L193.4,514.5L193.3,512.6ZM307.5,574.9L305.4,569.1L306.7,567.2L308.3,568.8ZM208.1,569.4L211.4,574.8L210.2,577.7L207.7,575.7ZM296.9,523.6L294.0,527.4L292.4,527.0L292.4,525.3ZM293.6,521.8L296.0,516.1L299.3,515.3L299.0,518.7ZM211.0,563.6L209.6,557.9L211.3,557.2L212.9,558.1ZM208.8,514.9L207.8,519.4L205.5,519.8L205.0,517.5ZM256.0,588.2L255.1,592.9L252.5,593.1L251.9,590.6ZM193.0,606.7L190.3,600.6L191.4,597.4L193.5,600.0ZM240.3,593.2L245.0,594.9L245.1,596.3L243.8,596.8ZM300.1,528.5L303.6,530.4L303.1,532.7L300.7,532.4ZM226.2,531.7L224.2,536.2L222.5,535.3L221.6,533.5ZM224.7,603.8L231.0,605.8L231.9,607.5L229.9,607.8ZM195.0,517.0L196.4,520.2L195.1,521.6L193.8,520.3ZM212.4,612.7L206.1,611.8L205.8,609.6L207.7,608.5ZM304.6,558.0L297.7,556.3L296.1,553.0L299.8,552.8ZM196.3,565.5L192.5,562.4L192.8,560.6L194.6,560.9ZM201.6,576.8L201.7,572.8L203.6,572.6L204.6,574.2ZM215.4,581.4L218.3,577.4L220.0,578.9L220.3,581.1ZM275.3,547.5L281.4,545.1L284.6,546.3L281.8,548.2ZM204.3,522.7L199.5,519.8L199.3,517.7L201.4,517.9ZM231.8,542.3L226.6,539.6L226.0,537.4L228.2,537.6ZM281.0,543.6L280.5,537.9L281.8,536.1L282.7,538.2ZM244.3,612.2L237.7,610.0L236.5,607.1L239.7,607.0ZM251.6,609.5L256.4,604.2L258.4,605.4L258.4,607.6ZM256.8,552.7L258.8,547.0L260.1,547.0L260.8,548.1ZM203.0,596.2L207.5,600.3L207.8,602.6L205.6,601.7ZM202.8,520.2L196.3,522.4L194.9,521.2L195.9,519.7ZM223.3,600.7L219.5,597.7L219.8,596.5L221.1,596.4ZM242.8,545.8L235.7,546.5L234.5,544.7L236.2,543.2ZM223.9,519.1L222.3,525.5L220.1,526.5L219.6,524.2ZM204.6,528.3L200.9,526.0L201.9,524.2L204.0,524.0ZM185.7,555.5L192.4,555.5L193.3,557.9L191.2,559.4ZM264.4,511.7L261.9,516.2L259.0,516.0L259.5,513.1ZM191.1,546.8L193.8,541.1L195.6,540.7L195.7,542.6ZM196.3,533.8L199.0,528.9L201.2,529.7L201.6,532.0ZM212.9,531.4L216.7,530.1L218.0,532.2L216.1,533.7ZM285.9,604.3L279.9,600.9L279.4,597.9L282.4,598.4ZM286.3,537.6L292.2,537.4L292.7,538.6L291.9,539.6ZM197.8,566.3L200.0,570.1L198.2,571.0L196.4,570.4ZM253.7,603.9L249.7,600.6L250.6,599.4L252.1,598.9ZM225.5,571.7L221.8,570.3L221.8,568.4L223.6,568.3ZM290.1,518.9L294.8,517.7L296.6,518.7L294.9,519.8ZM217.1,520.9L221.7,516.0L223.4,516.7L223.4,518.5ZM212.7,542.2L219.0,539.1L220.3,540.7L219.7,542.6ZM213.8,577.5L209.8,576.9L210.2,575.6L211.2,574.5ZM302.6,604.9L296.5,604.4L296.3,603.0L297.2,602.0ZM189.2,560.2L184.3,561.1L182.6,559.4L184.6,558.2ZM260.2,607.2L261.6,601.9L264.5,600.9L264.6,604.0ZM291.3,538.9L297.2,536.1L298.2,537.8L297.8,539.8ZM221.5,541.5L222.1,545.7L220.1,545.9L218.6,544.5ZM220.3,542.4L224.9,542.6L226.5,544.4L224.1,545.0ZM292.8,543.3L293.2,548.9L291.1,549.8L289.7,548.0ZM279.1,581.0L277.1,585.5L274.7,586.1L274.9,583.6ZM292.2,598.1L295.2,601.8L293.7,603.8L291.4,602.7ZM183.5,543.4L178.8,539.6L179.0,538.2L180.5,538.2ZM209.3,578.1L214.5,577.9L216.2,579.9L213.7,580.8ZM221.9,601.7L221.6,597.0L223.8,596.8L225.2,598.5ZM253.2,593.2L254.9,599.0L253.2,601.2L251.4,599.0ZM247.6,558.6L246.1,553.1L248.0,552.5L249.9,553.3ZM273.5,592.1L274.0,588.0L275.9,587.9L276.8,589.6ZM259.0,614.0L254.5,609.8L255.5,608.0L257.5,608.0ZM194.7,575.3L195.8,571.6L198.1,572.4L198.5,574.7ZM284.8,520.3L279.2,522.4L278.3,521.4L278.8,520.3ZM235.4,598.5L233.0,600.9L231.6,600.0L232.0,598.4ZM248.3,511.1L253.7,513.2L254.7,516.3L251.5,515.9ZM218.1,584.8L222.7,585.1L222.8,586.5L221.7,587.6ZM209.0,588.6L210.7,592.3L209.6,593.8L208.3,592.6ZM207.7,532.9L211.7,531.3L212.9,532.7L211.8,534.3ZM262.9,564.1L260.3,568.7L258.1,569.6L258.6,567.2ZM272.8,573.9L275.4,569.5L276.8,570.7L277.6,572.3ZM306.9,597.6L300.6,595.4L299.0,593.3L301.6,593.4ZM296.6,591.7L301.2,588.6L303.2,590.2L302.2,592.5ZM258.2,538.8L255.5,536.0L257.3,534.8L259.4,535.1ZM216.3,552.7L223.0,553.6L225.1,556.5L221.5,556.9ZM220.4,569.6L221.1,563.8L223.3,563.8L224.7,565.6ZM205.2,609.9L202.3,606.2L203.3,605.0L204.9,605.3ZM306.0,533.4L302.0,531.7L302.6,529.5L304.9,529.2ZM272.6,519.7L270.1,522.8L268.1,521.5L268.6,519.2ZM194.6,534.1L188.7,531.5L188.9,530.0L190.3,529.3ZM193.3,578.8L197.8,580.3L196.9,582.1L195.3,583.2ZM271.9,525.4L271.9,529.5L270.0,530.1L269.1,528.4ZM302.3,544.5L300.7,539.1L301.9,538.5L303.1,538.9ZM236.0,592.0L239.5,598.2L238.6,601.1L236.2,599.1ZM177.8,508.4L180.6,514.1L179.2,515.5L177.3,514.7ZM268.9,510.7L273.6,513.5L274.0,516.4L271.1,515.7ZM225.6,552.8L230.9,549.0L233.1,549.8L232.1,551.9ZM264.9,591.3L268.4,588.8L269.9,590.8L268.8,593.0ZM255.0,580.8L256.7,586.4L254.6,587.1L252.6,586.2ZM224.3,547.3L230.7,548.3L232.6,550.7L229.6,551.1ZM191.7,582.6L196.4,579.5L197.3,580.8L197.4,582.4ZM282.5,514.7L284.6,517.9L283.0,519.4L281.0,518.2ZM238.3,551.2L232.4,553.6L230.0,552.0L232.0,549.9ZM298.6,541.6L303.7,541.7L305.7,543.3L303.2,543.8ZM218.3,563.3L214.5,568.2L213.3,567.5L212.9,566.2ZM242.1,514.3L241.6,520.7L239.5,520.9L238.1,519.3ZM248.7,589.5L248.6,585.4L250.7,584.3L251.5,586.5ZM260.6,577.2L258.6,573.0L260.4,572.3L262.2,572.8ZM283.3,613.9L284.2,607.7L287.5,606.0L287.9,609.6ZM192.0,548.0L189.7,550.8L188.6,549.3L188.5,547.5ZM177.9,528.0L178.8,524.8L180.1,524.7L180.5,525.9ZM291.0,576.3L286.4,575.9L285.2,574.3L287.1,573.8ZM241.1,594.8L242.5,588.0L243.8,587.4L244.4,588.7ZM249.5,589.6L251.5,586.9L253.1,587.1L252.7,588.7ZM245.0,529.1L249.5,523.6L251.1,524.6L251.6,526.3ZM265.5,608.6L270.5,610.8L270.6,612.8L268.6,613.0ZM307.2,577.5L304.2,579.4L302.9,578.0L303.8,576.4ZM259.2,519.2L253.8,520.0L253.2,517.8L254.7,516.2ZM184.6,576.5L188.3,570.8L191.0,569.9L190.2,572.6ZM182.4,533.3L178.2,536.4L176.5,534.8L177.2,532.5ZM219.6,603.1L218.3,598.2L220.5,597.8L222.4,598.8ZM188.7,531.0L194.1,532.9L194.5,535.2L192.2,535.5ZM196.0,558.2L199.3,562.7L198.5,565.3L196.2,563.8ZM228.1,596.9L222.9,598.1L221.7,596.3L223.2,594.7ZM266.7,521.7L262.9,524.2L261.3,523.2L262.2,521.5ZM262.5,602.8L261.4,606.5L259.8,606.5L259.3,605.0ZM214.8,586.8L212.6,590.6L210.9,590.2L210.7,588.4ZM295.2,517.2L291.6,518.4L291.7,516.5L292.4,514.6ZM245.0,562.1L239.5,558.7L239.5,557.3L241.0,557.1ZM214.0,582.6L209.9,582.6L210.0,580.4L211.8,579.1ZM305.8,573.6L307.8,579.9L306.6,583.1L304.9,580.2ZM214.3,578.0L217.5,581.4L216.9,582.8L215.4,582.5ZM296.2,587.2L298.2,590.4L297.3,591.5L296.0,591.0ZM301.1,511.2L305.6,512.2L306.1,514.8L303.6,515.1ZM240.1,552.3L235.3,554.7L232.8,554.2L234.7,552.6ZM218.6,558.9L225.2,556.2L227.7,557.4L225.7,559.3ZM269.7,606.9L267.0,609.0L265.7,607.7L266.4,605.9ZM213.3,535.0L216.1,539.7L214.7,541.1L212.8,540.4ZM186.9,589.2L182.9,589.3L182.4,588.0L183.5,587.2ZM282.4,525.8L286.0,528.5L285.0,530.4L282.8,530.3ZM204.6,521.5L206.3,526.1L205.4,527.2L204.3,526.4ZM225.8,591.4L220.7,586.7L221.8,585.3L223.6,584.9ZM236.4,554.6L239.8,552.0L241.2,552.9L240.7,554.4ZM200.4,541.4L205.3,539.8L206.8,541.6L205.2,543.3ZM220.4,605.2L227.5,604.5L230.1,606.9L226.8,608.4ZM185.6,543.2L189.1,538.9L190.8,539.1L190.6,540.8ZM258.5,526.1L261.1,529.9L260.3,531.3L258.8,530.7ZM231.1,588.3L231.8,581.6L234.4,580.3L235.4,583.1ZM290.5,519.2L292.6,512.8L295.2,512.8L295.9,515.3ZM278.0,522.0L281.0,524.5L279.8,526.7L277.5,525.8ZM260.0,552.0L258.2,548.7L260.2,547.1L262.1,548.8ZM243.0,600.8L242.8,595.4L244.7,593.3L245.6,596.1ZM233.1,558.2L232.7,564.2L230.6,566.0L230.0,563.3ZM310.2,546.4L305.2,549.2L302.7,547.9L304.4,545.8ZM206.8,571.1L204.5,576.7L202.7,576.8L202.2,575.0ZM205.2,559.7L206.4,564.0L205.0,565.1L203.7,563.9ZM268.5,563.4L273.4,561.0L276.1,561.4L273.9,563.1ZM292.9,551.9L286.6,552.0L285.7,550.2L287.3,548.9ZM253.9,564.0L254.3,558.6L255.7,558.2L256.6,559.4ZM254.5,592.7L248.1,592.8L245.9,590.5L248.9,589.6ZM185.1,521.8L188.2,524.4L187.4,526.4L185.3,525.9ZM234.8,551.7L233.6,547.3L234.6,545.2L235.7,547.2ZM195.4,526.1L195.2,530.5L193.9,530.4L192.8,529.7ZM222.1,544.9L227.0,540.9L228.3,542.5L228.4,544.6ZM296.4,592.0L300.4,588.7L301.6,589.5L301.4,590.8ZM200.5,594.5L206.0,598.2L206.7,601.5L203.5,600.4ZM270.0,577.1L270.8,572.2L272.9,571.3L273.4,573.5ZM230.4,560.0L229.0,563.7L227.6,563.2L227.0,561.9Z" fill="#5226b2"/>
<path d="M220.6,568.8L223.8,565.3L225.1,566.6L225.3,568.5ZM306.1,580.6L303.9,584.0L302.8,583.5L302.4,582.3ZM235.5,564.2L236.1,568.3L234.0,569.7L232.9,567.4ZM177.1,588.7L181.8,592.6L180.8,594.4L178.7,594.6ZM259.1,575.7L255.8,574.5L255.6,572.5L257.6,572.5ZM241.4,578.2L236.9,578.1L236.8,575.8L238.7,574.5ZM291.4,581.5L296.8,578.2L299.3,579.5L297.7,581.8ZM296.9,540.2L299.6,534.2L302.2,534.3L302.6,537.0ZM243.6,525.8L239.2,525.0L237.7,523.3L239.9,523.1ZM255.3,607.2L254.2,603.2L256.0,601.5L257.3,603.5ZM255.2,507.8L255.8,513.9L254.1,516.4L253.1,513.6ZM274.4,557.8L273.4,554.3L274.8,553.0L276.0,554.5ZM263.4,589.0L257.8,589.9L256.2,588.4L258.0,587.1ZM209.9,573.1L214.2,573.7L215.0,575.3L213.2,575.9ZM266.7,590.6L263.3,591.7L262.2,590.1L263.6,588.8ZM203.3,586.8L200.5,583.7L202.2,582.0L204.5,582.8ZM277.4,554.1L277.6,558.9L276.1,560.1L275.3,558.4ZM180.6,560.9L184.4,559.5L185.8,561.4L184.1,563.0ZM286.6,601.2L283.5,594.9L285.2,592.5L287.5,594.2ZM202.2,538.2L205.6,540.2L204.6,541.3L203.1,542.0ZM235.7,570.8L230.3,575.1L229.2,574.3L229.1,572.9ZM211.0,563.5L208.4,558.2L209.4,555.8L211.3,557.7ZM176.7,546.5L180.4,552.6L178.9,555.3L176.3,553.6ZM288.2,601.5L287.4,607.6L284.8,608.5L283.9,605.9ZM239.0,568.1L239.0,562.5L241.5,561.5L242.7,564.0ZM284.4,590.0L283.7,586.2L285.5,585.4L286.7,586.9ZM175.1,575.4L181.4,572.2L184.5,573.5L182.2,575.9ZM281.7,598.1L287.5,598.0L287.9,599.5L286.8,600.7ZM225.7,532.7L220.9,532.3L219.7,529.8L222.5,529.2ZM274.0,535.5L267.4,533.4L264.9,530.8L268.4,531.4ZM263.5,565.6L265.6,562.3L267.2,562.6L267.2,564.3ZM275.2,570.6L272.6,575.2L270.6,575.3L270.6,573.3ZM184.2,580.4L186.5,586.9L185.1,589.2L183.2,587.2ZM175.6,565.2L181.7,566.9L182.3,569.8L179.4,570.3ZM224.0,538.5L220.4,538.4L220.4,537.1L221.3,536.2ZM194.3,532.3L200.5,534.0L201.4,536.2L199.1,536.6ZM207.3,541.9L212.2,543.8L211.7,545.8L209.9,546.5ZM294.1,548.7L296.6,544.8L298.7,544.6L298.3,546.7ZM257.2,586.3L261.7,589.8L260.8,592.0L258.4,591.9ZM229.3,542.9L225.2,547.7L222.5,547.9L223.5,545.4ZM248.5,575.4L253.4,577.0L254.1,579.9L251.1,579.9ZM228.1,570.7L229.7,565.8L231.0,565.7L231.6,566.9ZM292.5,569.9L298.2,570.0L299.8,571.6L297.7,572.3ZM247.4,513.0L244.0,515.1L243.1,513.6L243.6,511.9ZM300.2,533.5L295.7,529.7L295.4,527.4L297.5,528.2ZM250.0,543.7L248.1,548.1L245.8,547.8L245.6,545.5ZM285.4,611.4L281.5,609.7L281.1,607.5L283.4,607.7ZM294.6,596.3L290.0,591.8L291.3,590.2L293.4,590.0ZM200.5,520.7L197.6,517.1L198.3,515.5L200.0,516.1ZM257.5,554.6L252.3,553.5L252.0,551.0L254.4,550.3ZM187.2,521.6L190.5,519.4L192.3,520.1L191.2,521.6ZM301.6,602.9L304.8,597.2L307.9,596.6L307.3,599.7ZM310.8,557.3L304.7,555.4L303.7,552.1L307.1,552.1ZM221.6,552.1L224.5,546.9L226.2,547.3L226.6,549.0ZM282.8,536.4L286.7,534.8L288.7,536.1L286.8,537.6ZM233.5,538.6L229.6,543.0L228.0,541.5L227.6,539.4ZM245.9,613.2L243.9,610.0L244.7,608.1L246.2,609.5ZM211.8,525.8L215.2,524.3L215.6,525.5L215.4,526.8ZM189.7,569.3L190.1,565.2L192.1,566.0L193.5,567.6ZM209.0,537.8L211.0,534.8L213.0,535.5L212.6,537.6ZM221.3,544.5L222.8,547.7L221.5,549.3L220.0,547.8ZM285.2,515.4L278.7,515.3L276.3,513.4L279.3,512.7ZM259.2,524.5L255.5,529.2L252.5,529.7L253.7,526.9ZM173.3,610.1L177.1,607.5L178.6,609.4L177.7,611.5ZM215.0,616.9L211.2,611.0L212.4,609.2L214.5,609.9ZM256.6,593.9L252.6,597.9L250.4,597.8L251.3,595.8ZM224.1,538.2L226.6,534.0L228.2,535.0L228.8,536.9ZM216.1,578.3L212.0,582.2L210.4,581.3L210.6,579.4ZM198.7,569.2L200.7,566.3L201.8,567.2L202.1,568.5ZM225.6,591.2L226.9,595.6L225.6,596.1L224.4,595.6ZM215.8,565.2L211.3,560.5L212.5,558.9L214.6,558.8ZM260.2,595.5L260.7,599.3L259.4,599.5L258.2,598.9ZM199.7,550.7L195.9,553.1L194.5,552.2L195.2,550.6ZM219.7,615.6L220.4,608.6L222.1,606.6L222.5,609.2ZM217.2,556.8L220.0,553.2L221.7,553.1L221.3,554.8ZM222.9,591.6L222.9,585.7L224.6,583.6L225.2,586.2ZM205.2,528.8L208.9,528.9L208.7,530.3L207.9,531.3ZM266.3,533.4L262.2,536.3L261.0,534.7L261.3,532.7ZM261.2,528.5L264.2,525.3L265.2,525.8L265.3,527.0ZM202.0,540.8L199.8,536.0L201.1,533.9L202.9,535.6ZM194.7,541.7L196.4,537.1L198.4,536.7L198.7,538.8ZM273.2,608.8L267.2,607.2L266.9,605.8L268.2,605.1ZM289.1,533.3L293.4,528.2L296.9,528.0L295.4,531.1ZM233.8,540.0L230.4,545.7L227.9,546.8L228.6,544.2ZM231.9,601.9L236.2,597.5L238.1,597.8L237.6,599.8ZM252.6,560.5L250.8,566.8L249.0,567.9L248.8,565.8ZM232.2,590.5L237.5,590.6L237.7,591.7L237.0,592.6ZM184.0,595.1L188.5,598.3L188.1,600.0L186.4,600.1ZM234.3,598.6L233.1,593.3L235.1,590.9L236.6,593.7ZM209.6,575.6L215.4,573.8L218.0,575.5L215.5,577.2ZM213.3,518.9L217.2,514.8L219.5,514.8L218.6,516.9ZM297.4,580.4L290.4,580.6L289.2,578.7L291.1,577.5ZM196.5,520.1L190.8,518.1L190.1,515.4L192.9,515.3ZM273.3,599.6L277.0,600.6L277.1,601.9L276.0,602.4ZM274.8,583.0L270.8,579.2L271.0,577.5L272.6,578.0ZM256.8,516.1L252.4,520.1L249.1,519.8L250.9,517.1ZM188.0,603.9L189.3,610.6L188.3,612.0L187.3,610.7ZM194.1,567.3L190.3,563.6L191.7,561.5L194.1,562.0ZM266.1,605.1L270.0,604.4L270.1,606.4L268.8,607.9ZM303.2,607.9L298.7,607.2L298.4,605.5L299.9,604.8ZM278.9,513.1L281.5,519.5L279.8,520.9L277.9,520.0ZM306.4,592.3L302.2,597.6L299.2,598.6L300.5,595.7ZM240.1,612.8L236.0,608.0L237.3,606.4L239.4,606.5ZM222.7,600.9L228.4,602.8L228.2,604.6L226.6,605.4ZM215.4,578.3L212.9,580.9L211.1,580.6L211.9,578.9ZM288.4,603.5L291.5,608.4L290.1,609.8L288.3,609.3ZM225.6,599.8L222.8,603.3L220.2,602.5L221.1,599.8ZM212.6,536.2L207.0,538.5L206.1,537.1L206.6,535.4ZM255.2,566.3L250.4,566.2L249.1,564.7L251.0,564.0ZM213.0,574.2L209.4,573.7L209.0,571.8L210.8,571.3ZM197.0,584.2L192.5,579.7L192.4,577.7L194.2,578.4ZM228.1,572.7L234.9,572.4L237.2,573.9L234.6,574.8ZM283.5,513.6L281.2,517.4L279.1,517.1L279.2,515.0ZM221.0,587.1L224.7,582.0L226.3,582.1L226.3,583.7ZM271.6,524.4L269.3,530.1L266.3,531.0L266.5,527.8ZM181.0,521.0L188.1,522.2L188.3,524.5L186.4,525.8ZM267.3,543.5L272.3,540.6L274.4,541.2L273.1,542.9ZM210.6,589.3L210.3,594.8L208.5,594.8L207.1,593.6ZM309.8,520.6L304.2,523.6L301.7,523.3L303.6,521.6ZM288.0,527.3L292.8,526.9L294.4,528.4L292.4,529.3ZM260.5,541.9L265.5,542.3L266.2,544.0L264.6,544.8ZM298.1,537.0L293.5,542.0L291.9,540.8L291.5,538.8ZM191.6,590.6L187.0,590.5L186.2,588.8L187.9,587.9ZM197.1,546.4L202.3,547.3L203.8,549.6L201.0,549.8ZM261.1,513.0L266.6,511.9L268.5,514.3L265.9,516.0ZM263.9,517.7L262.6,514.7L263.5,513.9L264.6,514.5ZM253.5,592.8L248.3,596.4L245.7,595.9L247.3,593.7ZM226.5,561.2L233.6,562.2L234.1,563.9L232.6,564.8ZM265.1,560.3L262.8,557.2L264.1,556.5L265.6,556.5ZM178.8,573.1L176.7,569.4L178.2,568.6L179.9,569.0ZM182.5,544.6L185.5,550.0L184.9,551.5L183.5,550.7ZM194.2,514.6L193.6,518.4L191.8,519.4L191.5,517.4ZM287.9,582.6L284.4,588.2L281.5,589.6L282.6,586.6ZM276.8,596.4L275.8,592.3L277.8,591.2L279.3,592.9ZM183.8,574.4L179.0,574.6L178.4,572.6L180.1,571.3ZM252.2,611.4L247.4,610.9L246.9,609.7L248.0,608.9ZM278.7,594.3L282.1,589.6L283.5,590.3L283.9,591.8ZM239.2,574.2L234.0,579.0L230.8,578.6L232.3,575.7ZM211.7,518.1L216.0,517.5L217.5,519.4L215.3,520.4ZM271.5,577.5L271.8,570.8L274.2,568.2L274.8,571.6ZM226.3,554.4L228.6,550.1L231.0,549.7L230.6,552.1ZM192.6,564.1L188.4,565.9L186.3,564.3L188.3,562.5ZM181.0,589.2L183.0,594.8L182.0,595.9L180.7,595.2ZM192.8,562.3L192.3,566.6L190.1,566.1L188.9,564.2ZM241.9,566.4L237.2,567.7L237.1,565.5L238.0,563.6ZM264.9,608.6L263.8,602.9L266.2,600.9L267.8,603.7ZM305.1,532.3L300.1,533.6L299.4,532.3L300.1,531.0ZM208.2,536.3L204.4,536.1L204.9,534.6L205.9,533.3ZM196.0,579.1L193.8,584.4L190.9,585.5L191.3,582.5ZM303.5,548.4L300.1,549.2L299.3,548.1L300.3,547.1ZM256.5,563.0L260.2,566.6L259.6,569.2L257.1,568.1ZM243.1,520.1L238.9,518.1L239.3,516.5L241.0,516.0ZM223.0,540.6L224.1,546.7L222.2,547.2L220.5,546.3ZM211.8,593.0L218.0,593.5L218.9,595.2L217.2,596.0ZM232.0,592.9L228.4,587.6L230.2,586.4L232.3,586.5ZM302.5,607.3L303.1,602.1L305.5,602.1L306.7,604.2ZM295.9,535.8L298.9,538.5L297.7,540.2L295.7,539.8ZM223.9,518.4L217.1,516.7L216.9,515.2L218.1,514.4ZM220.5,544.0L214.6,543.2L214.2,540.7L216.5,539.7ZM223.7,580.5L220.0,574.7L221.2,573.1L223.2,573.6ZM252.5,579.1L248.5,581.6L247.7,579.8L247.9,577.7ZM232.3,596.1L231.1,600.2L229.2,601.5L229.3,599.2ZM283.8,594.7L278.5,594.4L277.6,593.1L279.0,592.4ZM305.0,591.9L302.9,586.9L304.9,584.7L307.0,586.9ZM258.7,523.4L264.4,522.0L265.1,524.0L264.0,525.7ZM202.6,543.4L206.1,539.7L208.1,541.2L207.7,543.6ZM201.3,536.5L197.4,538.8L195.4,537.4L196.9,535.5ZM213.3,566.7L217.2,572.1L217.3,574.6L215.3,573.0ZM294.2,573.1L300.0,568.7L302.6,569.7L301.4,572.3ZM242.1,555.2L237.9,555.7L238.2,553.6L239.5,551.9ZM209.6,557.0L216.0,554.3L218.4,556.2L216.4,558.5ZM180.9,525.8L182.6,522.6L184.8,522.9L184.4,525.0ZM183.8,593.4L185.8,588.0L188.9,587.2L188.7,590.3ZM288.9,557.3L287.8,561.4L285.5,561.0L285.0,558.9ZM284.2,602.6L289.8,604.6L289.6,606.0L288.4,606.8ZM198.8,518.1L196.8,524.5L193.6,526.0L193.7,522.5ZM243.3,591.3L246.5,593.6L245.4,595.2L243.4,595.2ZM282.5,532.1L278.4,529.0L279.0,526.7L281.4,527.1ZM267.2,575.0L272.7,578.5L272.8,581.7L269.6,581.1ZM267.1,534.1L268.7,538.7L266.6,539.2L264.7,538.3ZM274.1,516.6L279.8,513.5L282.0,514.5L280.6,516.5ZM213.2,543.4L211.4,549.1L208.2,549.9L208.2,546.6ZM192.0,540.6L199.0,541.9L200.3,543.7L198.1,544.3ZM286.2,603.1L292.5,600.0L295.9,600.6L293.2,602.8ZM221.2,598.4L215.0,596.7L213.8,594.2L216.6,593.9ZM204.4,599.5L209.2,596.4L211.6,597.6L210.1,599.8ZM188.5,546.1L193.6,543.2L196.3,544.1L194.4,546.2ZM233.2,550.6L237.3,547.0L240.0,547.3L238.5,549.6ZM241.8,547.0L240.1,550.3L238.4,549.2L238.2,547.2ZM275.7,512.7L270.7,516.1L269.0,515.7L269.8,514.1ZM223.4,570.9L219.9,569.4L220.6,568.0L222.0,567.3ZM223.1,560.5L220.4,563.2L219.2,562.2L219.3,560.7ZM189.2,558.2L193.2,553.6L194.7,553.7L194.5,555.2ZM206.6,552.8L205.4,547.4L206.6,546.7L207.8,547.4ZM302.5,537.0L298.8,538.4L297.4,536.6L299.0,535.0ZM195.1,583.5L201.1,586.8L202.3,590.0L198.9,589.2ZM298.7,552.2L297.1,547.2L298.8,546.0L300.4,547.3ZM212.5,552.6L207.3,553.0L207.0,551.2L208.2,549.8ZM239.1,553.5L236.3,557.0L234.1,556.6L234.7,554.5ZM191.0,553.8L195.2,558.0L195.8,560.8L193.5,559.2ZM228.4,556.6L232.7,557.4L232.6,559.7L230.4,560.5ZM181.0,523.5L178.3,520.6L179.9,519.8L181.7,519.7ZM216.9,534.6L223.6,534.2L225.9,535.7L223.3,536.6ZM218.6,547.6L214.7,546.1L214.5,544.7L215.9,544.4ZM205.7,526.4L204.4,529.8L202.8,529.7L202.5,528.1ZM195.9,568.2L194.7,573.9L193.0,574.8L192.5,572.9ZM182.0,579.5L185.4,581.7L185.2,583.9L183.1,583.5ZM297.7,516.1L304.4,515.2L306.8,517.2L304.0,518.6ZM294.3,518.7L299.7,520.4L300.8,523.1L297.9,523.1ZM188.0,593.0L185.7,596.5L183.6,596.5L184.0,594.4ZM284.0,547.7L279.2,550.5L277.0,549.9L278.4,548.1ZM267.8,578.0L267.6,574.5L268.9,574.2L269.8,575.1ZM286.6,587.8L289.9,590.9L290.1,593.3L288.1,592.1ZM293.1,532.6L295.1,537.4L294.0,539.3L292.5,537.8ZM188.8,527.1L184.3,530.3L182.2,529.7L183.4,527.8ZM200.1,592.1L201.2,585.8L203.6,584.0L203.8,587.0ZM280.9,528.4L274.4,527.9L272.4,525.9L275.2,525.2ZM285.7,553.8L284.8,549.0L286.8,548.9L288.6,549.8ZM267.5,540.9L269.4,534.1L271.6,532.1L271.5,535.1ZM287.4,604.4L284.4,599.4L285.0,597.4L286.7,598.6ZM229.6,568.8L226.3,563.4L227.1,561.1L229.1,562.5ZM292.8,595.5L298.9,596.4L299.9,598.2L297.9,598.9ZM279.4,580.3L277.0,577.2L278.9,575.9L281.1,576.7ZM192.6,586.8L189.4,588.6L188.4,587.1L189.2,585.4ZM184.3,559.0L177.4,557.9L175.3,556.1L178.1,555.9ZM238.2,527.4L238.6,531.3L237.0,531.1L235.5,530.3ZM206.6,521.8L207.1,527.6L204.7,528.8L203.2,526.5ZM252.1,515.9L257.0,513.5L258.8,514.6L257.5,516.3ZM293.8,561.6L290.2,558.9L289.9,556.8L291.9,557.5ZM277.1,551.2L280.4,553.7L279.0,556.0L276.5,555.2ZM279.1,567.3L281.4,571.1L280.3,572.7L278.5,571.7ZM249.3,595.7L254.1,597.4L254.0,599.4L252.1,600.0ZM256.6,573.2L254.1,569.2L256.0,568.3L258.0,568.7ZM239.9,595.0L236.2,597.7L234.5,596.8L235.3,595.0ZM277.1,573.2L275.0,577.8L272.5,577.9L272.5,575.3ZM277.7,588.8L273.2,583.3L274.0,580.3L276.8,581.8ZM266.9,557.9L268.7,551.4L270.3,550.9L270.9,552.5ZM190.3,581.3L184.8,577.5L185.7,576.0L187.3,575.3ZM177.1,551.1L183.4,548.2L185.5,549.0L184.0,550.6ZM208.9,520.5L211.7,524.1L211.5,526.2L209.8,525.0ZM293.7,555.7L293.7,561.0L291.9,562.2L290.9,560.2ZM277.2,552.9L278.8,547.3L280.6,546.9L281.2,548.6ZM264.2,556.0L265.0,551.2L266.5,550.6L267.1,552.1ZM251.5,585.2L248.3,582.2L249.4,580.7L251.3,580.8ZM284.9,603.4L285.2,608.5L283.6,610.2L282.8,608.1ZM256.0,539.1L249.8,539.1L247.3,537.3L250.3,536.6ZM194.8,571.7L194.2,575.2L192.4,576.1L192.2,574.2ZM275.5,536.3L282.4,538.1L283.2,540.8L280.5,541.5ZM237.2,604.7L232.4,608.1L230.6,607.8L231.5,606.2ZM270.1,530.9L271.9,534.7L270.8,535.9L269.4,535.0ZM244.4,609.9L244.0,605.7L245.7,605.1L246.9,606.4ZM267.0,522.6L267.0,518.1L269.3,517.7L270.5,519.8ZM280.7,556.8L279.1,551.9L280.1,551.1L281.3,551.7ZM228.7,563.3L221.9,563.1L220.0,560.4L223.2,559.4ZM205.9,583.0L208.9,586.4L208.0,587.8L206.3,587.5ZM195.3,604.5L190.9,609.5L187.5,609.9L189.1,606.9ZM218.7,589.7L223.5,594.8L223.4,598.5L220.3,596.5ZM231.5,590.2L228.0,591.3L226.3,590.1L228.1,589.1ZM204.8,612.7L201.7,606.5L202.4,605.5L203.7,605.9ZM251.4,609.5L247.8,605.0L249.1,603.9L250.8,603.8ZM268.6,563.5L265.5,559.9L267.0,558.9L268.7,558.8ZM301.1,535.1L297.3,538.1L294.9,536.6L296.3,534.2ZM198.8,591.7L198.3,598.1L195.6,599.1L194.5,596.5ZM296.7,519.6L303.3,521.5L304.1,524.4L301.2,524.8ZM184.2,608.6L185.0,603.6L186.9,603.6L187.9,605.3ZM263.6,558.5L265.8,562.4L264.7,564.1L263.0,563.0ZM187.7,578.0L185.5,573.6L186.5,571.3L188.2,573.1ZM305.5,515.3L301.0,518.1L298.2,517.2L300.1,515.1ZM233.2,583.6L227.3,580.9L226.7,577.6L230.0,578.0ZM212.2,558.0L217.3,560.4L217.4,563.5L214.3,563.3ZM269.5,606.2L267.0,610.3L265.6,610.3L265.5,608.9ZM297.4,601.4L294.2,605.2L291.4,605.1L292.5,602.5ZM184.7,542.5L187.1,538.0L188.8,538.2L189.0,539.8ZM237.5,520.9L243.2,521.4L243.6,522.9L242.3,523.9ZM285.0,531.2L282.0,527.5L283.6,525.5L285.9,526.5ZM286.3,613.3L280.9,612.5L280.6,609.9L283.1,608.9ZM212.8,532.6L213.1,538.9L211.6,541.3L210.8,538.5ZM189.3,547.3L186.8,551.6L185.0,550.4L184.4,548.4ZM237.3,612.9L233.8,609.8L234.5,607.5L236.7,608.3ZM234.8,543.4L238.4,545.8L237.6,547.1L236.2,547.6ZM253.5,509.4L256.7,513.9L255.1,516.0L252.8,514.9Z" fill="#7646cc"/>
<path d="M203.0,571.3L205.9,566.5L208.6,566.3L208.1,569.0ZM249.6,547.9L253.2,551.3L252.2,553.5L249.9,552.8ZM275.3,534.2L276.4,530.6L277.8,530.7L278.3,532.0ZM236.1,536.0L239.7,534.2L240.5,536.0L239.6,537.8ZM267.6,611.1L271.9,611.0L273.0,612.8L271.0,613.6ZM228.2,603.6L231.1,609.3L230.6,612.4L228.6,610.0ZM289.7,535.1L289.7,530.0L291.2,528.0L291.7,530.4ZM197.8,550.9L197.6,544.4L199.6,542.8L200.8,545.2ZM194.7,528.6L195.8,521.5L198.2,520.9L199.3,523.0ZM244.8,517.6L243.5,521.0L241.6,521.5L241.8,519.6ZM198.1,594.1L193.9,598.5L192.3,598.0L192.4,596.3ZM276.6,548.2L276.6,552.1L274.4,552.3L273.4,550.3ZM185.4,596.0L181.4,602.0L178.3,601.8L178.8,598.8ZM221.8,513.9L227.6,512.8L229.0,513.9L227.6,514.9ZM246.8,572.4L249.7,575.4L249.1,576.9L247.5,576.5ZM284.2,512.9L282.5,516.5L280.5,517.1L280.8,515.0ZM181.7,512.2L178.4,515.5L176.7,515.2L177.2,513.6ZM186.6,562.9L180.2,559.9L180.3,557.3L182.8,556.9ZM175.9,542.3L181.6,541.8L181.7,543.8L180.6,545.5ZM247.0,580.3L249.1,575.6L251.6,576.0L251.8,578.6ZM257.8,567.6L254.8,572.5L252.7,571.5L252.4,569.3ZM239.0,523.6L239.6,527.1L238.1,526.9L236.6,526.2ZM265.1,576.1L269.8,578.2L269.3,580.7L266.8,580.9ZM303.7,601.4L298.9,598.1L298.7,595.7L301.1,596.2ZM287.8,514.6L293.0,512.8L295.4,514.6L293.0,516.5ZM209.1,507.9L212.2,513.6L211.0,516.6L208.6,514.3ZM192.7,562.2L196.2,557.1L198.2,556.9L197.9,558.9ZM290.0,526.4L292.3,523.3L294.4,523.6L293.8,525.6ZM180.7,556.5L175.3,554.2L174.0,552.1L176.5,552.5ZM294.7,590.2L298.0,587.9L299.9,588.2L298.7,589.7ZM264.3,585.9L268.8,580.7L271.6,581.0L270.9,583.7ZM184.7,565.8L188.5,571.7L187.6,572.8L186.2,572.7ZM194.3,570.1L191.0,572.4L189.2,571.7L190.3,570.0ZM223.7,510.9L221.7,513.8L220.3,513.3L220.3,511.8ZM182.5,597.7L178.5,595.6L179.0,593.2L181.5,593.3ZM248.7,606.3L249.0,600.4L250.8,599.6L251.9,601.3ZM177.3,587.7L181.5,583.4L184.5,583.4L183.1,586.0ZM225.1,548.8L218.7,549.1L218.0,546.8L219.8,545.2ZM230.1,598.3L229.0,602.6L227.4,602.2L226.4,600.9ZM179.3,541.8L186.0,540.1L188.7,541.6L186.1,543.2ZM267.8,596.7L274.7,595.7L275.0,597.9L274.0,599.9ZM304.6,536.6L301.5,532.1L302.5,530.1L304.5,531.1ZM266.5,555.5L262.9,552.7L263.9,550.0L266.6,550.9ZM239.7,584.7L235.0,588.7L233.5,587.3L233.5,585.2ZM290.1,551.9L288.3,555.6L286.9,554.2L286.0,552.3ZM193.7,597.9L194.7,593.1L196.5,592.2L196.9,594.2ZM188.4,522.1L191.5,528.5L190.5,531.9L188.2,529.2ZM289.7,530.6L295.2,534.8L295.9,538.0L292.9,536.8ZM182.3,589.6L186.7,590.8L186.8,592.2L185.5,592.9ZM280.8,606.9L283.4,601.0L286.4,599.6L285.9,602.9ZM264.3,579.6L261.8,585.7L259.8,586.7L259.8,584.4ZM209.7,565.8L210.9,558.9L213.3,556.6L213.5,559.9ZM205.1,557.0L204.6,560.5L203.0,560.4L202.2,558.9ZM255.5,605.8L261.1,607.3L261.4,608.9L259.9,609.5ZM237.4,565.1L230.9,564.5L228.6,562.6L231.5,562.2ZM242.7,585.4L247.3,582.5L250.0,583.2L248.1,585.3ZM298.6,515.9L293.0,513.9L293.3,512.3L294.6,511.5ZM213.8,528.6L210.5,525.0L211.2,522.4L213.6,523.7ZM295.5,610.5L297.5,607.1L299.0,607.2L299.0,608.6ZM227.7,601.6L232.4,602.9L233.2,604.9L231.1,605.1ZM202.5,599.7L207.5,601.9L207.9,605.0L204.8,604.7ZM238.3,566.4L235.1,563.1L236.3,561.5L238.3,561.8ZM209.3,608.4L211.8,601.9L213.2,601.6L213.7,603.0ZM198.8,591.7L202.8,595.0L201.8,597.3L199.4,596.9ZM230.1,515.5L233.9,516.6L233.5,518.4L231.7,519.1ZM180.1,546.5L176.4,544.7L177.3,543.0L179.2,542.5ZM235.4,607.5L231.0,609.5L230.2,608.0L230.7,606.4ZM293.1,552.3L287.3,550.1L286.5,547.5L289.2,547.5ZM232.4,551.4L235.3,548.6L237.4,549.9L236.4,552.1ZM243.6,511.3L250.7,511.5L251.4,513.6L249.7,515.0ZM268.8,577.6L267.9,583.8L266.5,584.7L265.8,583.1ZM180.1,558.9L178.6,565.4L176.2,567.1L176.0,564.2ZM297.0,584.5L300.5,584.6L300.7,585.8L299.7,586.7ZM250.9,590.8L248.0,594.2L245.7,593.0L246.5,590.6ZM209.7,531.6L213.9,528.5L216.8,529.0L214.9,531.2ZM266.5,526.8L261.8,527.1L261.3,524.7L263.3,523.3ZM201.7,557.8L203.2,562.2L202.1,564.3L200.7,562.3ZM308.3,520.6L303.5,525.9L301.4,525.2L301.6,523.0ZM179.9,543.9L177.0,541.9L177.6,540.4L179.2,540.5ZM213.1,547.6L208.1,545.8L207.7,543.9L209.6,543.6ZM266.6,573.3L269.6,567.8L271.6,568.2L272.1,570.2Z" fill="#421f90"/>
</g>
</g>
<rect x="285.5" y="602.7" width="14.6" height="4.8" fill="#fff" stroke="#111" stroke-width="0.9"/>
<text x="292.8" y="606.3" font-size="3.4" text-anchor="middle" fill="#222">100 µm</text>
<g clip-path="url(#cm2)">
<rect x="312.1" y="515.5" width="125.7" height="93.7" fill="#e8e6ef"/>
<g filter="url(#mblur)">
<path d="M330.9,566.3L326.6,569.6L324.3,569.1L325.5,567.1ZM416.9,532.3L417.8,528.2L420.2,528.0L420.7,530.3ZM355.5,574.7L361.4,573.3L362.6,575.1L361.2,576.7ZM408.4,587.7L410.7,591.7L409.9,594.1L408.0,592.4ZM334.8,556.0L329.5,553.5L330.2,551.8L331.9,550.9ZM437.3,610.3L435.3,606.7L436.2,605.2L437.6,606.2ZM420.0,601.5L423.3,597.6L425.2,598.9L425.1,601.2ZM375.1,567.7L374.8,572.4L373.3,573.4L372.7,571.8ZM401.2,519.7L404.5,518.1L406.1,519.1L404.8,520.4ZM322.5,589.9L319.4,585.8L320.9,583.9L323.1,584.8ZM348.5,529.0L348.5,533.7L346.9,534.9L346.2,533.1ZM401.7,533.5L395.8,530.6L394.6,527.2L398.1,528.0ZM320.8,562.9L318.4,567.4L316.7,567.1L316.4,565.5ZM362.0,545.9L366.4,549.9L365.7,551.1L364.3,551.4ZM356.9,520.8L354.6,516.1L356.2,515.4L357.9,515.6ZM437.5,597.6L432.2,593.3L432.0,591.0L434.2,591.6ZM372.9,541.3L377.2,542.9L377.4,545.5L374.8,545.5ZM387.0,524.3L384.8,529.8L383.4,530.0L383.0,528.7ZM357.2,574.3L358.8,569.5L360.9,570.2L361.8,572.2ZM382.3,605.3L380.3,601.2L382.0,599.0L383.9,601.0ZM343.4,573.6L338.4,572.4L338.1,570.0L340.4,569.4ZM406.6,610.6L401.9,614.4L400.8,612.7L400.6,610.6ZM316.6,575.0L320.0,579.9L319.5,581.8L317.8,580.8ZM369.3,575.3L363.6,572.1L362.8,570.1L364.9,570.5ZM380.3,540.3L378.7,534.5L380.5,533.4L382.3,534.7ZM391.3,535.4L395.0,531.9L397.0,532.8L396.4,534.9ZM380.3,599.0L374.7,600.7L373.5,599.2L374.6,597.7ZM435.4,554.9L431.8,558.6L430.1,557.2L430.2,555.0ZM378.6,536.6L384.6,535.5L385.7,537.5L384.1,539.2ZM396.4,583.0L396.9,589.7L395.4,591.4L394.4,589.4ZM364.0,604.1L358.0,604.4L357.2,602.1L359.1,600.6ZM336.8,576.8L333.6,578.5L331.8,577.6L333.2,576.2ZM333.3,561.1L338.8,563.9L338.6,565.5L337.0,566.0ZM319.1,591.6L315.5,586.3L315.7,583.9L317.6,585.4ZM422.6,578.1L419.1,576.7L419.0,575.2L420.4,575.0ZM335.2,526.5L333.7,521.8L335.8,520.1L337.5,522.1ZM410.7,550.2L407.8,552.1L406.6,551.1L407.3,549.6ZM314.8,570.0L313.6,575.2L311.7,576.9L311.6,574.3ZM417.9,563.5L420.7,559.9L421.9,560.8L422.3,562.2ZM371.4,553.8L365.1,555.9L363.7,554.9L364.7,553.6ZM340.2,521.9L336.6,527.5L334.5,528.3L335.0,526.1ZM314.4,585.7L309.4,586.2L307.4,584.2L310.0,583.1ZM425.5,542.8L421.9,540.1L422.5,538.5L424.3,538.4ZM379.5,542.7L383.9,540.7L384.8,541.6L384.3,542.8ZM368.6,515.2L374.5,512.4L377.5,513.8L375.1,516.0ZM411.1,523.1L408.7,525.6L407.1,525.2L407.7,523.6ZM351.6,528.5L346.3,532.7L344.2,531.5L344.9,529.2ZM341.4,528.4L338.4,530.1L337.6,529.0L338.0,527.7ZM348.6,515.5L351.5,521.9L350.0,525.0L347.7,522.4ZM423.1,523.3L419.9,517.3L420.5,514.2L422.6,516.5ZM419.8,583.7L415.1,581.4L416.1,579.3L418.3,578.7ZM421.1,605.4L418.2,611.1L415.8,612.1L416.3,609.6ZM350.8,559.6L351.2,555.3L353.9,555.0L354.6,557.6ZM360.6,562.0L358.0,564.8L356.4,563.4L356.8,561.3ZM339.0,575.6L338.0,580.0L335.9,580.3L335.3,578.1ZM426.4,599.4L421.8,603.9L420.2,603.7L420.6,602.0ZM421.0,525.3L418.2,530.8L415.6,532.0L416.2,529.2ZM427.0,604.7L430.4,606.1L429.9,607.4L428.5,608.0ZM369.9,594.2L368.5,590.5L370.6,590.4L372.5,591.3ZM402.4,550.0L399.7,554.8L396.9,555.2L397.4,552.4ZM432.5,597.8L428.7,595.8L429.7,593.7L432.1,593.4ZM441.2,531.5L436.3,536.1L433.3,536.7L435.1,534.2ZM355.1,568.1L356.0,574.9L354.5,576.6L353.3,574.7ZM433.9,587.5L431.1,581.7L431.4,579.5L433.0,581.1ZM351.3,559.7L346.7,564.7L345.2,564.6L345.4,563.1ZM397.8,583.0L396.2,578.9L397.5,576.9L398.9,578.8ZM405.0,599.4L408.7,594.9L409.8,595.4L410.1,596.6ZM366.8,585.0L364.9,591.7L363.2,591.8L362.4,590.3ZM367.7,554.5L361.3,552.6L361.1,550.0L363.6,549.2ZM364.3,610.4L360.7,608.6L360.1,606.5L362.2,606.9ZM389.3,535.3L392.1,538.8L391.5,540.2L390.1,539.7ZM327.3,528.0L331.8,533.1L331.4,535.3L329.2,534.5ZM359.7,529.3L362.7,524.5L365.5,523.6L364.6,526.4ZM338.8,524.2L342.1,519.0L345.0,517.9L343.9,520.8ZM357.0,569.3L352.3,565.8L353.5,564.2L355.5,563.7ZM342.4,553.8L348.7,556.2L349.8,558.7L347.1,558.6ZM350.9,560.0L356.9,563.6L357.3,565.5L355.4,565.4ZM333.1,609.4L330.3,607.7L330.9,606.7L331.9,606.3ZM359.5,519.9L363.4,520.8L362.9,522.6L361.2,523.5ZM355.7,600.0L359.0,597.6L360.5,598.8L359.8,600.6ZM404.1,543.2L399.8,544.1L399.4,542.6L400.1,541.2ZM332.2,524.5L329.4,530.3L326.6,531.5L327.1,528.5ZM397.5,570.5L392.2,570.2L392.1,568.1L393.7,566.8ZM436.1,614.5L437.8,609.4L439.9,610.2L440.9,612.1ZM385.2,518.3L382.2,513.1L384.1,512.1L386.3,512.4ZM336.1,581.8L338.5,576.9L341.1,577.5L341.3,580.1ZM358.7,517.2L358.3,513.5L360.0,513.9L361.6,514.8ZM429.5,577.4L430.8,580.9L429.2,581.9L427.8,580.7ZM319.2,583.8L315.7,583.5L315.4,582.2L316.5,581.5ZM318.0,575.5L320.7,571.6L322.2,572.6L322.6,574.4ZM427.6,563.1L432.1,565.7L432.8,568.0L430.6,567.4ZM324.9,565.1L327.3,561.7L328.5,562.2L328.8,563.5ZM402.6,584.1L403.3,588.3L402.0,589.1L400.9,588.0ZM340.0,557.0L342.5,560.3L340.9,561.8L338.9,561.0ZM391.9,610.2L386.8,607.5L387.2,605.4L389.3,605.0ZM317.4,558.3L321.2,557.8L321.8,559.8L320.2,561.0ZM411.8,538.7L412.8,535.5L414.0,535.9L414.6,536.9ZM418.3,605.7L421.9,601.9L424.6,602.5L423.5,605.0ZM336.2,567.2L332.6,570.1L330.2,568.5L331.8,566.1ZM344.8,521.5L349.9,521.4L350.0,522.9L349.3,524.1ZM364.8,583.8L368.1,584.9L367.8,586.3L366.5,586.9ZM314.2,572.2L313.5,577.4L312.0,577.7L311.2,576.4ZM423.2,569.1L419.7,565.4L421.3,564.3L423.2,564.0ZM401.4,582.6L402.1,587.0L400.3,588.7L399.2,586.4ZM324.7,597.9L323.3,593.4L325.1,591.6L326.7,593.6ZM423.7,533.9L418.7,534.7L417.4,532.8L419.3,531.4ZM365.1,522.6L361.0,528.3L358.3,527.7L358.5,525.0ZM318.9,592.0L317.1,598.5L315.2,598.7L314.4,597.0ZM396.9,615.9L398.7,609.9L401.1,607.9L400.8,611.0ZM370.4,537.2L374.0,534.3L376.4,534.7L375.0,536.7ZM400.0,567.3L394.1,567.7L392.7,565.1L395.3,563.6ZM420.8,539.0L423.8,543.3L423.2,544.9L421.7,544.2ZM352.1,559.8L349.9,563.7L347.6,564.1L348.1,561.8ZM418.3,532.5L422.4,530.3L423.7,531.5L423.0,533.1ZM324.2,526.9L330.5,526.1L332.5,528.0L330.1,529.2ZM422.9,551.5L420.3,556.5L418.3,556.1L417.9,554.0ZM412.7,519.5L409.8,525.4L406.6,526.6L407.3,523.2ZM316.1,594.4L319.0,588.0L321.3,586.3L320.7,589.1ZM403.4,566.8L405.1,563.6L407.1,563.3L406.7,565.3ZM371.1,577.5L366.7,571.9L367.3,569.7L369.4,570.6ZM371.8,547.7L365.6,546.0L365.0,543.6L367.4,543.0ZM383.3,541.2L381.8,538.0L383.1,537.1L384.4,537.9ZM334.5,537.5L328.0,535.0L328.2,532.5L330.6,531.8ZM415.8,553.3L409.0,554.1L406.3,551.7L409.6,550.3ZM307.8,570.2L310.7,567.6L311.8,569.3L311.5,571.2ZM387.2,531.7L384.2,537.5L382.3,537.1L381.7,535.2ZM426.6,535.4L420.4,534.2L419.5,532.4L421.4,531.8ZM346.2,537.7L343.9,531.3L345.5,529.8L347.3,531.1ZM373.2,525.9L377.3,526.2L376.9,527.9L375.8,529.1ZM394.7,512.7L398.8,511.1L399.6,512.4L398.9,513.8ZM423.8,566.4L428.4,561.1L431.2,560.8L430.2,563.5ZM358.1,580.4L352.6,579.5L351.5,576.5L354.7,576.0ZM338.9,582.6L335.4,587.5L332.9,588.2L333.8,585.8ZM349.7,605.9L352.8,608.1L351.7,610.3L349.4,609.7ZM363.4,586.8L369.5,590.3L370.5,592.5L368.1,592.1ZM396.5,537.2L391.6,534.5L391.0,531.9L393.7,532.4ZM405.4,555.5L402.8,558.0L400.9,556.7L401.9,554.7ZM398.4,608.6L402.8,603.4L405.0,603.3L404.4,605.4ZM387.3,600.2L383.6,598.7L384.1,596.6L386.2,596.4ZM419.1,551.9L422.8,552.0L422.5,553.7L421.3,554.9ZM345.4,555.2L347.6,557.9L346.7,559.0L345.3,558.7ZM380.3,605.4L384.3,599.9L387.7,598.9L386.2,602.1ZM392.8,569.3L394.6,573.6L393.5,574.2L392.3,573.9ZM336.5,532.1L341.0,526.8L342.9,527.5L343.0,529.6ZM363.7,576.8L367.1,574.3L367.9,575.8L367.8,577.5ZM331.4,609.5L328.7,607.1L329.3,605.3L331.1,605.9ZM439.5,518.9L438.8,513.8L439.8,513.1L440.8,514.0ZM343.6,543.6L347.4,545.0L347.6,546.5L346.1,546.7ZM415.8,550.2L410.6,547.8L410.5,546.0L412.2,545.7ZM434.6,560.6L436.0,564.6L434.8,566.1L433.5,564.7ZM417.6,573.0L414.0,570.6L414.0,568.8L415.9,569.1ZM355.5,510.2L358.0,514.3L356.3,516.2L354.1,514.8ZM417.1,530.0L420.8,534.3L420.5,537.5L417.8,535.7ZM382.9,599.5L388.1,600.1L388.6,602.3L386.6,603.2ZM374.4,525.4L374.3,530.6L372.2,532.1L371.4,529.6ZM351.6,532.2L353.7,529.2L354.8,529.8L355.0,531.0ZM370.2,606.9L375.6,604.8L376.1,606.9L375.6,609.0ZM379.4,581.0L376.1,581.9L375.2,580.8L376.2,579.6ZM362.9,594.7L357.1,598.1L355.5,597.2L356.2,595.5ZM352.3,548.1L357.0,547.3L357.5,548.9L356.5,550.2ZM357.8,519.8L360.1,523.8L358.3,524.6L356.4,524.1ZM428.6,509.3L425.0,514.3L423.3,514.4L423.5,512.7ZM371.7,567.7L365.2,568.7L364.4,567.2L365.4,565.9ZM441.3,519.8L436.5,520.6L435.0,519.1L436.8,518.0ZM406.4,511.2L409.0,514.1L407.8,515.3L406.0,515.1ZM387.4,581.1L390.2,583.8L389.1,584.8L387.6,584.9ZM359.3,528.9L359.0,522.5L361.0,521.0L362.2,523.2ZM384.3,581.5L384.3,585.0L382.6,585.5L381.8,583.9ZM343.0,539.2L347.4,541.9L347.4,544.9L344.6,544.2ZM376.5,566.9L370.6,566.2L370.6,564.2L372.2,562.9ZM385.8,529.9L383.0,525.9L384.6,525.0L386.4,525.1ZM404.2,599.8L401.0,606.0L398.7,606.4L398.6,604.1ZM422.3,603.5L428.0,603.2L428.7,605.6L426.8,607.0ZM374.0,606.9L369.0,611.8L365.4,612.3L367.4,609.3ZM371.9,560.1L367.0,563.3L364.4,562.9L366.1,560.9ZM388.5,531.1L382.0,532.1L381.2,530.0L382.6,528.2ZM332.7,541.7L337.4,543.9L338.1,545.8L336.1,545.6ZM409.9,528.9L408.5,534.2L407.1,534.3L406.4,533.1ZM379.3,603.4L377.9,598.0L378.8,596.4L379.9,597.9ZM399.2,514.1L392.5,514.9L390.6,513.4L392.8,512.2ZM423.0,563.5L419.0,569.0L417.2,569.1L417.4,567.3ZM381.6,573.4L376.5,575.7L375.3,574.5L376.0,573.0ZM405.2,604.5L404.5,608.6L402.6,608.7L401.8,606.9ZM318.5,561.6L322.4,559.2L324.7,560.8L322.9,562.9ZM421.6,577.0L423.7,574.2L425.4,574.5L425.0,576.1ZM362.4,526.4L367.1,530.6L367.1,533.1L364.8,532.2ZM388.6,594.2L385.5,600.6L382.2,601.5L382.7,598.2ZM391.6,518.6L397.0,515.5L398.3,516.7L397.8,518.4ZM428.5,561.3L426.9,565.2L425.3,564.3L424.5,562.7ZM434.4,539.0L432.7,544.8L430.0,545.8L429.8,542.9ZM344.9,523.6L340.7,518.3L341.3,516.8L343.0,517.1ZM401.0,542.9L404.3,538.3L407.2,538.5L406.4,541.3ZM346.1,556.8L350.5,557.9L351.0,560.5L348.4,560.8ZM342.7,551.9L344.3,558.5L342.4,559.3L340.5,558.4ZM370.2,565.2L373.7,564.1L375.2,565.3L373.6,566.5ZM325.9,580.5L332.6,579.9L335.1,581.0L332.5,581.9ZM392.7,558.5L393.4,553.6L395.2,553.6L396.3,555.1ZM364.0,547.3L362.5,544.0L364.4,543.5L366.2,544.4ZM321.6,581.1L323.1,577.8L324.6,578.6L325.1,580.1ZM329.6,574.9L327.8,578.1L326.4,577.5L326.1,576.2ZM388.9,532.5L390.8,528.0L393.0,527.1L392.8,529.4ZM323.4,613.6L318.2,612.6L318.4,611.0L319.6,609.9ZM359.6,584.9L358.8,590.0L356.6,589.8L355.4,587.9ZM423.4,515.3L419.4,514.7L418.7,512.5L421.0,512.1ZM370.4,570.2L367.9,567.8L368.3,566.2L369.8,566.7ZM407.8,546.3L411.6,542.1L413.7,542.1L413.0,544.1ZM374.3,569.5L373.6,563.8L375.8,561.8L377.1,564.5ZM417.2,535.4L421.1,531.4L423.9,531.7L422.7,534.2ZM425.9,541.9L426.4,548.7L424.2,549.7L422.6,547.9ZM405.4,572.8L400.0,575.4L397.8,574.7L399.4,573.0ZM311.5,586.7L310.4,591.9L309.0,592.5L308.5,591.1ZM427.1,526.9L427.0,530.3L425.6,530.7L424.9,529.4ZM334.3,515.7L336.7,521.9L335.6,524.1L333.9,522.4ZM370.9,518.0L364.9,517.2L364.9,515.1L366.5,513.8ZM335.6,524.3L332.5,530.5L331.1,530.6L330.7,529.2ZM316.9,521.5L322.3,523.2L323.2,525.2L321.1,525.4ZM412.5,602.2L409.8,598.3L411.0,596.1L413.1,597.5ZM323.9,616.0L321.9,610.4L323.1,607.7L324.9,610.1ZM423.5,611.7L417.7,608.2L417.6,605.8L420.0,605.9ZM347.2,553.9L347.2,548.6L349.0,546.9L349.7,549.3ZM432.7,598.6L433.4,592.6L434.7,592.3L435.6,593.3ZM362.6,517.5L365.9,522.5L365.5,525.0L363.6,523.4ZM328.2,543.1L327.2,538.2L328.7,536.7L330.0,538.4ZM352.0,594.3L355.7,593.7L355.9,595.5L354.7,596.9ZM391.6,562.9L390.3,557.7L392.2,555.4L393.6,558.0ZM418.2,548.6L423.0,549.9L422.7,551.3L421.7,552.2ZM435.4,584.6L441.0,583.4L442.6,585.7L440.4,587.5ZM349.5,606.5L343.6,604.7L342.2,602.5L344.9,602.5ZM405.1,528.6L403.2,532.4L402.0,531.7L401.3,530.5ZM329.3,584.8L323.4,587.2L320.6,586.5L322.9,584.9ZM374.5,562.6L368.0,563.7L366.2,561.6L368.4,560.1ZM370.9,564.5L371.0,568.7L369.5,569.2L368.5,567.9ZM344.7,595.9L350.0,595.7L350.9,597.9L349.0,599.1ZM352.3,553.0L358.0,554.8L358.9,557.4L356.3,557.6ZM414.7,578.2L414.9,571.4L416.2,570.4L417.0,571.8ZM381.0,531.6L387.1,530.9L387.6,532.4L386.7,533.8ZM385.5,550.6L381.8,551.5L381.3,549.8L382.3,548.5ZM350.2,600.0L345.6,595.8L346.2,593.7L348.3,594.1ZM379.6,592.9L379.8,598.9L377.7,600.3L376.5,598.1ZM321.0,520.5L320.5,515.2L321.9,514.6L323.1,515.6ZM416.2,558.9L413.9,564.5L412.2,564.8L411.9,563.1ZM399.2,510.8L399.2,517.3L397.2,519.9L396.4,516.7ZM430.2,605.0L432.0,608.5L431.1,609.2L430.0,608.9ZM337.9,521.0L335.5,515.5L337.1,513.2L339.1,515.1ZM383.4,590.5L385.3,596.1L384.2,597.6L382.8,596.4ZM403.9,564.4L399.8,566.4L398.6,565.0L399.5,563.3ZM404.5,551.6L400.2,551.2L400.6,549.1L402.4,547.8ZM349.9,571.5L350.4,577.5L348.7,580.1L347.8,577.1ZM378.7,601.9L374.5,603.9L373.2,601.8L374.7,599.8ZM331.9,546.4L333.5,541.8L335.4,542.5L336.3,544.3ZM434.3,556.6L430.1,551.2L430.8,549.6L432.5,550.0ZM357.1,553.9L353.5,558.1L351.8,557.2L351.7,555.3ZM324.5,527.2L318.5,523.9L319.4,522.0L321.3,521.1ZM322.3,607.3L323.8,612.6L322.2,615.2L320.7,612.6ZM420.0,586.8L421.8,580.1L424.8,578.3L424.8,581.8ZM312.2,561.1L309.8,557.9L311.2,556.2L313.2,557.2ZM361.3,558.9L357.8,556.8L358.1,555.3L359.6,555.2ZM441.5,518.2L438.5,512.9L439.8,511.9L441.5,512.2ZM345.6,602.6L339.4,601.0L338.6,598.7L341.0,598.1ZM391.9,564.8L388.3,567.1L387.6,565.7L387.7,564.1ZM367.0,608.3L367.6,601.8L369.5,600.3L370.2,602.6ZM355.6,522.4L352.3,518.7L353.7,516.3L356.2,517.4ZM379.9,553.7L382.3,550.8L383.9,551.1L383.5,552.8ZM347.9,603.1L349.3,606.4L347.8,608.0L346.4,606.4ZM321.4,606.4L316.4,602.2L316.6,600.3L318.5,600.6ZM307.2,545.8L312.2,541.0L314.3,540.9L313.4,542.9ZM365.4,551.4L368.3,553.4L367.3,555.1L365.4,555.0ZM325.8,531.3L330.3,530.8L331.9,532.8L329.5,533.8ZM359.5,527.8L357.0,532.0L355.2,530.8L354.6,528.6ZM312.5,512.7L309.0,514.3L308.3,513.4L308.7,512.2ZM432.0,586.3L434.2,589.4L432.7,590.4L430.9,590.0ZM415.8,571.6L417.0,564.8L418.4,563.8L418.9,565.5ZM326.2,545.3L320.2,548.3L318.4,546.5L319.5,544.3ZM387.6,518.2L392.0,514.1L393.9,514.6L393.4,516.4ZM336.0,537.1L334.7,542.3L332.3,543.4L332.2,540.8ZM403.7,547.1L400.6,550.6L398.7,550.0L399.1,548.1ZM332.4,578.9L335.8,585.0L335.2,587.1L333.4,585.8ZM406.7,538.4L411.7,541.3L411.6,542.9L410.0,543.1ZM316.8,560.9L314.6,564.9L312.7,565.1L312.8,563.2ZM337.8,590.2L333.7,586.2L334.9,584.8L336.7,584.6ZM381.1,532.8L377.5,534.7L375.7,533.9L377.0,532.5ZM313.5,603.8L316.2,601.0L318.2,601.3L317.3,603.1ZM334.6,532.1L332.3,525.4L334.1,524.6L336.0,525.2ZM406.6,595.7L401.0,592.7L400.1,590.7L402.2,591.0ZM387.6,615.8L389.9,609.6L393.2,608.2L392.9,611.7ZM438.6,525.8L435.5,529.7L433.0,529.8L433.9,527.4ZM346.2,519.4L346.3,514.7L348.9,514.2L350.0,516.6ZM328.1,598.3L333.6,599.7L334.4,602.4L331.6,602.9ZM365.2,578.2L367.5,574.0L369.5,573.4L369.2,575.5ZM409.2,545.3L410.6,538.7L413.3,536.8L413.5,540.1ZM392.7,577.6L393.9,581.1L392.0,581.3L390.3,580.5ZM406.6,609.7L406.6,606.3L407.9,606.1L408.7,607.0ZM389.5,568.7L385.7,570.2L384.1,568.8L385.6,567.3ZM312.3,518.6L316.5,518.2L317.4,519.5L316.1,520.5ZM422.3,532.9L421.3,529.1L423.6,528.3L425.1,530.2ZM424.8,553.4L419.2,554.1L417.8,552.3L419.7,551.0ZM383.9,558.6L383.7,562.2L381.8,562.4L381.0,560.7ZM404.4,601.9L405.8,605.2L404.7,606.0L403.4,605.3ZM412.2,607.4L415.4,601.7L416.7,602.0L417.1,603.2ZM357.9,529.7L362.3,531.2L362.7,532.7L361.2,533.0ZM411.0,573.6L407.2,568.8L408.0,566.6L410.1,567.5ZM394.7,531.3L396.3,526.0L398.1,526.0L398.8,527.6ZM319.4,547.0L319.4,541.8L321.9,540.4L322.9,543.1ZM417.6,560.6L412.5,561.1L411.0,559.9L412.7,558.9ZM372.4,516.4L375.2,518.6L374.2,519.9L372.5,519.9ZM331.3,514.1L325.9,516.8L322.9,515.8L325.3,513.7ZM413.6,607.0L417.0,612.4L415.8,613.4L414.3,613.3ZM402.6,560.1L406.0,554.6L408.6,554.7L408.4,557.2ZM442.9,540.1L439.4,538.5L439.0,536.5L441.0,536.7ZM371.6,609.9L365.7,608.0L365.1,605.4L367.8,605.1ZM437.7,565.3L438.4,569.3L437.0,570.9L436.0,569.0ZM427.4,568.3L421.4,568.3L419.6,566.8L421.8,566.1ZM320.2,521.5L316.3,519.7L316.5,517.9L318.3,517.7ZM401.7,542.7L400.1,538.7L401.6,537.6L403.2,538.7ZM326.0,600.9L319.8,600.5L318.5,599.0L320.4,598.2ZM331.2,522.3L334.3,518.4L335.8,519.4L336.0,521.2ZM401.7,547.8L395.8,544.6L395.1,542.5L397.3,542.7ZM334.6,570.3L338.8,570.0L339.6,571.4L338.2,572.3ZM331.5,564.5L335.6,565.2L336.0,567.5L333.7,568.0ZM439.5,561.8L435.1,566.8L431.7,567.2L433.3,564.2ZM420.1,605.4L416.5,607.2L415.7,605.6L416.4,603.9ZM306.2,569.0L311.0,565.9L313.7,567.4L311.9,569.8ZM352.9,564.0L348.2,564.6L347.2,562.9L348.8,561.7ZM349.6,526.7L354.1,524.2L356.3,524.6L354.7,526.2ZM343.5,546.5L346.0,540.5L348.1,540.1L348.3,542.2ZM404.5,581.8L405.4,587.2L402.9,589.2L401.4,586.3ZM432.9,579.4L435.9,574.9L438.3,574.6L437.7,576.9ZM379.4,582.0L377.1,584.5L376.2,583.7L376.0,582.5ZM421.9,531.8L420.1,536.1L417.4,535.6L417.4,532.9ZM392.2,544.8L390.8,539.4L392.2,536.8L393.6,539.4ZM399.3,535.1L395.2,535.1L393.8,533.5L395.8,532.8ZM416.8,598.3L410.1,596.8L408.6,594.8L411.1,594.5ZM432.4,553.2L430.5,557.3L428.0,557.5L428.2,555.0ZM337.1,575.0L341.4,571.6L343.5,572.2L342.5,574.2ZM350.3,606.7L347.3,610.4L345.9,609.3L345.5,607.5ZM433.5,518.1L434.9,511.6L437.0,510.1L437.3,512.6ZM423.5,591.5L427.7,596.3L427.6,598.4L425.7,597.5ZM397.6,524.6L400.5,519.3L402.5,520.1L403.1,522.1ZM327.7,565.8L330.0,571.6L328.5,573.3L326.6,571.9ZM325.6,572.4L328.7,574.7L328.6,576.7L326.6,576.1ZM423.7,590.6L427.9,589.3L428.9,591.1L427.6,592.7ZM342.8,558.0L346.5,556.9L346.9,558.5L346.2,559.9ZM346.8,565.6L343.0,570.9L341.2,570.1L340.7,568.1ZM389.1,559.2L385.3,555.5L385.8,553.1L388.0,554.0ZM347.3,587.7L345.0,582.9L346.2,580.4L348.1,582.4ZM366.4,562.7L369.5,567.9L368.8,569.1L367.4,568.7ZM336.1,535.4L335.1,540.3L332.8,540.0L331.7,537.9ZM348.3,573.3L352.1,573.5L351.9,575.1L350.8,576.1ZM426.4,607.6L429.2,604.3L430.6,605.5L430.8,607.2ZM414.2,556.8L413.8,561.1L411.3,561.4L410.5,559.0ZM331.5,566.2L329.4,562.7L330.7,561.1L332.5,562.3Z" fill="#6230c4"/>
<path d="M304.2,577.1L309.8,573.1L311.2,574.3L311.0,576.1ZM424.2,585.5L426.6,591.2L425.2,592.1L423.6,591.6ZM415.6,529.7L412.5,534.6L410.7,534.3L410.4,532.4ZM339.7,534.3L341.1,540.3L339.3,541.9L337.7,540.1ZM345.7,559.3L352.7,559.1L354.4,560.3L352.4,561.1ZM424.0,541.4L420.4,541.6L419.9,539.8L421.5,538.8ZM420.2,568.3L422.2,574.4L420.2,575.8L418.2,574.4ZM421.2,543.6L421.5,539.6L423.0,539.9L424.1,540.9ZM337.1,553.8L331.3,557.2L329.8,556.2L330.4,554.5ZM384.4,549.7L379.2,550.1L377.9,548.1L380.0,546.9ZM385.3,557.4L383.7,561.6L381.3,561.6L381.2,559.2ZM399.8,523.3L395.7,525.4L394.4,524.7L395.2,523.5ZM333.9,558.3L336.3,555.0L338.1,555.0L337.7,556.7ZM403.7,610.9L401.6,606.7L402.4,604.7L403.9,606.2ZM440.6,519.5L442.5,522.8L440.5,523.2L438.4,522.7ZM422.2,568.4L421.7,561.5L423.3,560.7L424.6,561.9ZM321.8,588.2L316.1,585.8L315.4,583.1L318.3,583.1ZM374.0,565.4L375.5,568.9L374.4,569.9L373.1,569.1ZM385.1,599.5L390.2,602.6L390.6,604.7L388.5,604.4ZM430.3,582.8L432.3,578.7L434.6,577.7L434.0,580.1ZM313.0,595.7L316.9,592.2L318.5,593.7L318.2,595.8ZM344.0,568.6L349.1,565.4L351.1,566.6L350.1,568.6ZM354.9,572.0L355.9,565.7L357.6,565.7L358.8,567.0ZM433.7,605.0L429.8,609.6L428.2,608.2L427.7,606.1ZM424.8,512.2L424.3,517.0L422.8,518.2L422.3,516.4ZM363.0,530.7L358.0,529.0L358.8,527.1L360.5,526.1ZM378.9,575.1L382.4,573.0L383.4,574.9L382.6,576.8ZM345.4,602.9L343.1,597.1L344.4,596.4L345.8,596.7ZM412.7,582.3L411.9,586.4L410.4,586.8L409.9,585.4ZM371.2,527.5L370.0,532.0L367.9,532.1L367.3,530.2ZM409.6,580.7L406.3,585.7L404.0,585.0L403.9,582.7ZM441.4,514.6L436.3,514.1L435.3,511.6L437.9,510.9ZM317.1,574.2L318.2,570.4L319.8,570.0L320.1,571.6ZM382.6,518.4L376.6,517.4L375.8,514.5L378.6,513.8ZM362.8,523.9L364.7,528.8L363.8,531.1L362.3,529.1ZM332.8,556.2L330.4,550.3L331.3,547.6L333.1,549.8ZM405.9,531.0L408.9,533.2L407.9,534.9L406.0,534.7ZM404.6,515.4L409.5,520.3L410.0,523.2L407.4,521.7ZM323.9,582.9L327.0,588.7L325.7,590.3L323.8,589.4ZM401.9,515.7L406.1,520.4L405.3,521.7L403.8,521.8ZM347.7,528.7L350.1,525.7L351.6,526.0L351.3,527.5ZM439.6,542.2L434.8,540.3L433.7,538.4L435.9,538.6ZM327.0,606.0L332.7,603.5L334.4,604.4L333.2,605.9ZM307.5,521.5L313.9,523.7L313.5,526.1L311.4,527.1ZM347.1,549.9L347.9,556.7L346.1,557.8L344.6,556.3ZM329.9,535.0L333.4,532.5L335.4,533.1L334.2,534.7ZM386.0,539.3L386.4,542.9L384.6,542.8L383.2,541.7ZM392.8,542.0L390.0,539.1L390.3,537.0L392.2,538.0ZM383.0,538.4L376.4,538.0L374.7,536.5L376.8,536.0ZM425.5,554.2L420.0,551.1L419.6,548.6L422.1,548.9ZM360.5,549.9L356.2,544.8L356.2,542.0L358.4,543.6ZM423.4,573.2L429.5,570.1L431.4,571.7L430.2,573.9ZM362.8,564.5L359.6,567.2L358.8,566.3L358.7,565.1ZM443.8,597.5L440.6,600.1L439.5,599.1L439.7,597.7ZM383.8,585.3L383.7,588.8L381.8,589.5L381.2,587.6ZM410.6,529.5L406.1,524.2L407.7,522.5L410.0,522.5ZM375.7,613.8L373.3,609.8L374.1,607.5L375.8,609.2ZM337.9,527.9L334.0,524.3L334.5,523.3L335.6,523.1ZM337.2,612.0L333.2,610.7L332.5,608.7L334.5,608.7ZM346.9,529.4L350.0,532.5L349.3,534.0L347.6,533.7ZM363.4,509.6L365.4,516.4L363.5,518.6L361.6,516.5ZM356.5,523.5L351.7,524.8L350.4,522.7L352.2,521.1ZM341.5,564.2L345.7,564.6L345.1,566.5L343.6,567.9ZM340.6,593.3L336.3,592.2L335.8,590.7L337.4,590.2ZM407.6,541.2L402.5,541.1L401.2,539.0L403.5,538.2ZM358.5,533.5L353.5,531.4L352.8,529.6L354.7,529.6ZM388.9,562.8L393.0,566.0L391.9,568.2L389.4,568.0ZM339.4,522.3L334.5,527.3L330.8,527.1L332.6,523.9ZM348.0,609.1L342.4,611.4L340.6,609.8L342.1,608.0ZM379.8,582.1L384.0,586.3L383.6,588.8L381.3,587.9ZM317.7,576.9L322.1,576.8L323.2,578.2L321.7,578.9ZM343.5,609.3L348.2,607.6L350.2,609.1L348.3,610.8ZM403.9,552.2L402.5,556.7L400.8,557.3L400.6,555.5ZM356.0,609.7L353.6,613.5L351.8,612.8L351.6,610.9ZM430.6,610.1L434.6,606.8L436.6,607.8L435.8,609.8ZM387.4,533.1L389.7,529.9L391.2,531.3L391.3,533.4ZM375.2,538.7L374.9,535.2L376.5,535.3L377.8,536.2ZM368.5,547.1L367.7,553.6L365.3,556.0L364.9,552.6ZM395.3,539.3L398.0,543.9L396.1,545.0L393.9,544.5ZM374.8,537.8L373.7,531.6L376.1,529.4L377.7,532.2ZM409.8,578.2L407.4,574.1L408.3,572.1L410.1,573.5ZM416.5,611.8L413.3,613.8L412.2,611.9L413.2,609.9ZM353.2,584.1L350.3,580.1L351.0,578.9L352.4,579.2ZM424.7,554.6L422.1,552.2L423.0,550.8L424.6,551.0ZM353.5,582.8L359.6,584.5L360.7,586.2L358.6,586.5ZM352.4,606.0L347.9,607.6L346.5,606.6L347.7,605.4ZM432.6,569.0L427.2,570.5L425.1,569.7L427.0,568.4ZM386.9,551.3L390.2,552.9L390.3,554.7L388.4,554.6ZM401.4,553.7L396.8,548.8L396.8,546.2L399.2,547.4ZM380.6,531.3L377.1,534.4L374.5,533.3L375.9,530.9ZM324.1,565.7L318.3,562.2L318.5,559.6L321.1,559.6ZM361.5,571.9L356.4,570.6L355.4,567.8L358.4,567.6ZM311.6,543.0L315.5,547.0L315.1,548.6L313.4,548.3ZM394.3,595.2L397.4,599.2L396.4,601.1L394.4,600.3ZM409.1,530.5L411.6,525.1L413.4,525.8L414.2,527.5ZM428.3,569.3L427.6,573.0L425.6,572.2L424.7,570.2ZM387.8,572.9L384.0,576.7L381.9,576.1L382.6,574.0ZM416.6,547.1L423.1,544.8L425.2,545.6L423.5,547.0ZM310.8,611.2L307.6,606.0L308.3,602.7L310.7,605.1ZM316.9,516.1L311.4,515.9L310.6,514.5L311.9,513.7ZM330.1,540.0L327.3,534.9L328.8,531.9L331.1,534.2ZM438.6,608.2L436.8,612.7L435.3,612.7L434.9,611.3ZM421.2,566.1L425.1,568.9L424.4,570.1L423.1,570.5ZM335.3,517.5L331.9,515.1L333.0,513.9L334.5,513.4ZM364.2,588.7L360.2,588.3L360.1,586.4L361.7,585.5ZM369.1,594.1L366.8,587.6L368.7,586.2L370.6,587.4ZM395.0,509.2L395.0,513.9L393.5,515.4L392.9,513.4ZM396.2,514.5L398.2,518.8L397.2,519.5L396.1,519.2ZM431.2,545.9L428.1,539.6L429.0,536.1L431.4,538.8ZM310.0,520.2L315.1,515.8L318.4,515.4L316.4,518.1ZM345.3,561.7L344.5,568.3L341.8,570.6L341.3,567.0ZM428.8,566.2L426.4,571.2L424.8,571.4L424.5,569.8ZM427.8,598.4L431.8,602.2L431.7,603.8L430.0,603.4ZM348.4,577.9L344.0,578.7L342.2,577.1L344.3,576.0ZM430.7,565.0L436.0,561.8L438.9,563.2L436.8,565.8ZM361.2,516.0L358.0,519.8L355.6,519.4L356.4,517.1ZM364.8,588.5L367.5,583.9L369.3,584.4L369.6,586.2ZM406.5,569.2L405.9,573.2L403.5,573.3L402.8,571.0ZM400.3,542.6L398.7,538.9L400.1,537.8L401.6,538.7ZM405.8,546.0L403.6,550.8L401.2,550.7L401.1,548.2ZM398.3,605.5L404.2,605.3L406.7,606.8L403.8,607.4ZM429.2,512.5L436.2,512.2L437.3,514.5L435.2,516.2ZM424.5,565.6L418.1,565.7L416.1,563.8L418.7,562.9ZM435.3,601.8L438.9,604.4L438.9,606.5L436.8,606.0ZM404.9,538.7L400.9,540.5L399.8,539.1L400.7,537.6ZM335.2,520.4L338.7,523.7L337.8,526.1L335.4,525.2ZM373.1,605.6L375.8,602.2L377.9,602.3L377.3,604.4ZM346.5,544.5L344.5,550.4L342.8,550.4L342.1,548.9ZM345.5,566.1L347.4,560.8L349.7,560.5L350.0,562.8ZM346.3,572.3L342.2,577.9L340.0,577.0L339.8,574.6ZM410.9,571.4L416.5,568.6L419.8,569.4L417.1,571.4ZM391.3,589.9L394.2,585.6L396.4,584.9L395.7,587.0ZM362.0,536.5L362.6,532.9L364.2,533.2L365.1,534.5ZM359.8,525.1L363.7,521.5L365.3,523.0L365.1,525.2ZM379.5,585.0L375.7,582.1L376.3,579.3L379.0,580.2ZM428.4,571.3L427.4,565.8L429.4,564.6L430.9,566.3ZM358.8,560.4L356.1,556.2L357.5,554.3L359.6,555.5ZM308.4,613.7L311.3,608.1L312.8,608.3L313.3,609.7ZM408.9,522.8L407.9,518.8L410.1,518.5L411.9,519.9ZM339.5,574.4L335.4,576.4L334.5,574.9L335.1,573.2ZM441.6,541.2L436.5,542.6L434.0,541.8L436.3,540.5ZM373.5,604.3L367.8,607.1L364.6,606.0L367.1,603.9ZM353.6,569.7L353.8,574.7L351.7,575.0L350.3,573.4ZM409.7,561.4L412.9,563.4L412.2,565.6L409.9,565.2ZM354.1,584.2L353.9,589.1L351.3,590.4L350.5,587.6ZM407.6,554.0L409.9,557.9L408.1,558.8L406.2,558.3ZM330.1,573.5L334.0,568.5L337.5,568.3L336.2,571.6ZM392.4,541.9L389.2,539.7L389.8,537.5L392.1,538.0ZM424.6,585.4L420.0,582.3L421.3,580.6L423.3,580.0ZM315.0,520.4L320.2,520.7L320.8,522.2L319.4,523.1ZM422.7,571.6L428.6,570.3L431.0,572.3L428.2,573.8ZM370.3,612.8L373.9,608.4L375.6,608.2L375.2,609.9ZM375.1,593.1L369.3,594.7L366.9,592.5L369.6,590.7ZM411.3,608.6L417.0,605.3L418.5,606.3L417.8,607.9ZM382.4,534.0L375.5,533.0L374.6,530.7L376.9,529.8ZM423.9,558.4L426.2,551.8L428.7,550.9L428.9,553.6ZM380.9,611.0L384.8,610.5L385.4,612.1L384.1,613.2ZM369.7,549.9L364.7,547.0L364.8,544.4L367.4,544.6ZM437.8,563.5L432.6,560.4L432.2,558.6L434.1,558.8ZM387.1,614.4L383.4,612.4L383.9,611.0L385.5,610.6ZM355.6,546.4L353.9,550.5L351.9,549.6L351.4,547.6ZM439.6,566.5L438.6,570.8L436.0,571.3L435.8,568.7Z" fill="#5226b2"/>
<path d="M359.1,511.5L363.0,514.0L362.1,515.4L360.5,515.9ZM306.9,605.7L308.9,600.0L311.6,599.1L311.7,602.0ZM323.3,594.3L319.9,592.4L320.0,591.1L321.4,590.9ZM327.5,553.7L327.3,558.2L325.0,559.0L324.1,556.7ZM397.9,563.2L397.7,566.5L396.5,566.7L395.7,565.7ZM321.2,603.2L318.0,607.6L315.0,607.5L316.0,604.6ZM376.3,592.2L376.6,586.3L379.0,585.5L380.1,587.7ZM339.3,603.9L337.1,608.7L334.9,609.2L335.0,606.9ZM406.9,598.2L412.1,602.7L413.0,605.3L410.5,604.0ZM396.3,558.9L398.3,564.5L396.2,565.4L394.2,564.5ZM395.5,558.9L394.4,564.1L392.4,564.5L391.7,562.7ZM365.9,530.0L363.2,527.9L364.0,526.2L365.8,526.5ZM401.8,576.3L398.3,581.8L395.7,583.2L396.8,580.5ZM345.8,550.7L343.3,545.7L343.9,543.1L345.7,545.0ZM350.7,581.0L353.7,577.2L355.4,578.6L355.5,580.8ZM434.8,540.6L435.0,536.5L437.6,536.0L438.4,538.5ZM389.1,543.8L382.7,542.0L381.2,538.7L384.8,538.7ZM312.9,573.8L317.1,575.6L316.6,576.8L315.6,577.5ZM396.7,572.6L395.9,567.7L397.3,565.7L398.2,567.9ZM416.0,603.5L421.2,604.9L421.8,606.9L419.8,607.3ZM403.1,574.6L407.6,579.4L408.1,582.3L405.7,580.7ZM321.1,550.6L321.8,546.6L323.6,547.6L325.0,549.2ZM397.7,608.2L393.1,607.7L391.5,606.0L393.8,605.7ZM401.9,525.5L399.7,522.0L401.5,520.8L403.5,521.7ZM322.3,521.3L325.1,518.6L326.6,520.0L326.2,522.0ZM392.8,586.5L397.0,587.6L396.0,589.5L394.3,590.6ZM387.5,538.4L391.0,538.9L391.3,540.3L390.0,540.9ZM397.0,553.4L393.5,553.0L393.9,551.3L395.2,550.4ZM405.1,530.3L407.0,526.2L408.1,526.5L408.7,527.5ZM344.6,568.1L340.7,568.4L340.6,566.5L342.0,565.2ZM368.6,583.0L367.5,587.2L365.3,587.5L364.9,585.3ZM401.4,515.1L398.3,518.2L396.8,517.3L397.0,515.7ZM362.3,610.8L368.1,610.5L368.6,612.7L367.0,614.3ZM407.4,576.7L404.3,575.3L404.7,573.9L406.1,573.5ZM402.3,595.3L407.4,591.2L410.5,591.3L408.6,593.8ZM334.5,571.8L335.8,568.0L337.5,568.9L338.3,570.7ZM384.0,553.8L382.1,547.9L383.5,546.7L385.0,547.7ZM385.8,565.5L386.7,559.0L389.4,557.0L389.8,560.3ZM332.6,591.5L333.7,596.6L332.0,597.9L330.5,596.3ZM397.3,568.0L393.2,562.5L394.6,561.3L396.5,561.2ZM405.5,558.4L409.8,561.7L408.8,563.4L406.9,563.7ZM399.3,529.6L400.7,533.5L398.6,534.5L396.9,532.9ZM349.6,548.8L342.7,549.8L340.0,548.1L342.9,546.8ZM366.5,600.9L362.9,603.9L361.7,602.9L361.9,601.4ZM320.8,587.2L322.5,590.7L320.9,591.4L319.3,590.8ZM419.3,590.4L423.1,592.9L422.6,595.2L420.2,594.9ZM424.5,531.8L419.0,530.3L419.2,528.2L421.1,527.3ZM392.3,531.0L386.6,528.7L386.3,525.9L389.0,525.8ZM429.3,539.2L425.1,536.9L425.4,535.1L427.1,534.9ZM437.3,586.0L434.7,582.7L436.0,580.4L438.3,581.8ZM426.4,558.9L430.2,557.9L431.3,559.3L430.0,560.6ZM419.6,548.7L419.0,545.1L420.8,544.2L421.9,546.0ZM418.3,542.2L414.3,537.3L415.6,535.6L417.7,535.8ZM400.2,578.2L394.4,575.0L393.7,571.8L396.9,572.5ZM376.7,530.9L371.8,528.7L372.1,526.3L374.5,525.9ZM408.4,538.2L409.5,532.6L411.8,532.6L412.8,534.6ZM387.3,604.5L389.1,608.8L388.1,610.5L386.7,609.1ZM423.5,536.3L418.6,534.0L418.0,531.1L420.9,531.5ZM318.7,584.4L314.1,584.9L313.1,583.2L314.7,582.1ZM359.9,536.5L353.3,536.0L352.7,534.0L354.4,532.7ZM362.2,560.7L363.4,565.3L361.9,567.3L360.6,565.1ZM364.9,574.0L359.3,573.3L357.9,571.8L359.9,571.3ZM340.2,516.9L343.2,510.9L345.4,510.9L345.8,513.1ZM313.6,610.3L308.7,608.5L308.1,606.1L310.6,606.0ZM385.0,587.7L384.7,591.9L383.0,592.9L382.4,591.0ZM316.9,521.2L312.5,516.9L313.7,515.0L316.0,515.1ZM394.0,519.0L394.8,515.3L397.2,515.6L397.7,518.0ZM388.3,578.8L392.1,579.3L392.1,580.6L391.0,581.4ZM341.6,551.3L336.4,548.5L336.7,546.5L338.6,546.1ZM307.8,585.9L313.1,582.7L315.2,584.0L314.0,586.1ZM327.3,597.3L323.1,600.1L321.0,599.8L322.3,598.1ZM386.9,534.8L392.9,538.0L392.5,539.7L391.0,540.3ZM344.6,579.9L350.4,579.9L351.6,582.3L349.2,583.4ZM441.2,608.6L436.8,606.9L436.6,605.4L438.1,605.0ZM306.4,538.8L310.9,540.8L311.1,542.5L309.4,542.7ZM330.2,516.0L334.1,512.0L335.7,512.4L335.4,514.1ZM435.5,518.2L429.9,519.7L429.2,517.8L430.2,516.0ZM351.6,530.7L347.3,531.9L346.7,529.8L348.0,528.0ZM429.9,585.8L424.0,585.4L423.6,583.6L425.0,582.5ZM398.4,603.9L392.9,602.4L392.6,599.7L395.2,599.1ZM416.4,532.9L411.3,528.4L412.1,526.2L414.4,526.4ZM322.8,552.4L321.0,555.8L319.4,555.2L319.2,553.6ZM384.6,553.1L387.9,557.6L386.5,558.7L384.8,558.7ZM372.1,603.5L370.3,607.4L368.5,608.1L368.7,606.1ZM365.5,546.8L366.2,551.2L363.9,552.5L362.7,550.2ZM316.8,538.5L314.3,534.2L315.2,533.4L316.4,533.6ZM412.5,602.1L413.5,607.4L411.9,608.9L410.6,607.2ZM413.8,515.8L409.4,521.4L407.7,521.0L407.6,519.3ZM415.6,603.6L420.4,605.9L420.7,607.5L419.1,607.5ZM390.9,584.0L385.1,582.6L384.8,580.0L387.2,579.2ZM437.7,594.3L435.1,589.9L437.0,588.1L439.3,589.5ZM333.7,529.3L330.6,527.2L331.4,525.1L333.5,525.5ZM319.3,542.7L313.5,543.4L311.7,542.1L313.7,541.0ZM403.2,562.3L396.8,562.4L396.4,561.0L397.3,559.7ZM329.2,523.7L333.0,521.8L334.5,523.3L333.2,525.0ZM387.4,551.8L386.2,548.2L388.0,547.6L389.5,548.7ZM372.3,544.9L372.2,551.1L369.6,552.8L368.6,549.9ZM305.2,570.1L310.1,568.2L312.2,569.8L310.3,571.6ZM438.6,544.6L431.7,546.5L428.5,544.5L431.7,542.5ZM409.7,554.4L412.3,552.3L413.5,553.0L413.1,554.3ZM413.6,541.0L418.0,545.0L417.9,547.6L415.5,546.6ZM348.1,551.2L346.2,555.7L344.9,555.5L344.3,554.3ZM415.0,553.6L418.0,556.4L416.4,557.8L414.4,557.6ZM404.7,554.1L400.5,549.4L400.0,546.3L402.5,548.2ZM401.5,526.7L406.3,523.9L409.2,525.4L407.0,527.7ZM352.6,577.8L348.9,574.4L349.6,572.0L352.0,572.8ZM313.1,596.3L316.3,599.4L315.6,601.9L313.2,600.7ZM437.7,603.9L441.4,605.4L440.4,606.9L438.8,607.7ZM324.8,565.2L321.6,568.9L319.2,569.4L320.3,567.1ZM379.7,549.4L374.9,545.4L374.9,542.4L377.7,543.5ZM381.7,519.4L383.9,516.7L385.8,516.8L385.1,518.5ZM413.0,570.4L411.4,574.6L409.9,573.9L409.1,572.5ZM391.2,569.8L396.1,570.7L396.3,572.0L395.2,572.7ZM375.6,603.0L376.2,597.1L377.8,596.0L378.5,597.9ZM403.4,584.7L405.9,579.8L407.6,580.7L408.4,582.5ZM399.6,535.5L396.0,533.2L396.5,531.2L398.5,531.4ZM405.6,535.2L403.7,538.4L402.1,537.4L401.9,535.5ZM403.2,561.5L407.5,558.1L408.9,559.2L408.7,560.9ZM428.6,581.1L427.2,586.6L425.2,588.1L425.1,585.5ZM400.6,542.0L397.2,543.5L396.7,542.3L397.1,541.0ZM383.1,545.4L381.2,551.2L379.2,551.2L378.4,549.2ZM430.2,547.8L430.6,544.1L432.4,544.8L433.7,546.4ZM410.5,548.8L408.8,544.1L410.2,542.5L411.8,544.0ZM362.0,520.5L365.1,517.6L366.5,519.2L366.2,521.2ZM403.0,539.2L409.1,537.4L411.4,538.8L409.3,540.3ZM332.9,536.0L334.7,529.6L336.8,527.9L336.8,530.6ZM307.7,560.0L310.9,558.5L311.4,559.6L311.1,560.8ZM357.3,562.5L359.9,559.9L361.4,560.7L361.0,562.4ZM351.9,561.0L355.0,566.3L353.8,568.5L351.6,567.1ZM370.4,560.1L373.6,562.5L372.6,564.4L370.5,564.1ZM392.0,531.2L395.2,535.0L394.1,536.8L392.1,536.2ZM438.3,535.6L435.2,534.2L435.8,533.0L437.0,532.4ZM313.1,563.4L315.5,558.3L317.4,558.1L317.6,560.1ZM388.5,599.7L386.7,603.2L385.0,602.6L384.7,600.9ZM350.8,540.2L354.8,540.9L354.7,542.2L353.6,543.1ZM389.5,550.4L390.7,545.7L392.7,544.7L392.9,546.9ZM387.4,543.8L388.8,548.7L386.6,550.1L384.8,548.2ZM343.4,518.6L343.7,522.5L342.1,522.3L340.8,521.4ZM420.2,599.2L424.1,600.4L423.1,602.2L421.4,603.2ZM343.0,585.1L343.5,579.5L345.9,578.6L346.9,581.0ZM412.6,544.3L409.0,539.1L409.5,535.8L412.0,538.0ZM321.6,588.3L315.2,587.3L315.1,585.8L316.2,584.7ZM421.1,516.9L419.4,520.9L418.3,520.6L417.7,519.7ZM338.1,579.3L339.4,573.9L341.5,574.4L342.7,576.2ZM371.6,570.8L367.8,572.8L366.1,572.1L367.3,570.6ZM322.4,595.1L318.8,597.1L318.1,595.2L318.7,593.2ZM396.8,528.3L401.6,529.9L402.7,531.7L400.5,531.7ZM414.3,596.7L414.8,602.6L413.0,602.8L411.5,601.9ZM371.2,528.1L368.1,522.4L369.3,519.9L371.5,521.7ZM378.3,563.1L376.8,557.6L377.9,556.9L379.1,557.4ZM401.0,538.9L404.7,532.8L407.2,533.1L407.4,535.6ZM380.8,576.3L376.9,577.3L376.6,575.0L378.1,573.3ZM419.6,542.4L424.8,545.1L424.1,546.7L422.6,547.5ZM344.8,539.5L346.4,544.1L344.3,545.6L342.5,543.8ZM319.1,576.2L315.8,571.2L316.6,568.9L318.6,570.2ZM331.2,598.0L327.4,597.8L327.2,595.3L329.7,594.5ZM347.6,574.2L348.9,577.2L347.9,578.9L346.7,577.4ZM418.8,567.5L415.7,565.5L415.8,563.8L417.5,564.1ZM344.2,553.4L345.7,549.9L347.0,550.4L347.6,551.6ZM442.4,517.6L435.4,519.1L433.2,517.0L435.7,515.2ZM411.4,515.1L407.5,519.3L405.7,518.0L405.7,515.7ZM348.3,555.6L352.4,558.2L352.6,560.8L350.1,560.1ZM404.5,554.5L407.5,557.8L406.4,560.2L404.1,558.9ZM360.5,604.3L364.5,602.8L366.1,604.1L364.6,605.5ZM372.7,538.3L375.6,543.1L373.7,545.0L371.5,543.8ZM382.2,556.6L386.7,555.4L388.2,556.4L386.8,557.5Z" fill="#7646cc"/>
<path d="M398.0,553.1L404.5,556.3L405.0,559.7L401.6,559.4ZM331.5,577.6L325.5,576.0L324.0,573.1L327.2,573.1ZM433.6,517.8L427.4,519.7L424.9,518.9L427.1,517.5ZM376.2,600.3L370.7,601.6L368.8,599.9L370.8,598.3ZM370.0,584.4L368.9,579.9L370.9,578.0L372.3,580.4ZM431.8,531.7L428.5,529.9L428.7,528.5L430.2,528.3ZM426.0,549.9L431.6,551.4L432.8,553.7L430.2,553.8ZM322.5,552.3L318.0,553.1L317.6,550.8L319.1,549.2ZM394.0,592.9L398.1,597.7L398.6,600.8L396.3,598.8ZM348.2,529.8L346.3,536.1L344.0,536.8L343.5,534.5ZM366.6,607.8L371.7,605.9L373.2,607.0L372.0,608.5ZM337.5,516.6L333.8,515.0L335.2,513.4L337.1,512.6ZM338.7,562.8L338.3,556.0L340.0,555.3L341.4,556.5ZM378.7,607.5L379.5,604.1L381.1,604.5L381.8,605.9ZM433.1,533.7L436.4,529.1L439.1,529.5L438.5,532.1ZM313.4,514.3L319.8,514.3L320.6,516.5L318.7,517.9ZM326.8,580.0L320.5,581.1L319.6,579.8L320.6,578.5ZM391.6,588.6L396.5,593.1L395.5,595.0L393.4,595.0ZM430.0,584.3L428.4,587.8L426.8,586.7L426.2,584.9ZM396.4,536.8L390.2,537.5L388.5,535.7L390.6,534.5ZM368.8,543.0L372.4,540.2L374.5,541.5L373.3,543.7Z" fill="#421f90"/>
</g>
</g>
<rect x="419.2" y="602.7" width="14.6" height="4.8" fill="#fff" stroke="#111" stroke-width="0.9"/>
<text x="426.5" y="606.3" font-size="3.4" text-anchor="middle" fill="#222">100 µm</text>
<text x="67.00" y="636.60" font-size="13" font-weight="bold" font-style="normal" text-anchor="end" >Vector</text>
<text x="123.70" y="636.60" font-size="14.5" font-weight="bold" font-style="normal" text-anchor="middle" >+</text>
<text x="255.00" y="636.60" font-size="14.5" font-weight="bold" font-style="normal" text-anchor="middle" >-</text>
<text x="387.10" y="636.60" font-size="14.5" font-weight="bold" font-style="normal" text-anchor="middle" >-</text>
<text x="485.60" y="636.60" font-size="13" font-weight="bold" font-style="normal" text-anchor="end" >Vector</text>
<text x="518.60" y="636.60" font-size="14.5" font-weight="bold" font-style="normal" text-anchor="middle" >+</text>
<text x="552.30" y="636.60" font-size="14.5" font-weight="bold" font-style="normal" text-anchor="middle" >-</text>
<text x="586.30" y="636.60" font-size="14.5" font-weight="bold" font-style="normal" text-anchor="middle" >-</text>
<text x="66.40" y="662.60" font-size="13" font-weight="bold" font-style="normal" text-anchor="end" >LINC00152</text>
<text x="123.70" y="662.60" font-size="14.5" font-weight="bold" font-style="normal" text-anchor="middle" >-</text>
<text x="255.00" y="662.60" font-size="14.5" font-weight="bold" font-style="normal" text-anchor="middle" >+</text>
<text x="387.10" y="662.60" font-size="14.5" font-weight="bold" font-style="normal" text-anchor="middle" >+</text>
<text x="485.60" y="662.60" font-size="13" font-weight="bold" font-style="normal" text-anchor="end" >LINC00152</text>
<text x="522.50" y="662.60" font-size="14.5" font-weight="bold" font-style="normal" text-anchor="middle" >-</text>
<text x="556.20" y="662.60" font-size="14.5" font-weight="bold" font-style="normal" text-anchor="middle" >+</text>
<text x="587.50" y="662.60" font-size="14.5" font-weight="bold" font-style="normal" text-anchor="middle" >+</text>
<text x="63.20" y="694.00" font-size="13" font-weight="bold" font-style="normal" text-anchor="end" >siCtrl</text>
<text x="123.70" y="694.00" font-size="14.5" font-weight="bold" font-style="normal" text-anchor="middle" >+</text>
<text x="255.00" y="694.00" font-size="14.5" font-weight="bold" font-style="normal" text-anchor="middle" >+</text>
<text x="387.10" y="694.00" font-size="14.5" font-weight="bold" font-style="normal" text-anchor="middle" >-</text>
<text x="485.60" y="694.00" font-size="13" font-weight="bold" font-style="normal" text-anchor="end" >siCtrl</text>
<text x="518.60" y="694.00" font-size="14.5" font-weight="bold" font-style="normal" text-anchor="middle" >+</text>
<text x="552.30" y="694.00" font-size="14.5" font-weight="bold" font-style="normal" text-anchor="middle" >+</text>
<text x="586.30" y="694.00" font-size="14.5" font-weight="bold" font-style="normal" text-anchor="middle" >-</text>
<text x="65.50" y="719.60" font-size="13" font-weight="bold" font-style="normal" text-anchor="end" >siHuR</text>
<text x="123.70" y="719.60" font-size="14.5" font-weight="bold" font-style="normal" text-anchor="middle" >-</text>
<text x="255.00" y="719.60" font-size="14.5" font-weight="bold" font-style="normal" text-anchor="middle" >-</text>
<text x="387.10" y="719.60" font-size="14.5" font-weight="bold" font-style="normal" text-anchor="middle" >+</text>
<text x="485.60" y="719.60" font-size="13" font-weight="bold" font-style="normal" text-anchor="end" >siHuR</text>
<text x="518.60" y="719.60" font-size="14.5" font-weight="bold" font-style="normal" text-anchor="middle" >-</text>
<text x="552.30" y="719.60" font-size="14.5" font-weight="bold" font-style="normal" text-anchor="middle" >-</text>
<text x="586.30" y="719.60" font-size="14.5" font-weight="bold" font-style="normal" text-anchor="middle" >+</text>
<line x1="496.90" y1="445.00" x2="496.90" y2="611.00" stroke="#000" stroke-width="2.2" />
<line x1="489.60" y1="611.00" x2="496.90" y2="611.00" stroke="#000" stroke-width="2.2" />
<text x="489.00" y="615.80" font-size="13.5" font-weight="normal" font-style="normal" text-anchor="end" stroke="#000" stroke-width="0.3">0</text>
<line x1="489.60" y1="556.00" x2="496.90" y2="556.00" stroke="#000" stroke-width="2.2" />
<text x="489.00" y="560.80" font-size="13.5" font-weight="normal" font-style="normal" text-anchor="end" stroke="#000" stroke-width="0.3">1</text>
<line x1="489.60" y1="501.00" x2="496.90" y2="501.00" stroke="#000" stroke-width="2.2" />
<text x="489.00" y="505.80" font-size="13.5" font-weight="normal" font-style="normal" text-anchor="end" stroke="#000" stroke-width="0.3">2</text>
<line x1="489.60" y1="446.00" x2="496.90" y2="446.00" stroke="#000" stroke-width="2.2" />
<text x="489.00" y="450.80" font-size="13.5" font-weight="normal" font-style="normal" text-anchor="end" stroke="#000" stroke-width="0.3">3</text>
<line x1="489.60" y1="611.00" x2="608.00" y2="611.00" stroke="#000" stroke-width="2.5" />
<rect x="509.90" y="557.20" width="18.60" height="53.80" fill="#fff" stroke="#000" stroke-width="2.4"/>
<line x1="519.20" y1="556.00" x2="519.20" y2="554.90" stroke="#000" stroke-width="2.4" />
<circle cx="514.20" cy="556.00" r="2.8" fill="#000"/>
<circle cx="519.20" cy="555.45" r="2.8" fill="#000"/>
<circle cx="524.20" cy="556.00" r="2.10" fill="#fff" stroke="#000" stroke-width="1.5"/>
<line x1="519.20" y1="611.00" x2="519.20" y2="617.50" stroke="#000" stroke-width="2.2" />
<rect x="542.80" y="497.80" width="18.60" height="113.20" fill="#fde0e0" stroke="#000" stroke-width="2.4"/>
<line x1="552.10" y1="496.60" x2="552.10" y2="494.40" stroke="#000" stroke-width="2.4" />
<circle cx="547.10" cy="495.50" r="2.8" fill="#000"/>
<circle cx="552.10" cy="496.60" r="2.10" fill="#fff" stroke="#000" stroke-width="1.5"/>
<circle cx="557.10" cy="496.05" r="2.8" fill="#000"/>
<line x1="552.10" y1="611.00" x2="552.10" y2="617.50" stroke="#000" stroke-width="2.2" />
<rect x="575.40" y="554.45" width="18.60" height="56.55" fill="#c9f4e3" stroke="#000" stroke-width="2.4"/>
<line x1="584.70" y1="553.25" x2="584.70" y2="549.40" stroke="#000" stroke-width="2.4" />
<circle cx="579.70" cy="550.50" r="2.10" fill="#fff" stroke="#000" stroke-width="1.5"/>
<circle cx="584.70" cy="556.00" r="2.10" fill="#fff" stroke="#000" stroke-width="1.5"/>
<circle cx="589.70" cy="552.70" r="2.8" fill="#000"/>
<line x1="584.70" y1="611.00" x2="584.70" y2="617.50" stroke="#000" stroke-width="2.2" />
<text transform="translate(479.0,527.8) rotate(-90)" font-size="15.8" font-weight="bold" text-anchor="middle">Relative Cell Numbers</text>
<path d="M515.75,491.20 V487.00 H550.75 V491.20" fill="none" stroke="#000" stroke-width="2.3" stroke-linejoin="miter"/>
<text x="515.58" y="490.09" font-size="21" font-weight="normal" font-style="normal" text-anchor="start" stroke="#000" stroke-width="0.3">****</text>
<path d="M552.15,483.00 V476.50 H591.85 V483.00" fill="none" stroke="#000" stroke-width="2.3" stroke-linejoin="miter"/>
<text x="555.08" y="479.69" font-size="21" font-weight="normal" font-style="normal" text-anchor="start" stroke="#000" stroke-width="0.3">****</text>
</svg>
</body></html>
